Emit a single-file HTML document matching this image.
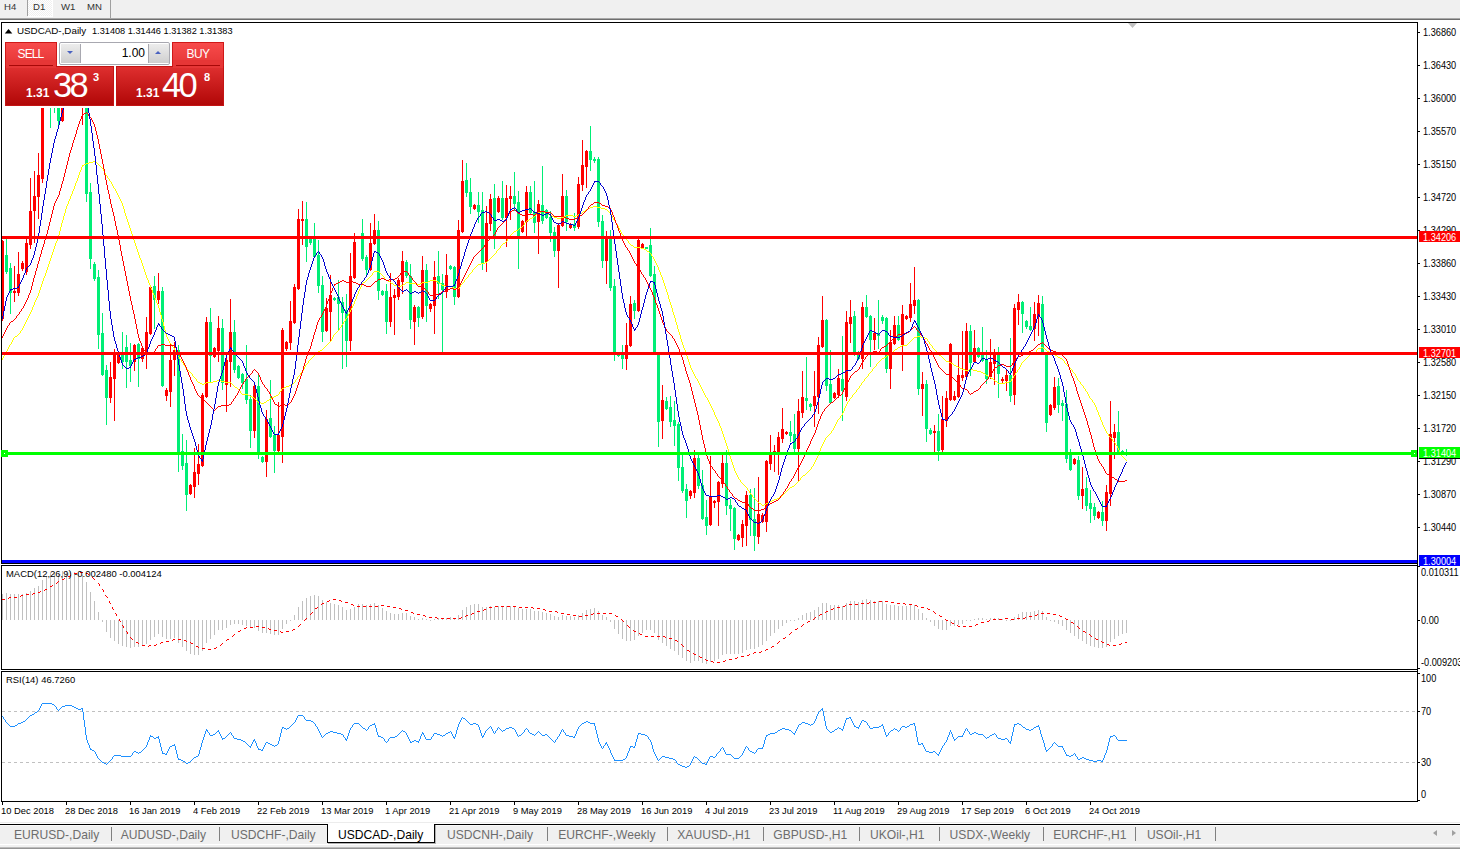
<!DOCTYPE html>
<html><head><meta charset="utf-8"><title>USDCAD-,Daily</title>
<style>
html,body{margin:0;padding:0;background:#fff;}
body{width:1460px;height:849px;position:relative;overflow:hidden;font-family:"Liberation Sans",sans-serif;color:#000;}
div{position:absolute;white-space:nowrap;}
.tbar{left:0;top:0;width:1460px;height:18px;background:#f0f0f0;}
.tb{top:1px;font-size:9.6px;line-height:12px;color:#333;}
.ax{left:1423px;font-size:10.5px;line-height:12px;height:12px;transform:scaleX(.875);transform-origin:0 50%;}
.pl{left:1419px;width:41px;height:11px;color:#fff;overflow:hidden;}
.pl span{position:absolute;left:4px;top:0;font-size:10.5px;line-height:12px;transform:scaleX(.875);transform-origin:0 50%;}
.dt{top:805px;font-size:9.7px;line-height:12px;transform:scaleX(.965);transform-origin:0 50%;}
.tab{top:827px;font-size:12.1px;line-height:16px;color:#6d6d6d;}
.sep{top:827px;width:1px;height:14px;background:#808080;}
.ttl{font-size:9.5px;line-height:12px;}
</style></head><body>
<div class="tbar"></div>
<div style="left:0;top:18px;width:1460px;height:1px;background:#a8a8a8"></div>
<div style="left:0;top:19px;width:1460px;height:1px;background:#6e6e6e"></div>
<div style="left:28px;top:0;width:25px;height:17px;background:#fff"></div><div style="left:28px;top:0;width:24px;height:16px;background:conic-gradient(#fff 25%,#f0f0f0 0 50%,#fff 0 75%,#f0f0f0 0) 0 0/2px 2px"></div>
<div style="left:27px;top:0;width:1px;height:16px;background:#a0a0a0"></div>
<div style="left:110px;top:0;width:1px;height:18px;background:#a0a0a0"></div>
<div class="tb" style="left:4px">H4</div><div class="tb" style="left:33px">D1</div><div class="tb" style="left:61px">W1</div><div class="tb" style="left:87px">MN</div>
<svg width="1460" height="849" viewBox="0 0 1460 849" shape-rendering="crispEdges" style="position:absolute;left:0;top:0">
<defs><clipPath id="cm"><rect x="2" y="23" width="1416" height="540"/></clipPath><clipPath id="c2"><rect x="2" y="566" width="1415" height="103"/></clipPath><clipPath id="c3"><rect x="2" y="672" width="1415" height="129"/></clipPath></defs>
<g clip-path="url(#cm)">
<g fill="#ff0000"><rect x="2" y="240" width="1" height="81"/><rect x="1" y="241" width="3" height="78"/><rect x="14" y="266" width="1" height="36"/><rect x="13" y="291" width="3" height="2"/><rect x="18" y="252" width="1" height="44"/><rect x="17" y="274" width="3" height="19"/><rect x="22" y="261" width="1" height="10"/><rect x="21" y="263" width="3" height="6"/><rect x="26" y="238" width="1" height="37"/><rect x="25" y="243" width="3" height="29"/><rect x="30" y="178" width="1" height="71"/><rect x="29" y="211" width="3" height="34"/><rect x="34" y="171" width="1" height="72"/><rect x="33" y="196" width="3" height="15"/><rect x="38" y="153" width="1" height="66"/><rect x="37" y="175" width="3" height="22"/><rect x="42" y="96" width="1" height="87"/><rect x="41" y="100" width="3" height="79"/><rect x="62" y="80" width="1" height="42"/><rect x="61" y="84" width="3" height="37"/><rect x="66" y="66" width="1" height="23"/><rect x="65" y="76" width="3" height="9"/><rect x="82" y="50" width="1" height="75"/><rect x="81" y="81" width="3" height="8"/><rect x="110" y="362" width="1" height="41"/><rect x="109" y="377" width="3" height="21"/><rect x="114" y="349" width="1" height="72"/><rect x="113" y="353" width="3" height="26"/><rect x="118" y="352" width="1" height="12"/><rect x="117" y="353" width="3" height="10"/><rect x="134" y="344" width="1" height="27"/><rect x="133" y="345" width="3" height="17"/><rect x="142" y="347" width="1" height="15"/><rect x="141" y="348" width="3" height="11"/><rect x="146" y="317" width="1" height="52"/><rect x="145" y="332" width="3" height="21"/><rect x="150" y="286" width="1" height="49"/><rect x="149" y="287" width="3" height="47"/><rect x="158" y="273" width="1" height="31"/><rect x="157" y="291" width="3" height="9"/><rect x="166" y="388" width="1" height="13"/><rect x="165" y="390" width="3" height="6"/><rect x="170" y="344" width="1" height="63"/><rect x="169" y="360" width="3" height="32"/><rect x="174" y="342" width="1" height="34"/><rect x="173" y="350" width="3" height="10"/><rect x="190" y="484" width="1" height="11"/><rect x="189" y="485" width="3" height="9"/><rect x="194" y="448" width="1" height="50"/><rect x="193" y="472" width="3" height="15"/><rect x="198" y="444" width="1" height="41"/><rect x="197" y="464" width="3" height="10"/><rect x="202" y="393" width="1" height="74"/><rect x="201" y="395" width="3" height="71"/><rect x="206" y="317" width="1" height="81"/><rect x="205" y="322" width="3" height="75"/><rect x="214" y="347" width="1" height="11"/><rect x="213" y="348" width="3" height="9"/><rect x="218" y="316" width="1" height="46"/><rect x="217" y="328" width="3" height="23"/><rect x="226" y="355" width="1" height="57"/><rect x="225" y="360" width="3" height="25"/><rect x="230" y="299" width="1" height="88"/><rect x="229" y="332" width="3" height="30"/><rect x="254" y="384" width="1" height="54"/><rect x="253" y="386" width="3" height="45"/><rect x="266" y="410" width="1" height="67"/><rect x="265" y="419" width="3" height="43"/><rect x="278" y="402" width="1" height="50"/><rect x="277" y="435" width="3" height="16"/><rect x="282" y="328" width="1" height="135"/><rect x="281" y="330" width="3" height="107"/><rect x="286" y="341" width="1" height="10"/><rect x="285" y="342" width="3" height="7"/><rect x="290" y="301" width="1" height="49"/><rect x="289" y="321" width="3" height="22"/><rect x="294" y="284" width="1" height="40"/><rect x="293" y="287" width="3" height="36"/><rect x="298" y="209" width="1" height="81"/><rect x="297" y="219" width="3" height="70"/><rect x="302" y="201" width="1" height="44"/><rect x="301" y="219" width="3" height="2"/><rect x="326" y="298" width="1" height="34"/><rect x="325" y="308" width="3" height="23"/><rect x="330" y="275" width="1" height="67"/><rect x="329" y="295" width="3" height="17"/><rect x="350" y="253" width="1" height="98"/><rect x="349" y="276" width="3" height="65"/><rect x="354" y="233" width="1" height="46"/><rect x="353" y="242" width="3" height="36"/><rect x="358" y="236" width="1" height="3"/><rect x="357" y="236" width="3" height="2"/><rect x="370" y="223" width="1" height="48"/><rect x="369" y="243" width="3" height="27"/><rect x="374" y="214" width="1" height="31"/><rect x="373" y="230" width="3" height="14"/><rect x="390" y="273" width="1" height="54"/><rect x="389" y="297" width="3" height="25"/><rect x="394" y="289" width="1" height="46"/><rect x="393" y="295" width="3" height="3"/><rect x="398" y="278" width="1" height="22"/><rect x="397" y="280" width="3" height="17"/><rect x="402" y="251" width="1" height="43"/><rect x="401" y="261" width="3" height="21"/><rect x="414" y="305" width="1" height="40"/><rect x="413" y="307" width="3" height="15"/><rect x="422" y="256" width="1" height="63"/><rect x="421" y="270" width="3" height="47"/><rect x="430" y="303" width="1" height="9"/><rect x="429" y="304" width="3" height="5"/><rect x="434" y="261" width="1" height="73"/><rect x="433" y="277" width="3" height="29"/><rect x="446" y="254" width="1" height="44"/><rect x="445" y="275" width="3" height="17"/><rect x="458" y="220" width="1" height="78"/><rect x="457" y="230" width="3" height="67"/><rect x="462" y="160" width="1" height="73"/><rect x="461" y="181" width="3" height="51"/><rect x="474" y="204" width="1" height="6"/><rect x="473" y="205" width="3" height="4"/><rect x="486" y="206" width="1" height="66"/><rect x="485" y="223" width="3" height="39"/><rect x="490" y="194" width="1" height="37"/><rect x="489" y="199" width="3" height="25"/><rect x="498" y="196" width="1" height="17"/><rect x="497" y="198" width="3" height="14"/><rect x="506" y="185" width="1" height="62"/><rect x="505" y="198" width="3" height="20"/><rect x="510" y="186" width="1" height="34"/><rect x="509" y="196" width="3" height="3"/><rect x="522" y="220" width="1" height="13"/><rect x="521" y="221" width="3" height="11"/><rect x="526" y="186" width="1" height="51"/><rect x="525" y="192" width="3" height="30"/><rect x="538" y="200" width="1" height="54"/><rect x="537" y="204" width="3" height="18"/><rect x="558" y="223" width="1" height="65"/><rect x="557" y="225" width="3" height="26"/><rect x="562" y="174" width="1" height="53"/><rect x="561" y="196" width="3" height="30"/><rect x="570" y="223" width="1" height="6"/><rect x="569" y="224" width="3" height="4"/><rect x="578" y="177" width="1" height="52"/><rect x="577" y="184" width="3" height="43"/><rect x="582" y="140" width="1" height="51"/><rect x="581" y="165" width="3" height="20"/><rect x="586" y="150" width="1" height="38"/><rect x="585" y="151" width="3" height="16"/><rect x="606" y="231" width="1" height="53"/><rect x="605" y="238" width="3" height="23"/><rect x="626" y="323" width="1" height="47"/><rect x="625" y="345" width="3" height="14"/><rect x="630" y="296" width="1" height="51"/><rect x="629" y="304" width="3" height="42"/><rect x="638" y="238" width="1" height="74"/><rect x="637" y="240" width="3" height="71"/><rect x="642" y="243" width="1" height="6"/><rect x="641" y="244" width="3" height="4"/><rect x="662" y="385" width="1" height="54"/><rect x="661" y="400" width="3" height="21"/><rect x="690" y="490" width="1" height="9"/><rect x="689" y="491" width="3" height="5"/><rect x="694" y="450" width="1" height="48"/><rect x="693" y="458" width="3" height="35"/><rect x="710" y="456" width="1" height="70"/><rect x="709" y="496" width="3" height="29"/><rect x="714" y="500" width="1" height="8"/><rect x="713" y="501" width="3" height="2"/><rect x="718" y="481" width="1" height="45"/><rect x="717" y="482" width="3" height="20"/><rect x="722" y="454" width="1" height="34"/><rect x="721" y="463" width="3" height="21"/><rect x="738" y="534" width="1" height="7"/><rect x="737" y="535" width="3" height="5"/><rect x="742" y="520" width="1" height="27"/><rect x="741" y="524" width="3" height="14"/><rect x="746" y="491" width="1" height="55"/><rect x="745" y="495" width="3" height="31"/><rect x="758" y="477" width="1" height="67"/><rect x="757" y="514" width="3" height="23"/><rect x="762" y="513" width="1" height="10"/><rect x="761" y="515" width="3" height="7"/><rect x="766" y="460" width="1" height="72"/><rect x="765" y="461" width="3" height="61"/><rect x="770" y="435" width="1" height="35"/><rect x="769" y="454" width="3" height="10"/><rect x="774" y="445" width="1" height="27"/><rect x="773" y="451" width="3" height="4"/><rect x="778" y="432" width="1" height="43"/><rect x="777" y="437" width="3" height="16"/><rect x="782" y="408" width="1" height="35"/><rect x="781" y="429" width="3" height="10"/><rect x="786" y="431" width="1" height="4"/><rect x="785" y="432" width="3" height="2"/><rect x="798" y="399" width="1" height="82"/><rect x="797" y="411" width="3" height="38"/><rect x="802" y="371" width="1" height="47"/><rect x="801" y="397" width="3" height="16"/><rect x="814" y="371" width="1" height="56"/><rect x="813" y="396" width="3" height="10"/><rect x="818" y="337" width="1" height="77"/><rect x="817" y="345" width="3" height="52"/><rect x="822" y="296" width="1" height="52"/><rect x="821" y="320" width="3" height="27"/><rect x="834" y="392" width="1" height="7"/><rect x="833" y="393" width="3" height="5"/><rect x="838" y="369" width="1" height="29"/><rect x="837" y="378" width="3" height="17"/><rect x="846" y="311" width="1" height="90"/><rect x="845" y="322" width="3" height="75"/><rect x="850" y="300" width="1" height="43"/><rect x="849" y="317" width="3" height="7"/><rect x="862" y="302" width="1" height="67"/><rect x="861" y="307" width="3" height="52"/><rect x="874" y="318" width="1" height="32"/><rect x="873" y="333" width="3" height="7"/><rect x="890" y="330" width="1" height="59"/><rect x="889" y="342" width="3" height="27"/><rect x="894" y="316" width="1" height="29"/><rect x="893" y="325" width="3" height="19"/><rect x="902" y="305" width="1" height="66"/><rect x="901" y="314" width="3" height="31"/><rect x="906" y="315" width="1" height="5"/><rect x="905" y="316" width="3" height="3"/><rect x="910" y="283" width="1" height="39"/><rect x="909" y="304" width="3" height="14"/><rect x="914" y="267" width="1" height="47"/><rect x="913" y="300" width="3" height="6"/><rect x="922" y="372" width="1" height="44"/><rect x="921" y="384" width="3" height="5"/><rect x="934" y="425" width="1" height="28"/><rect x="933" y="431" width="3" height="2"/><rect x="942" y="396" width="1" height="57"/><rect x="941" y="419" width="3" height="31"/><rect x="946" y="391" width="1" height="36"/><rect x="945" y="398" width="3" height="23"/><rect x="950" y="343" width="1" height="58"/><rect x="949" y="344" width="3" height="56"/><rect x="954" y="391" width="1" height="10"/><rect x="953" y="396" width="3" height="4"/><rect x="958" y="354" width="1" height="44"/><rect x="957" y="375" width="3" height="22"/><rect x="962" y="331" width="1" height="50"/><rect x="961" y="375" width="3" height="3"/><rect x="966" y="323" width="1" height="55"/><rect x="965" y="331" width="3" height="46"/><rect x="974" y="330" width="1" height="33"/><rect x="973" y="348" width="3" height="14"/><rect x="990" y="339" width="1" height="40"/><rect x="989" y="362" width="3" height="15"/><rect x="994" y="349" width="1" height="36"/><rect x="993" y="354" width="3" height="10"/><rect x="1002" y="377" width="1" height="6"/><rect x="1001" y="379" width="3" height="2"/><rect x="1006" y="370" width="1" height="21"/><rect x="1005" y="375" width="3" height="6"/><rect x="1014" y="304" width="1" height="101"/><rect x="1013" y="308" width="3" height="87"/><rect x="1018" y="294" width="1" height="31"/><rect x="1017" y="302" width="3" height="8"/><rect x="1034" y="302" width="1" height="39"/><rect x="1033" y="314" width="3" height="15"/><rect x="1038" y="295" width="1" height="41"/><rect x="1037" y="303" width="3" height="13"/><rect x="1050" y="404" width="1" height="12"/><rect x="1049" y="405" width="3" height="10"/><rect x="1054" y="377" width="1" height="33"/><rect x="1053" y="387" width="3" height="21"/><rect x="1074" y="458" width="1" height="7"/><rect x="1073" y="459" width="3" height="5"/><rect x="1082" y="467" width="1" height="42"/><rect x="1081" y="489" width="3" height="7"/><rect x="1098" y="511" width="1" height="8"/><rect x="1097" y="512" width="3" height="6"/><rect x="1106" y="485" width="1" height="46"/><rect x="1105" y="492" width="3" height="29"/><rect x="1110" y="401" width="1" height="105"/><rect x="1109" y="434" width="3" height="60"/><rect x="1114" y="424" width="1" height="35"/><rect x="1113" y="432" width="3" height="6"/></g>
<g fill="#00ee76"><rect x="6" y="236" width="1" height="38"/><rect x="5" y="255" width="3" height="17"/><rect x="10" y="263" width="1" height="51"/><rect x="9" y="268" width="3" height="25"/><rect x="46" y="95" width="1" height="4"/><rect x="45" y="96" width="3" height="2"/><rect x="50" y="88" width="1" height="40"/><rect x="49" y="97" width="3" height="3"/><rect x="54" y="96" width="1" height="17"/><rect x="53" y="99" width="3" height="7"/><rect x="58" y="98" width="1" height="29"/><rect x="57" y="106" width="3" height="15"/><rect x="70" y="76" width="1" height="3"/><rect x="69" y="76" width="3" height="2"/><rect x="74" y="62" width="1" height="30"/><rect x="73" y="77" width="3" height="6"/><rect x="78" y="76" width="1" height="19"/><rect x="77" y="82" width="3" height="7"/><rect x="86" y="78" width="1" height="124"/><rect x="85" y="81" width="3" height="113"/><rect x="90" y="183" width="1" height="86"/><rect x="89" y="192" width="3" height="67"/><rect x="94" y="262" width="1" height="19"/><rect x="93" y="264" width="3" height="15"/><rect x="98" y="270" width="1" height="79"/><rect x="97" y="277" width="3" height="58"/><rect x="102" y="313" width="1" height="63"/><rect x="101" y="333" width="3" height="42"/><rect x="106" y="365" width="1" height="60"/><rect x="105" y="370" width="3" height="28"/><rect x="122" y="332" width="1" height="37"/><rect x="121" y="354" width="3" height="8"/><rect x="126" y="335" width="1" height="53"/><rect x="125" y="347" width="3" height="15"/><rect x="130" y="343" width="1" height="39"/><rect x="129" y="360" width="3" height="6"/><rect x="138" y="343" width="1" height="44"/><rect x="137" y="344" width="3" height="15"/><rect x="154" y="276" width="1" height="53"/><rect x="153" y="286" width="3" height="14"/><rect x="162" y="287" width="1" height="100"/><rect x="161" y="291" width="3" height="95"/><rect x="178" y="345" width="1" height="127"/><rect x="177" y="350" width="3" height="105"/><rect x="182" y="434" width="1" height="36"/><rect x="181" y="451" width="3" height="15"/><rect x="186" y="440" width="1" height="71"/><rect x="185" y="463" width="3" height="32"/><rect x="210" y="308" width="1" height="75"/><rect x="209" y="322" width="3" height="34"/><rect x="222" y="319" width="1" height="71"/><rect x="221" y="328" width="3" height="55"/><rect x="234" y="320" width="1" height="53"/><rect x="233" y="332" width="3" height="38"/><rect x="238" y="365" width="1" height="14"/><rect x="237" y="366" width="3" height="12"/><rect x="242" y="373" width="1" height="16"/><rect x="241" y="374" width="3" height="9"/><rect x="246" y="345" width="1" height="59"/><rect x="245" y="379" width="3" height="21"/><rect x="250" y="395" width="1" height="53"/><rect x="249" y="399" width="3" height="32"/><rect x="258" y="374" width="1" height="85"/><rect x="257" y="386" width="3" height="68"/><rect x="262" y="456" width="1" height="7"/><rect x="261" y="457" width="3" height="5"/><rect x="270" y="380" width="1" height="58"/><rect x="269" y="418" width="3" height="19"/><rect x="274" y="426" width="1" height="47"/><rect x="273" y="435" width="3" height="16"/><rect x="306" y="202" width="1" height="60"/><rect x="305" y="219" width="3" height="28"/><rect x="310" y="236" width="1" height="9"/><rect x="309" y="238" width="3" height="5"/><rect x="314" y="223" width="1" height="35"/><rect x="313" y="238" width="3" height="19"/><rect x="318" y="240" width="1" height="53"/><rect x="317" y="255" width="3" height="31"/><rect x="322" y="276" width="1" height="66"/><rect x="321" y="285" width="3" height="47"/><rect x="334" y="297" width="1" height="4"/><rect x="333" y="298" width="3" height="2"/><rect x="338" y="280" width="1" height="51"/><rect x="337" y="297" width="3" height="7"/><rect x="342" y="297" width="1" height="72"/><rect x="341" y="302" width="3" height="11"/><rect x="346" y="294" width="1" height="73"/><rect x="345" y="310" width="3" height="31"/><rect x="362" y="219" width="1" height="42"/><rect x="361" y="233" width="3" height="26"/><rect x="366" y="255" width="1" height="20"/><rect x="365" y="257" width="3" height="13"/><rect x="378" y="221" width="1" height="79"/><rect x="377" y="230" width="3" height="61"/><rect x="382" y="290" width="1" height="6"/><rect x="381" y="291" width="3" height="4"/><rect x="386" y="284" width="1" height="50"/><rect x="385" y="291" width="3" height="31"/><rect x="406" y="260" width="1" height="18"/><rect x="405" y="262" width="3" height="14"/><rect x="410" y="264" width="1" height="65"/><rect x="409" y="276" width="3" height="44"/><rect x="418" y="306" width="1" height="21"/><rect x="417" y="307" width="3" height="11"/><rect x="426" y="264" width="1" height="58"/><rect x="425" y="270" width="3" height="36"/><rect x="438" y="251" width="1" height="48"/><rect x="437" y="276" width="3" height="8"/><rect x="442" y="274" width="1" height="78"/><rect x="441" y="283" width="3" height="7"/><rect x="450" y="265" width="1" height="5"/><rect x="449" y="266" width="3" height="3"/><rect x="454" y="266" width="1" height="39"/><rect x="453" y="267" width="3" height="30"/><rect x="466" y="163" width="1" height="34"/><rect x="465" y="180" width="3" height="13"/><rect x="470" y="178" width="1" height="36"/><rect x="469" y="192" width="3" height="15"/><rect x="478" y="192" width="1" height="31"/><rect x="477" y="205" width="3" height="7"/><rect x="482" y="192" width="1" height="78"/><rect x="481" y="210" width="3" height="53"/><rect x="494" y="184" width="1" height="65"/><rect x="493" y="198" width="3" height="38"/><rect x="502" y="181" width="1" height="39"/><rect x="501" y="198" width="3" height="20"/><rect x="514" y="172" width="1" height="39"/><rect x="513" y="196" width="3" height="8"/><rect x="518" y="191" width="1" height="78"/><rect x="517" y="202" width="3" height="34"/><rect x="530" y="186" width="1" height="29"/><rect x="529" y="192" width="3" height="21"/><rect x="534" y="181" width="1" height="52"/><rect x="533" y="212" width="3" height="11"/><rect x="542" y="166" width="1" height="58"/><rect x="541" y="205" width="3" height="16"/><rect x="546" y="209" width="1" height="10"/><rect x="545" y="210" width="3" height="8"/><rect x="550" y="211" width="1" height="31"/><rect x="549" y="217" width="3" height="16"/><rect x="554" y="227" width="1" height="30"/><rect x="553" y="232" width="3" height="19"/><rect x="566" y="190" width="1" height="41"/><rect x="565" y="196" width="3" height="26"/><rect x="574" y="213" width="1" height="18"/><rect x="573" y="224" width="3" height="4"/><rect x="590" y="126" width="1" height="45"/><rect x="589" y="151" width="3" height="9"/><rect x="594" y="157" width="1" height="6"/><rect x="593" y="159" width="3" height="2"/><rect x="598" y="157" width="1" height="70"/><rect x="597" y="159" width="3" height="63"/><rect x="602" y="215" width="1" height="53"/><rect x="601" y="221" width="3" height="40"/><rect x="610" y="230" width="1" height="61"/><rect x="609" y="239" width="3" height="49"/><rect x="614" y="279" width="1" height="82"/><rect x="613" y="286" width="3" height="69"/><rect x="618" y="353" width="1" height="4"/><rect x="617" y="354" width="3" height="2"/><rect x="622" y="345" width="1" height="24"/><rect x="621" y="354" width="3" height="5"/><rect x="634" y="300" width="1" height="19"/><rect x="633" y="303" width="3" height="8"/><rect x="646" y="247" width="1" height="2"/><rect x="645" y="247" width="3" height="2"/><rect x="650" y="228" width="1" height="49"/><rect x="649" y="245" width="3" height="31"/><rect x="654" y="266" width="1" height="89"/><rect x="653" y="274" width="3" height="80"/><rect x="658" y="352" width="1" height="95"/><rect x="657" y="353" width="3" height="69"/><rect x="666" y="397" width="1" height="13"/><rect x="665" y="401" width="3" height="8"/><rect x="670" y="396" width="1" height="31"/><rect x="669" y="407" width="3" height="15"/><rect x="674" y="401" width="1" height="45"/><rect x="673" y="420" width="3" height="6"/><rect x="678" y="422" width="1" height="59"/><rect x="677" y="424" width="3" height="44"/><rect x="682" y="454" width="1" height="39"/><rect x="681" y="467" width="3" height="24"/><rect x="686" y="484" width="1" height="34"/><rect x="685" y="489" width="3" height="12"/><rect x="698" y="455" width="1" height="34"/><rect x="697" y="458" width="3" height="28"/><rect x="702" y="470" width="1" height="50"/><rect x="701" y="485" width="3" height="34"/><rect x="706" y="500" width="1" height="35"/><rect x="705" y="517" width="3" height="9"/><rect x="726" y="450" width="1" height="65"/><rect x="725" y="463" width="3" height="43"/><rect x="730" y="499" width="1" height="32"/><rect x="729" y="505" width="3" height="4"/><rect x="734" y="507" width="1" height="43"/><rect x="733" y="508" width="3" height="31"/><rect x="750" y="489" width="1" height="47"/><rect x="749" y="495" width="3" height="25"/><rect x="754" y="488" width="1" height="63"/><rect x="753" y="519" width="3" height="17"/><rect x="790" y="421" width="1" height="21"/><rect x="789" y="432" width="3" height="4"/><rect x="794" y="414" width="1" height="39"/><rect x="793" y="434" width="3" height="15"/><rect x="806" y="357" width="1" height="53"/><rect x="805" y="398" width="3" height="3"/><rect x="810" y="403" width="1" height="8"/><rect x="809" y="404" width="3" height="3"/><rect x="826" y="319" width="1" height="72"/><rect x="825" y="320" width="3" height="66"/><rect x="830" y="350" width="1" height="54"/><rect x="829" y="384" width="3" height="19"/><rect x="842" y="336" width="1" height="85"/><rect x="841" y="379" width="3" height="12"/><rect x="854" y="311" width="1" height="45"/><rect x="853" y="316" width="3" height="36"/><rect x="858" y="351" width="1" height="9"/><rect x="857" y="352" width="3" height="7"/><rect x="866" y="295" width="1" height="23"/><rect x="865" y="307" width="3" height="10"/><rect x="870" y="315" width="1" height="52"/><rect x="869" y="316" width="3" height="24"/><rect x="878" y="300" width="1" height="49"/><rect x="877" y="333" width="3" height="3"/><rect x="882" y="315" width="1" height="9"/><rect x="881" y="317" width="3" height="4"/><rect x="886" y="317" width="1" height="56"/><rect x="885" y="318" width="3" height="51"/><rect x="898" y="316" width="1" height="25"/><rect x="897" y="325" width="3" height="15"/><rect x="918" y="299" width="1" height="96"/><rect x="917" y="300" width="3" height="89"/><rect x="926" y="380" width="1" height="62"/><rect x="925" y="384" width="3" height="45"/><rect x="930" y="428" width="1" height="7"/><rect x="929" y="430" width="3" height="4"/><rect x="938" y="414" width="1" height="47"/><rect x="937" y="431" width="3" height="20"/><rect x="970" y="325" width="1" height="51"/><rect x="969" y="331" width="3" height="32"/><rect x="978" y="347" width="1" height="11"/><rect x="977" y="348" width="3" height="9"/><rect x="982" y="327" width="1" height="35"/><rect x="981" y="354" width="3" height="7"/><rect x="986" y="350" width="1" height="34"/><rect x="985" y="359" width="3" height="20"/><rect x="998" y="347" width="1" height="51"/><rect x="997" y="354" width="3" height="20"/><rect x="1010" y="338" width="1" height="64"/><rect x="1009" y="375" width="3" height="21"/><rect x="1022" y="301" width="1" height="32"/><rect x="1021" y="302" width="3" height="12"/><rect x="1026" y="320" width="1" height="9"/><rect x="1025" y="321" width="3" height="6"/><rect x="1030" y="307" width="1" height="24"/><rect x="1029" y="326" width="3" height="4"/><rect x="1042" y="296" width="1" height="59"/><rect x="1041" y="304" width="3" height="50"/><rect x="1046" y="352" width="1" height="80"/><rect x="1045" y="353" width="3" height="70"/><rect x="1058" y="378" width="1" height="35"/><rect x="1057" y="386" width="3" height="19"/><rect x="1062" y="400" width="1" height="21"/><rect x="1061" y="403" width="3" height="3"/><rect x="1066" y="390" width="1" height="73"/><rect x="1065" y="404" width="3" height="55"/><rect x="1070" y="449" width="1" height="22"/><rect x="1069" y="455" width="3" height="15"/><rect x="1078" y="456" width="1" height="44"/><rect x="1077" y="460" width="3" height="36"/><rect x="1086" y="477" width="1" height="34"/><rect x="1085" y="488" width="3" height="18"/><rect x="1090" y="490" width="1" height="33"/><rect x="1089" y="503" width="3" height="6"/><rect x="1094" y="503" width="1" height="17"/><rect x="1093" y="507" width="3" height="9"/><rect x="1102" y="501" width="1" height="25"/><rect x="1101" y="512" width="3" height="9"/><rect x="1118" y="411" width="1" height="42"/><rect x="1117" y="432" width="3" height="20"/><rect x="1122" y="450" width="1" height="4"/><rect x="1121" y="451" width="3" height="2"/><rect x="1126" y="449" width="1" height="7"/><rect x="1125" y="452" width="3" height="3"/></g>
<path d="M2 358h1v2h-1zM3 356h1v2h-1zM4 354h1v2h-1zM5 352h1v2h-1zM6 351h1v1h-1zM7 349h1v2h-1zM8 347h1v2h-1zM9 345h1v2h-1zM10 344h1v1h-1zM11 342h1v2h-1zM12 340h1v2h-1zM13 338h1v2h-1zM14 337h1v1h-1zM15 336h1v1h-1zM16 336h1v1h-1zM17 335h1v1h-1zM18 334h1v1h-1zM19 333h1v1h-1zM20 331h1v2h-1zM21 330h1v1h-1zM22 328h1v2h-1zM23 326h1v2h-1zM24 324h1v2h-1zM25 322h1v2h-1zM26 320h1v2h-1zM27 318h1v2h-1zM28 316h1v2h-1zM29 314h1v2h-1zM30 312h1v2h-1zM31 310h1v2h-1zM32 307h1v3h-1zM33 305h1v2h-1zM34 302h1v3h-1zM35 300h1v2h-1zM36 298h1v2h-1zM37 296h1v2h-1zM38 293h1v3h-1zM39 290h1v3h-1zM40 287h1v3h-1zM41 284h1v3h-1zM42 281h1v3h-1zM43 278h1v3h-1zM44 276h1v2h-1zM45 273h1v3h-1zM46 270h1v3h-1zM47 267h1v3h-1zM48 264h1v3h-1zM49 261h1v3h-1zM50 258h1v3h-1zM51 255h1v3h-1zM52 252h1v3h-1zM53 249h1v3h-1zM54 246h1v3h-1zM55 243h1v3h-1zM56 241h1v2h-1zM57 238h1v3h-1zM58 235h1v3h-1zM59 231h1v4h-1zM60 227h1v4h-1zM61 223h1v4h-1zM62 220h1v3h-1zM63 216h1v4h-1zM64 213h1v3h-1zM65 209h1v4h-1zM66 206h1v3h-1zM67 204h1v2h-1zM68 201h1v3h-1zM69 199h1v2h-1zM70 196h1v3h-1zM71 194h1v2h-1zM72 191h1v3h-1zM73 189h1v2h-1zM74 186h1v3h-1zM75 183h1v3h-1zM76 181h1v2h-1zM77 178h1v3h-1zM78 175h1v3h-1zM79 172h1v3h-1zM80 170h1v2h-1zM81 167h1v3h-1zM82 165h1v2h-1zM83 165h1v1h-1zM84 164h1v1h-1zM85 164h1v1h-1zM86 163h1v1h-1zM87 163h1v1h-1zM88 163h1v1h-1zM89 162h1v1h-1zM90 162h1v1h-1zM91 162h1v1h-1zM92 162h1v1h-1zM93 161h1v1h-1zM94 161h1v1h-1zM95 162h1v1h-1zM96 162h1v1h-1zM97 163h1v1h-1zM98 164h1v1h-1zM99 165h1v1h-1zM100 166h1v1h-1zM101 167h1v1h-1zM102 168h1v1h-1zM103 169h1v2h-1zM104 171h1v2h-1zM105 173h1v2h-1zM106 175h1v1h-1zM107 176h1v2h-1zM108 178h1v1h-1zM109 179h1v2h-1zM110 181h1v1h-1zM111 182h1v2h-1zM112 184h1v2h-1zM113 186h1v2h-1zM114 188h1v1h-1zM115 189h1v2h-1zM116 191h1v2h-1zM117 193h1v2h-1zM118 195h1v2h-1zM119 197h1v2h-1zM120 199h1v2h-1zM121 201h1v2h-1zM122 203h1v3h-1zM123 206h1v3h-1zM124 209h1v4h-1zM125 213h1v3h-1zM126 216h1v3h-1zM127 219h1v3h-1zM128 222h1v3h-1zM129 225h1v3h-1zM130 228h1v3h-1zM131 231h1v3h-1zM132 234h1v3h-1zM133 237h1v3h-1zM134 240h1v3h-1zM135 243h1v3h-1zM136 246h1v3h-1zM137 249h1v3h-1zM138 252h1v3h-1zM139 255h1v3h-1zM140 258h1v2h-1zM141 260h1v3h-1zM142 263h1v3h-1zM143 266h1v3h-1zM144 269h1v3h-1zM145 272h1v3h-1zM146 275h1v3h-1zM147 278h1v2h-1zM148 280h1v3h-1zM149 283h1v2h-1zM150 285h1v3h-1zM151 288h1v2h-1zM152 290h1v3h-1zM153 293h1v2h-1zM154 295h1v3h-1zM155 298h1v2h-1zM156 300h1v3h-1zM157 303h1v2h-1zM158 305h1v3h-1zM159 308h1v4h-1zM160 312h1v3h-1zM161 315h1v4h-1zM162 319h1v3h-1zM163 322h1v4h-1zM164 326h1v4h-1zM165 330h1v4h-1zM166 334h1v3h-1zM167 337h1v2h-1zM168 339h1v2h-1zM169 341h1v2h-1zM170 343h1v1h-1zM171 344h1v1h-1zM172 345h1v2h-1zM173 347h1v1h-1zM174 348h1v2h-1zM175 350h1v2h-1zM176 352h1v2h-1zM177 354h1v2h-1zM178 356h1v1h-1zM179 357h1v2h-1zM180 359h1v1h-1zM181 360h1v2h-1zM182 362h1v1h-1zM183 363h1v2h-1zM184 365h1v1h-1zM185 366h1v2h-1zM186 368h1v1h-1zM187 369h1v1h-1zM188 370h1v1h-1zM189 371h1v1h-1zM190 372h1v1h-1zM191 373h1v1h-1zM192 374h1v2h-1zM193 376h1v1h-1zM194 377h1v1h-1zM195 378h1v1h-1zM196 379h1v2h-1zM197 381h1v1h-1zM198 382h1v1h-1zM199 382h1v1h-1zM200 383h1v1h-1zM201 383h1v1h-1zM202 384h1v1h-1zM203 384h1v1h-1zM204 383h1v1h-1zM205 383h1v1h-1zM206 382h1v1h-1zM207 382h1v1h-1zM208 382h1v1h-1zM209 382h1v1h-1zM210 382h1v1h-1zM211 382h1v1h-1zM212 382h1v1h-1zM213 381h1v1h-1zM214 381h1v1h-1zM215 381h1v1h-1zM216 381h1v1h-1zM217 380h1v1h-1zM218 380h1v1h-1zM219 380h1v1h-1zM220 380h1v1h-1zM221 381h1v1h-1zM222 381h1v1h-1zM223 381h1v1h-1zM224 381h1v1h-1zM225 382h1v1h-1zM226 382h1v1h-1zM227 382h1v1h-1zM228 382h1v1h-1zM229 382h1v1h-1zM230 382h1v1h-1zM231 383h1v1h-1zM232 384h1v1h-1zM233 385h1v1h-1zM234 386h1v1h-1zM235 387h1v1h-1zM236 387h1v1h-1zM237 388h1v1h-1zM238 389h1v1h-1zM239 390h1v1h-1zM240 391h1v2h-1zM241 393h1v1h-1zM242 394h1v1h-1zM243 394h1v1h-1zM244 394h1v1h-1zM245 394h1v1h-1zM246 394h1v1h-1zM247 394h1v1h-1zM248 395h1v1h-1zM249 395h1v1h-1zM250 396h1v1h-1zM251 396h1v1h-1zM252 397h1v1h-1zM253 397h1v1h-1zM254 398h1v1h-1zM255 399h1v1h-1zM256 400h1v1h-1zM257 401h1v1h-1zM258 402h1v1h-1zM259 402h1v1h-1zM260 402h1v1h-1zM261 403h1v1h-1zM262 403h1v1h-1zM263 403h1v1h-1zM264 402h1v1h-1zM265 402h1v1h-1zM266 401h1v1h-1zM267 400h1v1h-1zM268 400h1v1h-1zM269 399h1v1h-1zM270 398h1v1h-1zM271 398h1v1h-1zM272 397h1v1h-1zM273 397h1v1h-1zM274 396h1v1h-1zM275 396h1v1h-1zM276 395h1v1h-1zM277 395h1v1h-1zM278 394h1v1h-1zM279 392h1v2h-1zM280 391h1v1h-1zM281 389h1v2h-1zM282 388h1v1h-1zM283 388h1v1h-1zM284 387h1v1h-1zM285 387h1v1h-1zM286 386h1v1h-1zM287 386h1v1h-1zM288 386h1v1h-1zM289 385h1v1h-1zM290 385h1v1h-1zM291 384h1v1h-1zM292 384h1v1h-1zM293 383h1v1h-1zM294 382h1v1h-1zM295 380h1v2h-1zM296 379h1v1h-1zM297 377h1v2h-1zM298 376h1v1h-1zM299 375h1v1h-1zM300 373h1v2h-1zM301 372h1v1h-1zM302 371h1v1h-1zM303 369h1v2h-1zM304 367h1v2h-1zM305 365h1v2h-1zM306 364h1v1h-1zM307 363h1v1h-1zM308 361h1v2h-1zM309 360h1v1h-1zM310 359h1v1h-1zM311 358h1v1h-1zM312 357h1v1h-1zM313 356h1v1h-1zM314 355h1v1h-1zM315 354h1v1h-1zM316 353h1v1h-1zM317 352h1v1h-1zM318 351h1v1h-1zM319 351h1v1h-1zM320 350h1v1h-1zM321 350h1v1h-1zM322 349h1v1h-1zM323 348h1v1h-1zM324 347h1v1h-1zM325 346h1v1h-1zM326 345h1v1h-1zM327 344h1v1h-1zM328 343h1v1h-1zM329 342h1v1h-1zM330 341h1v1h-1zM331 339h1v2h-1zM332 337h1v2h-1zM333 335h1v2h-1zM334 334h1v1h-1zM335 333h1v1h-1zM336 332h1v1h-1zM337 331h1v1h-1zM338 330h1v1h-1zM339 328h1v2h-1zM340 327h1v1h-1zM341 325h1v2h-1zM342 324h1v1h-1zM343 322h1v2h-1zM344 321h1v1h-1zM345 319h1v2h-1zM346 318h1v1h-1zM347 316h1v2h-1zM348 314h1v2h-1zM349 312h1v2h-1zM350 310h1v2h-1zM351 308h1v2h-1zM352 306h1v2h-1zM353 304h1v2h-1zM354 301h1v3h-1zM355 299h1v2h-1zM356 296h1v3h-1zM357 294h1v2h-1zM358 291h1v3h-1zM359 289h1v2h-1zM360 287h1v2h-1zM361 285h1v2h-1zM362 283h1v2h-1zM363 282h1v1h-1zM364 282h1v1h-1zM365 281h1v1h-1zM366 280h1v1h-1zM367 279h1v1h-1zM368 278h1v1h-1zM369 277h1v1h-1zM370 276h1v1h-1zM371 275h1v1h-1zM372 273h1v2h-1zM373 272h1v1h-1zM374 271h1v1h-1zM375 271h1v1h-1zM376 271h1v1h-1zM377 271h1v1h-1zM378 271h1v1h-1zM379 272h1v1h-1zM380 273h1v1h-1zM381 274h1v1h-1zM382 275h1v1h-1zM383 276h1v1h-1zM384 277h1v2h-1zM385 279h1v1h-1zM386 280h1v1h-1zM387 280h1v1h-1zM388 281h1v1h-1zM389 281h1v1h-1zM390 282h1v1h-1zM391 283h1v1h-1zM392 283h1v1h-1zM393 284h1v1h-1zM394 285h1v1h-1zM395 285h1v1h-1zM396 285h1v1h-1zM397 286h1v1h-1zM398 286h1v1h-1zM399 286h1v1h-1zM400 286h1v1h-1zM401 285h1v1h-1zM402 285h1v1h-1zM403 284h1v1h-1zM404 284h1v1h-1zM405 283h1v1h-1zM406 282h1v1h-1zM407 282h1v1h-1zM408 282h1v1h-1zM409 283h1v1h-1zM410 283h1v1h-1zM411 283h1v1h-1zM412 283h1v1h-1zM413 283h1v1h-1zM414 283h1v1h-1zM415 283h1v1h-1zM416 283h1v1h-1zM417 284h1v1h-1zM418 284h1v1h-1zM419 284h1v1h-1zM420 283h1v1h-1zM421 283h1v1h-1zM422 282h1v1h-1zM423 282h1v1h-1zM424 282h1v1h-1zM425 282h1v1h-1zM426 282h1v1h-1zM427 282h1v1h-1zM428 281h1v1h-1zM429 281h1v1h-1zM430 280h1v1h-1zM431 280h1v1h-1zM432 280h1v1h-1zM433 280h1v1h-1zM434 280h1v1h-1zM435 280h1v1h-1zM436 281h1v1h-1zM437 281h1v1h-1zM438 282h1v1h-1zM439 283h1v1h-1zM440 283h1v1h-1zM441 284h1v1h-1zM442 285h1v1h-1zM443 285h1v1h-1zM444 285h1v1h-1zM445 286h1v1h-1zM446 286h1v1h-1zM447 286h1v1h-1zM448 286h1v1h-1zM449 286h1v1h-1zM450 286h1v1h-1zM451 286h1v1h-1zM452 287h1v1h-1zM453 287h1v1h-1zM454 288h1v1h-1zM455 288h1v1h-1zM456 288h1v1h-1zM457 288h1v1h-1zM458 288h1v1h-1zM459 287h1v1h-1zM460 285h1v2h-1zM461 284h1v1h-1zM462 283h1v1h-1zM463 282h1v1h-1zM464 280h1v2h-1zM465 279h1v1h-1zM466 278h1v1h-1zM467 277h1v1h-1zM468 275h1v2h-1zM469 274h1v1h-1zM470 273h1v1h-1zM471 272h1v1h-1zM472 270h1v2h-1zM473 269h1v1h-1zM474 268h1v1h-1zM475 267h1v1h-1zM476 266h1v1h-1zM477 265h1v1h-1zM478 264h1v1h-1zM479 264h1v1h-1zM480 264h1v1h-1zM481 263h1v1h-1zM482 263h1v1h-1zM483 263h1v1h-1zM484 263h1v1h-1zM485 262h1v1h-1zM486 262h1v1h-1zM487 261h1v1h-1zM488 260h1v1h-1zM489 259h1v1h-1zM490 258h1v1h-1zM491 257h1v1h-1zM492 256h1v1h-1zM493 255h1v1h-1zM494 254h1v1h-1zM495 253h1v1h-1zM496 251h1v2h-1zM497 250h1v1h-1zM498 249h1v1h-1zM499 248h1v1h-1zM500 246h1v2h-1zM501 245h1v1h-1zM502 244h1v1h-1zM503 243h1v1h-1zM504 243h1v1h-1zM505 242h1v1h-1zM506 241h1v1h-1zM507 239h1v2h-1zM508 238h1v1h-1zM509 236h1v2h-1zM510 235h1v1h-1zM511 234h1v1h-1zM512 233h1v1h-1zM513 232h1v1h-1zM514 231h1v1h-1zM515 231h1v1h-1zM516 230h1v1h-1zM517 230h1v1h-1zM518 229h1v1h-1zM519 228h1v1h-1zM520 228h1v1h-1zM521 227h1v1h-1zM522 226h1v1h-1zM523 225h1v1h-1zM524 223h1v2h-1zM525 222h1v1h-1zM526 221h1v1h-1zM527 220h1v1h-1zM528 220h1v1h-1zM529 219h1v1h-1zM530 218h1v1h-1zM531 218h1v1h-1zM532 217h1v1h-1zM533 217h1v1h-1zM534 216h1v1h-1zM535 215h1v1h-1zM536 214h1v1h-1zM537 213h1v1h-1zM538 212h1v1h-1zM539 212h1v1h-1zM540 212h1v1h-1zM541 211h1v1h-1zM542 211h1v1h-1zM543 211h1v1h-1zM544 212h1v1h-1zM545 212h1v1h-1zM546 213h1v1h-1zM547 213h1v1h-1zM548 214h1v1h-1zM549 214h1v1h-1zM550 215h1v1h-1zM551 215h1v1h-1zM552 216h1v1h-1zM553 216h1v1h-1zM554 217h1v1h-1zM555 217h1v1h-1zM556 217h1v1h-1zM557 218h1v1h-1zM558 218h1v1h-1zM559 218h1v1h-1zM560 218h1v1h-1zM561 217h1v1h-1zM562 217h1v1h-1zM563 217h1v1h-1zM564 216h1v1h-1zM565 216h1v1h-1zM566 215h1v1h-1zM567 215h1v1h-1zM568 215h1v1h-1zM569 215h1v1h-1zM570 215h1v1h-1zM571 215h1v1h-1zM572 215h1v1h-1zM573 216h1v1h-1zM574 216h1v1h-1zM575 216h1v1h-1zM576 215h1v1h-1zM577 215h1v1h-1zM578 214h1v1h-1zM579 214h1v1h-1zM580 213h1v1h-1zM581 213h1v1h-1zM582 212h1v1h-1zM583 211h1v1h-1zM584 211h1v1h-1zM585 210h1v1h-1zM586 209h1v1h-1zM587 209h1v1h-1zM588 208h1v1h-1zM589 208h1v1h-1zM590 207h1v1h-1zM591 207h1v1h-1zM592 207h1v1h-1zM593 206h1v1h-1zM594 206h1v1h-1zM595 206h1v1h-1zM596 206h1v1h-1zM597 207h1v1h-1zM598 207h1v1h-1zM599 207h1v1h-1zM600 207h1v1h-1zM601 208h1v1h-1zM602 208h1v1h-1zM603 208h1v1h-1zM604 208h1v1h-1zM605 209h1v1h-1zM606 209h1v1h-1zM607 210h1v1h-1zM608 211h1v1h-1zM609 212h1v1h-1zM610 213h1v1h-1zM611 214h1v2h-1zM612 216h1v2h-1zM613 218h1v2h-1zM614 220h1v1h-1zM615 221h1v2h-1zM616 223h1v1h-1zM617 224h1v2h-1zM618 226h1v2h-1zM619 228h1v2h-1zM620 230h1v2h-1zM621 232h1v2h-1zM622 234h1v1h-1zM623 235h1v1h-1zM624 236h1v2h-1zM625 238h1v1h-1zM626 239h1v1h-1zM627 240h1v1h-1zM628 241h1v2h-1zM629 243h1v1h-1zM630 244h1v1h-1zM631 245h1v1h-1zM632 245h1v1h-1zM633 246h1v1h-1zM634 247h1v1h-1zM635 247h1v1h-1zM636 247h1v1h-1zM637 247h1v1h-1zM638 247h1v1h-1zM639 247h1v1h-1zM640 247h1v1h-1zM641 248h1v1h-1zM642 248h1v1h-1zM643 248h1v1h-1zM644 249h1v1h-1zM645 249h1v1h-1zM646 250h1v1h-1zM647 251h1v1h-1zM648 251h1v1h-1zM649 252h1v1h-1zM650 253h1v1h-1zM651 254h1v2h-1zM652 256h1v1h-1zM653 257h1v2h-1zM654 259h1v2h-1zM655 261h1v2h-1zM656 263h1v2h-1zM657 265h1v2h-1zM658 267h1v3h-1zM659 270h1v2h-1zM660 272h1v3h-1zM661 275h1v2h-1zM662 277h1v3h-1zM663 280h1v3h-1zM664 283h1v3h-1zM665 286h1v3h-1zM666 289h1v3h-1zM667 292h1v3h-1zM668 295h1v4h-1zM669 299h1v3h-1zM670 302h1v3h-1zM671 305h1v3h-1zM672 308h1v4h-1zM673 312h1v3h-1zM674 315h1v3h-1zM675 318h1v4h-1zM676 322h1v3h-1zM677 325h1v4h-1zM678 329h1v3h-1zM679 332h1v3h-1zM680 335h1v4h-1zM681 339h1v3h-1zM682 342h1v3h-1zM683 345h1v3h-1zM684 348h1v2h-1zM685 350h1v3h-1zM686 353h1v3h-1zM687 356h1v3h-1zM688 359h1v3h-1zM689 362h1v3h-1zM690 365h1v3h-1zM691 368h1v2h-1zM692 370h1v2h-1zM693 372h1v2h-1zM694 374h1v2h-1zM695 376h1v2h-1zM696 378h1v1h-1zM697 379h1v2h-1zM698 381h1v2h-1zM699 383h1v2h-1zM700 385h1v2h-1zM701 387h1v2h-1zM702 389h1v2h-1zM703 391h1v2h-1zM704 393h1v2h-1zM705 395h1v2h-1zM706 397h1v1h-1zM707 398h1v2h-1zM708 400h1v2h-1zM709 402h1v2h-1zM710 404h1v2h-1zM711 406h1v2h-1zM712 408h1v2h-1zM713 410h1v2h-1zM714 412h1v3h-1zM715 415h1v2h-1zM716 417h1v2h-1zM717 419h1v2h-1zM718 421h1v2h-1zM719 423h1v3h-1zM720 426h1v2h-1zM721 428h1v3h-1zM722 431h1v3h-1zM723 434h1v3h-1zM724 437h1v3h-1zM725 440h1v3h-1zM726 443h1v3h-1zM727 446h1v3h-1zM728 449h1v4h-1zM729 453h1v3h-1zM730 456h1v3h-1zM731 459h1v3h-1zM732 462h1v3h-1zM733 465h1v3h-1zM734 468h1v3h-1zM735 471h1v2h-1zM736 473h1v2h-1zM737 475h1v2h-1zM738 477h1v2h-1zM739 479h1v1h-1zM740 480h1v2h-1zM741 482h1v1h-1zM742 483h1v1h-1zM743 484h1v1h-1zM744 485h1v1h-1zM745 486h1v1h-1zM746 487h1v1h-1zM747 488h1v2h-1zM748 490h1v1h-1zM749 491h1v2h-1zM750 493h1v1h-1zM751 494h1v1h-1zM752 495h1v2h-1zM753 497h1v1h-1zM754 498h1v1h-1zM755 499h1v1h-1zM756 500h1v1h-1zM757 501h1v1h-1zM758 502h1v1h-1zM759 503h1v1h-1zM760 503h1v1h-1zM761 504h1v1h-1zM762 505h1v1h-1zM763 505h1v1h-1zM764 504h1v1h-1zM765 504h1v1h-1zM766 503h1v1h-1zM767 503h1v1h-1zM768 502h1v1h-1zM769 502h1v1h-1zM770 501h1v1h-1zM771 501h1v1h-1zM772 500h1v1h-1zM773 500h1v1h-1zM774 499h1v1h-1zM775 499h1v1h-1zM776 499h1v1h-1zM777 498h1v1h-1zM778 498h1v1h-1zM779 497h1v1h-1zM780 497h1v1h-1zM781 496h1v1h-1zM782 495h1v1h-1zM783 494h1v1h-1zM784 493h1v1h-1zM785 492h1v1h-1zM786 491h1v1h-1zM787 490h1v1h-1zM788 489h1v1h-1zM789 488h1v1h-1zM790 487h1v1h-1zM791 487h1v1h-1zM792 486h1v1h-1zM793 486h1v1h-1zM794 485h1v1h-1zM795 484h1v1h-1zM796 483h1v1h-1zM797 482h1v1h-1zM798 481h1v1h-1zM799 480h1v1h-1zM800 478h1v2h-1zM801 477h1v1h-1zM802 476h1v1h-1zM803 475h1v1h-1zM804 475h1v1h-1zM805 474h1v1h-1zM806 473h1v1h-1zM807 472h1v1h-1zM808 471h1v1h-1zM809 470h1v1h-1zM810 469h1v1h-1zM811 467h1v2h-1zM812 466h1v1h-1zM813 464h1v2h-1zM814 462h1v2h-1zM815 460h1v2h-1zM816 458h1v2h-1zM817 456h1v2h-1zM818 453h1v3h-1zM819 451h1v2h-1zM820 448h1v3h-1zM821 446h1v2h-1zM822 444h1v2h-1zM823 442h1v2h-1zM824 440h1v2h-1zM825 438h1v2h-1zM826 437h1v1h-1zM827 436h1v1h-1zM828 435h1v1h-1zM829 434h1v1h-1zM830 433h1v1h-1zM831 431h1v2h-1zM832 430h1v1h-1zM833 428h1v2h-1zM834 426h1v2h-1zM835 424h1v2h-1zM836 422h1v2h-1zM837 420h1v2h-1zM838 419h1v1h-1zM839 418h1v1h-1zM840 416h1v2h-1zM841 415h1v1h-1zM842 413h1v2h-1zM843 411h1v2h-1zM844 408h1v3h-1zM845 406h1v2h-1zM846 404h1v2h-1zM847 402h1v2h-1zM848 401h1v1h-1zM849 399h1v2h-1zM850 398h1v1h-1zM851 397h1v1h-1zM852 395h1v2h-1zM853 394h1v1h-1zM854 393h1v1h-1zM855 392h1v1h-1zM856 390h1v2h-1zM857 389h1v1h-1zM858 388h1v1h-1zM859 386h1v2h-1zM860 385h1v1h-1zM861 383h1v2h-1zM862 382h1v1h-1zM863 381h1v1h-1zM864 379h1v2h-1zM865 378h1v1h-1zM866 377h1v1h-1zM867 376h1v1h-1zM868 374h1v2h-1zM869 373h1v1h-1zM870 372h1v1h-1zM871 371h1v1h-1zM872 369h1v2h-1zM873 368h1v1h-1zM874 367h1v1h-1zM875 366h1v1h-1zM876 364h1v2h-1zM877 363h1v1h-1zM878 362h1v1h-1zM879 361h1v1h-1zM880 360h1v1h-1zM881 359h1v1h-1zM882 358h1v1h-1zM883 358h1v1h-1zM884 357h1v1h-1zM885 357h1v1h-1zM886 356h1v1h-1zM887 355h1v1h-1zM888 355h1v1h-1zM889 354h1v1h-1zM890 353h1v1h-1zM891 352h1v1h-1zM892 352h1v1h-1zM893 351h1v1h-1zM894 350h1v1h-1zM895 349h1v1h-1zM896 349h1v1h-1zM897 348h1v1h-1zM898 347h1v1h-1zM899 347h1v1h-1zM900 346h1v1h-1zM901 346h1v1h-1zM902 345h1v1h-1zM903 345h1v1h-1zM904 345h1v1h-1zM905 345h1v1h-1zM906 345h1v1h-1zM907 344h1v1h-1zM908 343h1v1h-1zM909 342h1v1h-1zM910 341h1v1h-1zM911 340h1v1h-1zM912 339h1v1h-1zM913 338h1v1h-1zM914 337h1v1h-1zM915 337h1v1h-1zM916 337h1v1h-1zM917 336h1v1h-1zM918 336h1v1h-1zM919 336h1v1h-1zM920 336h1v1h-1zM921 337h1v1h-1zM922 337h1v1h-1zM923 337h1v1h-1zM924 337h1v1h-1zM925 338h1v1h-1zM926 338h1v1h-1zM927 339h1v2h-1zM928 341h1v1h-1zM929 342h1v2h-1zM930 344h1v1h-1zM931 345h1v1h-1zM932 346h1v2h-1zM933 348h1v1h-1zM934 349h1v1h-1zM935 350h1v1h-1zM936 351h1v2h-1zM937 353h1v1h-1zM938 354h1v1h-1zM939 355h1v1h-1zM940 355h1v1h-1zM941 356h1v1h-1zM942 357h1v1h-1zM943 358h1v1h-1zM944 359h1v1h-1zM945 360h1v1h-1zM946 361h1v1h-1zM947 361h1v1h-1zM948 361h1v1h-1zM949 362h1v1h-1zM950 362h1v1h-1zM951 363h1v1h-1zM952 363h1v1h-1zM953 364h1v1h-1zM954 365h1v1h-1zM955 365h1v1h-1zM956 366h1v1h-1zM957 366h1v1h-1zM958 367h1v1h-1zM959 367h1v1h-1zM960 368h1v1h-1zM961 368h1v1h-1zM962 369h1v1h-1zM963 369h1v1h-1zM964 369h1v1h-1zM965 370h1v1h-1zM966 370h1v1h-1zM967 370h1v1h-1zM968 370h1v1h-1zM969 369h1v1h-1zM970 369h1v1h-1zM971 369h1v1h-1zM972 369h1v1h-1zM973 370h1v1h-1zM974 370h1v1h-1zM975 370h1v1h-1zM976 370h1v1h-1zM977 371h1v1h-1zM978 371h1v1h-1zM979 371h1v1h-1zM980 371h1v1h-1zM981 372h1v1h-1zM982 372h1v1h-1zM983 373h1v1h-1zM984 373h1v1h-1zM985 374h1v1h-1zM986 375h1v1h-1zM987 375h1v1h-1zM988 376h1v1h-1zM989 376h1v1h-1zM990 377h1v1h-1zM991 378h1v1h-1zM992 378h1v1h-1zM993 379h1v1h-1zM994 380h1v1h-1zM995 381h1v1h-1zM996 381h1v1h-1zM997 382h1v1h-1zM998 383h1v1h-1zM999 383h1v1h-1zM1000 383h1v1h-1zM1001 383h1v1h-1zM1002 383h1v1h-1zM1003 383h1v1h-1zM1004 383h1v1h-1zM1005 382h1v1h-1zM1006 382h1v1h-1zM1007 382h1v1h-1zM1008 382h1v1h-1zM1009 381h1v1h-1zM1010 381h1v1h-1zM1011 379h1v2h-1zM1012 378h1v1h-1zM1013 376h1v2h-1zM1014 375h1v1h-1zM1015 373h1v2h-1zM1016 372h1v1h-1zM1017 370h1v2h-1zM1018 369h1v1h-1zM1019 367h1v2h-1zM1020 365h1v2h-1zM1021 363h1v2h-1zM1022 362h1v1h-1zM1023 361h1v1h-1zM1024 360h1v1h-1zM1025 359h1v1h-1zM1026 358h1v1h-1zM1027 357h1v1h-1zM1028 356h1v1h-1zM1029 355h1v1h-1zM1030 354h1v1h-1zM1031 354h1v1h-1zM1032 354h1v1h-1zM1033 353h1v1h-1zM1034 353h1v1h-1zM1035 352h1v1h-1zM1036 350h1v2h-1zM1037 349h1v1h-1zM1038 348h1v1h-1zM1039 348h1v1h-1zM1040 348h1v1h-1zM1041 347h1v1h-1zM1042 347h1v1h-1zM1043 348h1v1h-1zM1044 348h1v1h-1zM1045 349h1v1h-1zM1046 350h1v1h-1zM1047 351h1v1h-1zM1048 351h1v1h-1zM1049 352h1v1h-1zM1050 353h1v1h-1zM1051 353h1v1h-1zM1052 353h1v1h-1zM1053 354h1v1h-1zM1054 354h1v1h-1zM1055 355h1v1h-1zM1056 355h1v1h-1zM1057 356h1v1h-1zM1058 357h1v1h-1zM1059 357h1v1h-1zM1060 358h1v1h-1zM1061 358h1v1h-1zM1062 359h1v1h-1zM1063 360h1v1h-1zM1064 361h1v2h-1zM1065 363h1v1h-1zM1066 364h1v1h-1zM1067 365h1v1h-1zM1068 366h1v1h-1zM1069 367h1v1h-1zM1070 368h1v1h-1zM1071 369h1v1h-1zM1072 370h1v2h-1zM1073 372h1v1h-1zM1074 373h1v1h-1zM1075 374h1v2h-1zM1076 376h1v2h-1zM1077 378h1v2h-1zM1078 380h1v1h-1zM1079 381h1v1h-1zM1080 382h1v2h-1zM1081 384h1v1h-1zM1082 385h1v1h-1zM1083 386h1v2h-1zM1084 388h1v1h-1zM1085 389h1v2h-1zM1086 391h1v1h-1zM1087 392h1v2h-1zM1088 394h1v2h-1zM1089 396h1v2h-1zM1090 398h1v1h-1zM1091 399h1v1h-1zM1092 400h1v2h-1zM1093 402h1v1h-1zM1094 403h1v2h-1zM1095 405h1v2h-1zM1096 407h1v3h-1zM1097 410h1v2h-1zM1098 412h1v3h-1zM1099 415h1v2h-1zM1100 417h1v3h-1zM1101 420h1v2h-1zM1102 422h1v3h-1zM1103 425h1v2h-1zM1104 427h1v2h-1zM1105 429h1v2h-1zM1106 431h1v2h-1zM1107 433h1v1h-1zM1108 434h1v2h-1zM1109 436h1v1h-1zM1110 437h1v1h-1zM1111 438h1v1h-1zM1112 439h1v2h-1zM1113 441h1v1h-1zM1114 442h1v1h-1zM1115 443h1v2h-1zM1116 445h1v1h-1zM1117 446h1v2h-1zM1118 448h1v2h-1zM1119 450h1v2h-1zM1120 452h1v2h-1zM1121 454h1v2h-1zM1122 456h1v1h-1zM1123 457h1v1h-1zM1124 458h1v1h-1zM1125 459h1v1h-1zM1126 460h1v1h-1z" fill="#ffff00"/>
<path d="M2 336h1v2h-1zM3 334h1v2h-1zM4 332h1v2h-1zM5 330h1v2h-1zM6 328h1v2h-1zM7 326h1v2h-1zM8 325h1v1h-1zM9 323h1v2h-1zM10 322h1v1h-1zM11 321h1v1h-1zM12 321h1v1h-1zM13 320h1v1h-1zM14 319h1v1h-1zM15 318h1v1h-1zM16 316h1v2h-1zM17 315h1v1h-1zM18 314h1v1h-1zM19 312h1v2h-1zM20 311h1v1h-1zM21 309h1v2h-1zM22 308h1v1h-1zM23 306h1v2h-1zM24 304h1v2h-1zM25 302h1v2h-1zM26 300h1v2h-1zM27 298h1v2h-1zM28 295h1v3h-1zM29 293h1v2h-1zM30 290h1v3h-1zM31 286h1v4h-1zM32 282h1v4h-1zM33 278h1v4h-1zM34 275h1v3h-1zM35 271h1v4h-1zM36 268h1v3h-1zM37 264h1v4h-1zM38 261h1v3h-1zM39 257h1v4h-1zM40 254h1v3h-1zM41 250h1v4h-1zM42 247h1v3h-1zM43 244h1v3h-1zM44 240h1v4h-1zM45 237h1v3h-1zM46 234h1v3h-1zM47 230h1v4h-1zM48 226h1v4h-1zM49 222h1v4h-1zM50 218h1v4h-1zM51 214h1v4h-1zM52 210h1v4h-1zM53 206h1v4h-1zM54 203h1v3h-1zM55 201h1v2h-1zM56 199h1v2h-1zM57 197h1v2h-1zM58 195h1v2h-1zM59 191h1v4h-1zM60 188h1v3h-1zM61 184h1v4h-1zM62 181h1v3h-1zM63 177h1v4h-1zM64 173h1v4h-1zM65 169h1v4h-1zM66 165h1v4h-1zM67 161h1v4h-1zM68 157h1v4h-1zM69 153h1v4h-1zM70 150h1v3h-1zM71 147h1v3h-1zM72 143h1v4h-1zM73 140h1v3h-1zM74 137h1v3h-1zM75 134h1v3h-1zM76 130h1v4h-1zM77 127h1v3h-1zM78 124h1v3h-1zM79 121h1v3h-1zM80 119h1v2h-1zM81 116h1v3h-1zM82 114h1v2h-1zM83 114h1v1h-1zM84 113h1v1h-1zM85 113h1v1h-1zM86 112h1v1h-1zM87 113h1v1h-1zM88 114h1v2h-1zM89 116h1v1h-1zM90 117h1v1h-1zM91 118h1v2h-1zM92 120h1v2h-1zM93 122h1v2h-1zM94 124h1v3h-1zM95 127h1v4h-1zM96 131h1v4h-1zM97 135h1v4h-1zM98 139h1v5h-1zM99 144h1v5h-1zM100 149h1v5h-1zM101 154h1v5h-1zM102 159h1v5h-1zM103 164h1v5h-1zM104 169h1v6h-1zM105 175h1v5h-1zM106 180h1v5h-1zM107 185h1v5h-1zM108 190h1v4h-1zM109 194h1v5h-1zM110 199h1v5h-1zM111 204h1v4h-1zM112 208h1v4h-1zM113 212h1v4h-1zM114 216h1v5h-1zM115 221h1v5h-1zM116 226h1v4h-1zM117 230h1v5h-1zM118 235h1v5h-1zM119 240h1v5h-1zM120 245h1v6h-1zM121 251h1v5h-1zM122 256h1v5h-1zM123 261h1v5h-1zM124 266h1v5h-1zM125 271h1v5h-1zM126 276h1v5h-1zM127 281h1v5h-1zM128 286h1v5h-1zM129 291h1v5h-1zM130 296h1v5h-1zM131 301h1v4h-1zM132 305h1v5h-1zM133 310h1v4h-1zM134 314h1v5h-1zM135 319h1v5h-1zM136 324h1v5h-1zM137 329h1v5h-1zM138 334h1v4h-1zM139 338h1v3h-1zM140 341h1v2h-1zM141 343h1v3h-1zM142 346h1v2h-1zM143 348h1v2h-1zM144 350h1v1h-1zM145 351h1v2h-1zM146 353h1v1h-1zM147 353h1v1h-1zM148 353h1v1h-1zM149 353h1v1h-1zM150 353h1v1h-1zM151 353h1v1h-1zM152 352h1v1h-1zM153 352h1v1h-1zM154 351h1v1h-1zM155 349h1v2h-1zM156 348h1v1h-1zM157 346h1v2h-1zM158 345h1v1h-1zM159 345h1v1h-1zM160 345h1v1h-1zM161 344h1v1h-1zM162 344h1v1h-1zM163 344h1v1h-1zM164 344h1v1h-1zM165 345h1v1h-1zM166 345h1v1h-1zM167 345h1v1h-1zM168 345h1v1h-1zM169 345h1v1h-1zM170 345h1v1h-1zM171 345h1v1h-1zM172 345h1v1h-1zM173 345h1v1h-1zM174 345h1v1h-1zM175 346h1v2h-1zM176 348h1v2h-1zM177 350h1v2h-1zM178 352h1v1h-1zM179 353h1v2h-1zM180 355h1v2h-1zM181 357h1v2h-1zM182 359h1v2h-1zM183 361h1v2h-1zM184 363h1v2h-1zM185 365h1v2h-1zM186 367h1v3h-1zM187 370h1v2h-1zM188 372h1v3h-1zM189 375h1v2h-1zM190 377h1v3h-1zM191 380h1v2h-1zM192 382h1v2h-1zM193 384h1v2h-1zM194 386h1v3h-1zM195 389h1v2h-1zM196 391h1v2h-1zM197 393h1v2h-1zM198 395h1v1h-1zM199 396h1v1h-1zM200 397h1v1h-1zM201 398h1v1h-1zM202 399h1v1h-1zM203 400h1v1h-1zM204 400h1v1h-1zM205 401h1v1h-1zM206 402h1v1h-1zM207 403h1v1h-1zM208 404h1v1h-1zM209 405h1v1h-1zM210 406h1v1h-1zM211 407h1v1h-1zM212 408h1v1h-1zM213 409h1v1h-1zM214 410h1v1h-1zM215 409h1v1h-1zM216 408h1v1h-1zM217 407h1v1h-1zM218 406h1v1h-1zM219 406h1v1h-1zM220 406h1v1h-1zM221 405h1v1h-1zM222 405h1v1h-1zM223 405h1v1h-1zM224 405h1v1h-1zM225 405h1v1h-1zM226 405h1v1h-1zM227 405h1v1h-1zM228 405h1v1h-1zM229 404h1v1h-1zM230 404h1v1h-1zM231 402h1v2h-1zM232 401h1v1h-1zM233 399h1v2h-1zM234 398h1v1h-1zM235 396h1v2h-1zM236 395h1v1h-1zM237 393h1v2h-1zM238 391h1v2h-1zM239 389h1v2h-1zM240 387h1v2h-1zM241 385h1v2h-1zM242 384h1v1h-1zM243 382h1v2h-1zM244 381h1v1h-1zM245 379h1v2h-1zM246 378h1v1h-1zM247 377h1v1h-1zM248 376h1v1h-1zM249 375h1v1h-1zM250 374h1v1h-1zM251 373h1v1h-1zM252 371h1v2h-1zM253 370h1v1h-1zM254 369h1v1h-1zM255 370h1v1h-1zM256 371h1v1h-1zM257 372h1v1h-1zM258 373h1v2h-1zM259 375h1v2h-1zM260 377h1v3h-1zM261 380h1v2h-1zM262 382h1v2h-1zM263 384h1v1h-1zM264 385h1v2h-1zM265 387h1v1h-1zM266 388h1v1h-1zM267 389h1v2h-1zM268 391h1v1h-1zM269 392h1v2h-1zM270 394h1v2h-1zM271 396h1v2h-1zM272 398h1v2h-1zM273 400h1v2h-1zM274 402h1v2h-1zM275 404h1v1h-1zM276 404h1v1h-1zM277 405h1v1h-1zM278 406h1v1h-1zM279 406h1v1h-1zM280 405h1v1h-1zM281 405h1v1h-1zM282 404h1v1h-1zM283 404h1v1h-1zM284 404h1v1h-1zM285 405h1v1h-1zM286 405h1v1h-1zM287 404h1v1h-1zM288 404h1v1h-1zM289 403h1v1h-1zM290 402h1v1h-1zM291 400h1v2h-1zM292 398h1v2h-1zM293 396h1v2h-1zM294 394h1v2h-1zM295 391h1v3h-1zM296 388h1v3h-1zM297 385h1v3h-1zM298 382h1v3h-1zM299 379h1v3h-1zM300 376h1v3h-1zM301 373h1v3h-1zM302 370h1v3h-1zM303 366h1v4h-1zM304 363h1v3h-1zM305 359h1v4h-1zM306 356h1v3h-1zM307 354h1v2h-1zM308 351h1v3h-1zM309 349h1v2h-1zM310 346h1v3h-1zM311 342h1v4h-1zM312 339h1v3h-1zM313 335h1v4h-1zM314 332h1v3h-1zM315 329h1v3h-1zM316 325h1v4h-1zM317 322h1v3h-1zM318 320h1v2h-1zM319 318h1v2h-1zM320 317h1v1h-1zM321 315h1v2h-1zM322 313h1v2h-1zM323 311h1v2h-1zM324 309h1v2h-1zM325 307h1v2h-1zM326 304h1v3h-1zM327 301h1v3h-1zM328 299h1v2h-1zM329 296h1v3h-1zM330 293h1v3h-1zM331 291h1v2h-1zM332 288h1v3h-1zM333 286h1v2h-1zM334 284h1v2h-1zM335 284h1v1h-1zM336 283h1v1h-1zM337 283h1v1h-1zM338 282h1v1h-1zM339 282h1v1h-1zM340 281h1v1h-1zM341 281h1v1h-1zM342 280h1v1h-1zM343 280h1v1h-1zM344 281h1v1h-1zM345 281h1v1h-1zM346 282h1v1h-1zM347 282h1v1h-1zM348 282h1v1h-1zM349 281h1v1h-1zM350 281h1v1h-1zM351 281h1v1h-1zM352 281h1v1h-1zM353 282h1v1h-1zM354 282h1v1h-1zM355 282h1v1h-1zM356 283h1v1h-1zM357 283h1v1h-1zM358 284h1v1h-1zM359 284h1v1h-1zM360 284h1v1h-1zM361 284h1v1h-1zM362 284h1v1h-1zM363 284h1v1h-1zM364 285h1v1h-1zM365 285h1v1h-1zM366 286h1v1h-1zM367 286h1v1h-1zM368 286h1v1h-1zM369 286h1v1h-1zM370 286h1v1h-1zM371 285h1v1h-1zM372 284h1v1h-1zM373 283h1v1h-1zM374 282h1v1h-1zM375 281h1v1h-1zM376 281h1v1h-1zM377 280h1v1h-1zM378 279h1v1h-1zM379 279h1v1h-1zM380 279h1v1h-1zM381 278h1v1h-1zM382 278h1v1h-1zM383 278h1v1h-1zM384 279h1v1h-1zM385 279h1v1h-1zM386 280h1v1h-1zM387 280h1v1h-1zM388 280h1v1h-1zM389 279h1v1h-1zM390 279h1v1h-1zM391 279h1v1h-1zM392 279h1v1h-1zM393 279h1v1h-1zM394 279h1v1h-1zM395 278h1v1h-1zM396 278h1v1h-1zM397 277h1v1h-1zM398 276h1v1h-1zM399 275h1v1h-1zM400 273h1v2h-1zM401 272h1v1h-1zM402 271h1v1h-1zM403 271h1v1h-1zM404 271h1v1h-1zM405 271h1v1h-1zM406 271h1v1h-1zM407 272h1v1h-1zM408 273h1v2h-1zM409 275h1v1h-1zM410 276h1v1h-1zM411 277h1v1h-1zM412 278h1v2h-1zM413 280h1v1h-1zM414 281h1v1h-1zM415 282h1v1h-1zM416 283h1v2h-1zM417 285h1v1h-1zM418 286h1v1h-1zM419 286h1v1h-1zM420 286h1v1h-1zM421 286h1v1h-1zM422 286h1v1h-1zM423 287h1v1h-1zM424 288h1v1h-1zM425 289h1v1h-1zM426 290h1v1h-1zM427 291h1v1h-1zM428 292h1v2h-1zM429 294h1v1h-1zM430 295h1v1h-1zM431 295h1v1h-1zM432 295h1v1h-1zM433 294h1v1h-1zM434 294h1v1h-1zM435 294h1v1h-1zM436 294h1v1h-1zM437 294h1v1h-1zM438 294h1v1h-1zM439 293h1v1h-1zM440 293h1v1h-1zM441 292h1v1h-1zM442 291h1v1h-1zM443 291h1v1h-1zM444 291h1v1h-1zM445 290h1v1h-1zM446 290h1v1h-1zM447 290h1v1h-1zM448 289h1v1h-1zM449 289h1v1h-1zM450 288h1v1h-1zM451 288h1v1h-1zM452 288h1v1h-1zM453 289h1v1h-1zM454 289h1v1h-1zM455 289h1v1h-1zM456 288h1v1h-1zM457 288h1v1h-1zM458 287h1v1h-1zM459 285h1v2h-1zM460 283h1v2h-1zM461 281h1v2h-1zM462 279h1v2h-1zM463 277h1v2h-1zM464 275h1v2h-1zM465 273h1v2h-1zM466 271h1v2h-1zM467 269h1v2h-1zM468 267h1v2h-1zM469 265h1v2h-1zM470 263h1v2h-1zM471 261h1v2h-1zM472 259h1v2h-1zM473 257h1v2h-1zM474 256h1v1h-1zM475 255h1v1h-1zM476 254h1v1h-1zM477 253h1v1h-1zM478 252h1v1h-1zM479 251h1v1h-1zM480 250h1v1h-1zM481 249h1v1h-1zM482 248h1v1h-1zM483 247h1v1h-1zM484 245h1v2h-1zM485 244h1v1h-1zM486 243h1v1h-1zM487 241h1v2h-1zM488 240h1v1h-1zM489 238h1v2h-1zM490 237h1v1h-1zM491 236h1v1h-1zM492 236h1v1h-1zM493 235h1v1h-1zM494 234h1v1h-1zM495 232h1v2h-1zM496 230h1v2h-1zM497 228h1v2h-1zM498 227h1v1h-1zM499 226h1v1h-1zM500 225h1v1h-1zM501 224h1v1h-1zM502 223h1v1h-1zM503 222h1v1h-1zM504 220h1v2h-1zM505 219h1v1h-1zM506 218h1v1h-1zM507 216h1v2h-1zM508 214h1v2h-1zM509 212h1v2h-1zM510 211h1v1h-1zM511 211h1v1h-1zM512 210h1v1h-1zM513 210h1v1h-1zM514 209h1v1h-1zM515 210h1v1h-1zM516 211h1v1h-1zM517 212h1v1h-1zM518 213h1v1h-1zM519 213h1v1h-1zM520 214h1v1h-1zM521 214h1v1h-1zM522 215h1v1h-1zM523 215h1v1h-1zM524 215h1v1h-1zM525 214h1v1h-1zM526 214h1v1h-1zM527 214h1v1h-1zM528 214h1v1h-1zM529 214h1v1h-1zM530 214h1v1h-1zM531 214h1v1h-1zM532 214h1v1h-1zM533 215h1v1h-1zM534 215h1v1h-1zM535 214h1v1h-1zM536 213h1v1h-1zM537 212h1v1h-1zM538 211h1v1h-1zM539 211h1v1h-1zM540 211h1v1h-1zM541 211h1v1h-1zM542 211h1v1h-1zM543 211h1v1h-1zM544 211h1v1h-1zM545 212h1v1h-1zM546 212h1v1h-1zM547 212h1v1h-1zM548 212h1v1h-1zM549 212h1v1h-1zM550 212h1v1h-1zM551 213h1v1h-1zM552 214h1v1h-1zM553 215h1v1h-1zM554 216h1v1h-1zM555 216h1v1h-1zM556 216h1v1h-1zM557 216h1v1h-1zM558 216h1v1h-1zM559 216h1v1h-1zM560 216h1v1h-1zM561 216h1v1h-1zM562 216h1v1h-1zM563 216h1v1h-1zM564 217h1v1h-1zM565 217h1v1h-1zM566 218h1v1h-1zM567 218h1v1h-1zM568 218h1v1h-1zM569 219h1v1h-1zM570 219h1v1h-1zM571 219h1v1h-1zM572 219h1v1h-1zM573 219h1v1h-1zM574 219h1v1h-1zM575 218h1v1h-1zM576 218h1v1h-1zM577 217h1v1h-1zM578 216h1v1h-1zM579 216h1v1h-1zM580 215h1v1h-1zM581 215h1v1h-1zM582 214h1v1h-1zM583 213h1v1h-1zM584 212h1v1h-1zM585 211h1v1h-1zM586 210h1v1h-1zM587 209h1v1h-1zM588 207h1v2h-1zM589 206h1v1h-1zM590 205h1v1h-1zM591 204h1v1h-1zM592 204h1v1h-1zM593 203h1v1h-1zM594 202h1v1h-1zM595 202h1v1h-1zM596 202h1v1h-1zM597 202h1v1h-1zM598 202h1v1h-1zM599 203h1v1h-1zM600 203h1v1h-1zM601 204h1v1h-1zM602 205h1v1h-1zM603 205h1v1h-1zM604 205h1v1h-1zM605 206h1v1h-1zM606 206h1v1h-1zM607 206h1v1h-1zM608 207h1v1h-1zM609 207h1v1h-1zM610 208h1v2h-1zM611 210h1v2h-1zM612 212h1v3h-1zM613 215h1v2h-1zM614 217h1v3h-1zM615 220h1v3h-1zM616 223h1v2h-1zM617 225h1v3h-1zM618 228h1v3h-1zM619 231h1v2h-1zM620 233h1v3h-1zM621 236h1v2h-1zM622 238h1v3h-1zM623 241h1v2h-1zM624 243h1v2h-1zM625 245h1v2h-1zM626 247h1v1h-1zM627 248h1v2h-1zM628 250h1v1h-1zM629 251h1v2h-1zM630 253h1v2h-1zM631 255h1v2h-1zM632 257h1v2h-1zM633 259h1v2h-1zM634 261h1v2h-1zM635 263h1v1h-1zM636 264h1v2h-1zM637 266h1v1h-1zM638 267h1v1h-1zM639 268h1v2h-1zM640 270h1v2h-1zM641 272h1v2h-1zM642 274h1v1h-1zM643 275h1v2h-1zM644 277h1v1h-1zM645 278h1v2h-1zM646 280h1v2h-1zM647 282h1v2h-1zM648 284h1v2h-1zM649 286h1v2h-1zM650 288h1v2h-1zM651 290h1v2h-1zM652 292h1v3h-1zM653 295h1v2h-1zM654 297h1v3h-1zM655 300h1v3h-1zM656 303h1v2h-1zM657 305h1v3h-1zM658 308h1v3h-1zM659 311h1v3h-1zM660 314h1v3h-1zM661 317h1v3h-1zM662 320h1v3h-1zM663 323h1v2h-1zM664 325h1v2h-1zM665 327h1v2h-1zM666 329h1v2h-1zM667 331h1v1h-1zM668 332h1v1h-1zM669 333h1v1h-1zM670 334h1v1h-1zM671 335h1v1h-1zM672 336h1v2h-1zM673 338h1v1h-1zM674 339h1v2h-1zM675 341h1v2h-1zM676 343h1v2h-1zM677 345h1v2h-1zM678 347h1v2h-1zM679 349h1v3h-1zM680 352h1v2h-1zM681 354h1v3h-1zM682 357h1v3h-1zM683 360h1v4h-1zM684 364h1v3h-1zM685 367h1v4h-1zM686 371h1v3h-1zM687 374h1v3h-1zM688 377h1v3h-1zM689 380h1v3h-1zM690 383h1v4h-1zM691 387h1v4h-1zM692 391h1v4h-1zM693 395h1v4h-1zM694 399h1v4h-1zM695 403h1v4h-1zM696 407h1v4h-1zM697 411h1v4h-1zM698 415h1v5h-1zM699 420h1v5h-1zM700 425h1v5h-1zM701 430h1v5h-1zM702 435h1v5h-1zM703 440h1v4h-1zM704 444h1v4h-1zM705 448h1v4h-1zM706 452h1v4h-1zM707 456h1v3h-1zM708 459h1v2h-1zM709 461h1v3h-1zM710 464h1v2h-1zM711 466h1v1h-1zM712 467h1v2h-1zM713 469h1v1h-1zM714 470h1v1h-1zM715 471h1v2h-1zM716 473h1v1h-1zM717 474h1v2h-1zM718 476h1v1h-1zM719 477h1v1h-1zM720 478h1v1h-1zM721 479h1v1h-1zM722 480h1v1h-1zM723 481h1v2h-1zM724 483h1v1h-1zM725 484h1v2h-1zM726 486h1v1h-1zM727 487h1v2h-1zM728 489h1v1h-1zM729 490h1v2h-1zM730 492h1v1h-1zM731 493h1v1h-1zM732 494h1v2h-1zM733 496h1v1h-1zM734 497h1v1h-1zM735 498h1v1h-1zM736 498h1v1h-1zM737 499h1v1h-1zM738 500h1v1h-1zM739 500h1v1h-1zM740 501h1v1h-1zM741 501h1v1h-1zM742 502h1v1h-1zM743 502h1v1h-1zM744 502h1v1h-1zM745 502h1v1h-1zM746 502h1v1h-1zM747 503h1v1h-1zM748 504h1v2h-1zM749 506h1v1h-1zM750 507h1v1h-1zM751 508h1v1h-1zM752 508h1v1h-1zM753 509h1v1h-1zM754 510h1v1h-1zM755 510h1v1h-1zM756 510h1v1h-1zM757 510h1v1h-1zM758 510h1v1h-1zM759 510h1v1h-1zM760 510h1v1h-1zM761 509h1v1h-1zM762 509h1v1h-1zM763 509h1v1h-1zM764 508h1v1h-1zM765 508h1v1h-1zM766 507h1v1h-1zM767 506h1v1h-1zM768 505h1v1h-1zM769 504h1v1h-1zM770 503h1v1h-1zM771 503h1v1h-1zM772 502h1v1h-1zM773 502h1v1h-1zM774 501h1v1h-1zM775 501h1v1h-1zM776 500h1v1h-1zM777 500h1v1h-1zM778 499h1v1h-1zM779 498h1v1h-1zM780 496h1v2h-1zM781 495h1v1h-1zM782 494h1v1h-1zM783 492h1v2h-1zM784 491h1v1h-1zM785 489h1v2h-1zM786 488h1v1h-1zM787 486h1v2h-1zM788 484h1v2h-1zM789 482h1v2h-1zM790 481h1v1h-1zM791 479h1v2h-1zM792 478h1v1h-1zM793 476h1v2h-1zM794 474h1v2h-1zM795 472h1v2h-1zM796 470h1v2h-1zM797 468h1v2h-1zM798 467h1v1h-1zM799 465h1v2h-1zM800 463h1v2h-1zM801 461h1v2h-1zM802 459h1v2h-1zM803 457h1v2h-1zM804 455h1v2h-1zM805 453h1v2h-1zM806 450h1v3h-1zM807 448h1v2h-1zM808 446h1v2h-1zM809 444h1v2h-1zM810 441h1v3h-1zM811 439h1v2h-1zM812 437h1v2h-1zM813 435h1v2h-1zM814 433h1v2h-1zM815 430h1v3h-1zM816 427h1v3h-1zM817 424h1v3h-1zM818 421h1v3h-1zM819 419h1v2h-1zM820 416h1v3h-1zM821 414h1v2h-1zM822 412h1v2h-1zM823 411h1v1h-1zM824 409h1v2h-1zM825 408h1v1h-1zM826 407h1v1h-1zM827 406h1v1h-1zM828 405h1v1h-1zM829 404h1v1h-1zM830 403h1v1h-1zM831 402h1v1h-1zM832 402h1v1h-1zM833 401h1v1h-1zM834 400h1v1h-1zM835 399h1v1h-1zM836 398h1v1h-1zM837 397h1v1h-1zM838 396h1v1h-1zM839 395h1v1h-1zM840 395h1v1h-1zM841 394h1v1h-1zM842 392h1v2h-1zM843 390h1v2h-1zM844 388h1v2h-1zM845 386h1v2h-1zM846 384h1v2h-1zM847 382h1v2h-1zM848 380h1v2h-1zM849 378h1v2h-1zM850 376h1v2h-1zM851 375h1v1h-1zM852 374h1v1h-1zM853 373h1v1h-1zM854 372h1v1h-1zM855 371h1v1h-1zM856 371h1v1h-1zM857 370h1v1h-1zM858 369h1v1h-1zM859 367h1v2h-1zM860 365h1v2h-1zM861 363h1v2h-1zM862 362h1v1h-1zM863 360h1v2h-1zM864 359h1v1h-1zM865 357h1v2h-1zM866 356h1v1h-1zM867 355h1v1h-1zM868 354h1v1h-1zM869 353h1v1h-1zM870 352h1v1h-1zM871 352h1v1h-1zM872 352h1v1h-1zM873 351h1v1h-1zM874 351h1v1h-1zM875 351h1v1h-1zM876 351h1v1h-1zM877 352h1v1h-1zM878 352h1v1h-1zM879 351h1v1h-1zM880 349h1v2h-1zM881 348h1v1h-1zM882 347h1v1h-1zM883 347h1v1h-1zM884 346h1v1h-1zM885 346h1v1h-1zM886 345h1v1h-1zM887 344h1v1h-1zM888 343h1v1h-1zM889 342h1v1h-1zM890 341h1v1h-1zM891 340h1v1h-1zM892 339h1v1h-1zM893 338h1v1h-1zM894 337h1v1h-1zM895 336h1v1h-1zM896 336h1v1h-1zM897 335h1v1h-1zM898 334h1v1h-1zM899 334h1v1h-1zM900 334h1v1h-1zM901 333h1v1h-1zM902 333h1v1h-1zM903 333h1v1h-1zM904 333h1v1h-1zM905 333h1v1h-1zM906 333h1v1h-1zM907 332h1v1h-1zM908 332h1v1h-1zM909 331h1v1h-1zM910 330h1v1h-1zM911 329h1v1h-1zM912 328h1v1h-1zM913 327h1v1h-1zM914 326h1v1h-1zM915 327h1v1h-1zM916 328h1v2h-1zM917 330h1v1h-1zM918 331h1v1h-1zM919 332h1v1h-1zM920 333h1v2h-1zM921 335h1v1h-1zM922 336h1v1h-1zM923 337h1v2h-1zM924 339h1v2h-1zM925 341h1v2h-1zM926 343h1v1h-1zM927 344h1v2h-1zM928 346h1v2h-1zM929 348h1v2h-1zM930 350h1v1h-1zM931 351h1v2h-1zM932 353h1v2h-1zM933 355h1v2h-1zM934 357h1v2h-1zM935 359h1v2h-1zM936 361h1v2h-1zM937 363h1v2h-1zM938 365h1v2h-1zM939 367h1v1h-1zM940 368h1v1h-1zM941 369h1v1h-1zM942 370h1v1h-1zM943 371h1v1h-1zM944 372h1v1h-1zM945 373h1v1h-1zM946 374h1v1h-1zM947 374h1v1h-1zM948 374h1v1h-1zM949 375h1v1h-1zM950 375h1v1h-1zM951 376h1v1h-1zM952 377h1v1h-1zM953 378h1v1h-1zM954 379h1v1h-1zM955 380h1v1h-1zM956 381h1v1h-1zM957 382h1v1h-1zM958 383h1v1h-1zM959 384h1v1h-1zM960 385h1v2h-1zM961 387h1v1h-1zM962 388h1v1h-1zM963 388h1v1h-1zM964 388h1v1h-1zM965 389h1v1h-1zM966 389h1v1h-1zM967 390h1v1h-1zM968 391h1v2h-1zM969 393h1v1h-1zM970 394h1v1h-1zM971 393h1v1h-1zM972 393h1v1h-1zM973 392h1v1h-1zM974 391h1v1h-1zM975 391h1v1h-1zM976 390h1v1h-1zM977 390h1v1h-1zM978 389h1v1h-1zM979 388h1v1h-1zM980 386h1v2h-1zM981 385h1v1h-1zM982 384h1v1h-1zM983 383h1v1h-1zM984 382h1v1h-1zM985 381h1v1h-1zM986 380h1v1h-1zM987 379h1v1h-1zM988 377h1v2h-1zM989 376h1v1h-1zM990 375h1v1h-1zM991 373h1v2h-1zM992 371h1v2h-1zM993 369h1v2h-1zM994 368h1v1h-1zM995 367h1v1h-1zM996 367h1v1h-1zM997 366h1v1h-1zM998 365h1v1h-1zM999 365h1v1h-1zM1000 365h1v1h-1zM1001 364h1v1h-1zM1002 364h1v1h-1zM1003 364h1v1h-1zM1004 365h1v1h-1zM1005 365h1v1h-1zM1006 366h1v1h-1zM1007 366h1v1h-1zM1008 366h1v1h-1zM1009 366h1v1h-1zM1010 366h1v1h-1zM1011 365h1v1h-1zM1012 363h1v2h-1zM1013 362h1v1h-1zM1014 361h1v1h-1zM1015 360h1v1h-1zM1016 358h1v2h-1zM1017 357h1v1h-1zM1018 356h1v1h-1zM1019 356h1v1h-1zM1020 356h1v1h-1zM1021 355h1v1h-1zM1022 355h1v1h-1zM1023 354h1v1h-1zM1024 354h1v1h-1zM1025 353h1v1h-1zM1026 352h1v1h-1zM1027 352h1v1h-1zM1028 352h1v1h-1zM1029 351h1v1h-1zM1030 351h1v1h-1zM1031 350h1v1h-1zM1032 350h1v1h-1zM1033 349h1v1h-1zM1034 348h1v1h-1zM1035 347h1v1h-1zM1036 346h1v1h-1zM1037 345h1v1h-1zM1038 344h1v1h-1zM1039 344h1v1h-1zM1040 343h1v1h-1zM1041 343h1v1h-1zM1042 342h1v1h-1zM1043 343h1v1h-1zM1044 344h1v1h-1zM1045 345h1v1h-1zM1046 346h1v1h-1zM1047 347h1v1h-1zM1048 348h1v1h-1zM1049 349h1v1h-1zM1050 350h1v1h-1zM1051 350h1v1h-1zM1052 350h1v1h-1zM1053 351h1v1h-1zM1054 351h1v1h-1zM1055 351h1v1h-1zM1056 352h1v1h-1zM1057 352h1v1h-1zM1058 353h1v1h-1zM1059 353h1v1h-1zM1060 354h1v1h-1zM1061 354h1v1h-1zM1062 355h1v1h-1zM1063 356h1v1h-1zM1064 357h1v1h-1zM1065 358h1v1h-1zM1066 359h1v2h-1zM1067 361h1v3h-1zM1068 364h1v3h-1zM1069 367h1v3h-1zM1070 370h1v3h-1zM1071 373h1v3h-1zM1072 376h1v2h-1zM1073 378h1v3h-1zM1074 381h1v3h-1zM1075 384h1v3h-1zM1076 387h1v4h-1zM1077 391h1v3h-1zM1078 394h1v3h-1zM1079 397h1v3h-1zM1080 400h1v3h-1zM1081 403h1v3h-1zM1082 406h1v3h-1zM1083 409h1v3h-1zM1084 412h1v3h-1zM1085 415h1v3h-1zM1086 418h1v3h-1zM1087 421h1v4h-1zM1088 425h1v3h-1zM1089 428h1v4h-1zM1090 432h1v3h-1zM1091 435h1v4h-1zM1092 439h1v4h-1zM1093 443h1v4h-1zM1094 447h1v3h-1zM1095 450h1v3h-1zM1096 453h1v3h-1zM1097 456h1v3h-1zM1098 459h1v2h-1zM1099 461h1v2h-1zM1100 463h1v1h-1zM1101 464h1v2h-1zM1102 466h1v1h-1zM1103 467h1v2h-1zM1104 469h1v2h-1zM1105 471h1v2h-1zM1106 473h1v1h-1zM1107 474h1v1h-1zM1108 474h1v1h-1zM1109 475h1v1h-1zM1110 476h1v1h-1zM1111 476h1v1h-1zM1112 477h1v1h-1zM1113 477h1v1h-1zM1114 478h1v1h-1zM1115 479h1v1h-1zM1116 479h1v1h-1zM1117 480h1v1h-1zM1118 481h1v1h-1zM1119 481h1v1h-1zM1120 481h1v1h-1zM1121 481h1v1h-1zM1122 481h1v1h-1zM1123 481h1v1h-1zM1124 481h1v1h-1zM1125 480h1v1h-1zM1126 480h1v1h-1z" fill="#ff0000"/>
<path d="M2 316h1v3h-1zM3 311h1v5h-1zM4 306h1v5h-1zM5 301h1v5h-1zM6 297h1v4h-1zM7 295h1v2h-1zM8 293h1v2h-1zM9 291h1v2h-1zM10 289h1v2h-1zM11 289h1v1h-1zM12 289h1v1h-1zM13 288h1v1h-1zM14 288h1v1h-1zM15 288h1v1h-1zM16 288h1v1h-1zM17 287h1v1h-1zM18 286h1v2h-1zM19 284h1v2h-1zM20 282h1v2h-1zM21 280h1v2h-1zM22 278h1v2h-1zM23 275h1v3h-1zM24 273h1v2h-1zM25 270h1v3h-1zM26 268h1v2h-1zM27 267h1v1h-1zM28 266h1v1h-1zM29 265h1v1h-1zM30 263h1v2h-1zM31 260h1v3h-1zM32 258h1v2h-1zM33 255h1v3h-1zM34 251h1v4h-1zM35 247h1v4h-1zM36 243h1v4h-1zM37 239h1v4h-1zM38 233h1v6h-1zM39 226h1v7h-1zM40 220h1v6h-1zM41 213h1v7h-1zM42 206h1v7h-1zM43 200h1v6h-1zM44 194h1v6h-1zM45 188h1v6h-1zM46 181h1v7h-1zM47 175h1v6h-1zM48 169h1v6h-1zM49 163h1v6h-1zM50 158h1v5h-1zM51 153h1v5h-1zM52 148h1v5h-1zM53 143h1v5h-1zM54 139h1v4h-1zM55 136h1v3h-1zM56 132h1v4h-1zM57 129h1v3h-1zM58 125h1v4h-1zM59 121h1v4h-1zM60 117h1v4h-1zM61 113h1v4h-1zM62 110h1v3h-1zM63 106h1v4h-1zM64 103h1v3h-1zM65 99h1v4h-1zM66 97h1v2h-1zM67 96h1v1h-1zM68 96h1v1h-1zM69 95h1v1h-1zM70 94h1v1h-1zM71 94h1v1h-1zM72 93h1v1h-1zM73 93h1v1h-1zM74 92h1v1h-1zM75 92h1v1h-1zM76 91h1v1h-1zM77 91h1v1h-1zM78 90h1v1h-1zM79 89h1v1h-1zM80 89h1v1h-1zM81 88h1v1h-1zM82 87h1v2h-1zM83 89h1v2h-1zM84 91h1v3h-1zM85 94h1v2h-1zM86 96h1v5h-1zM87 101h1v6h-1zM88 107h1v6h-1zM89 113h1v6h-1zM90 119h1v7h-1zM91 126h1v7h-1zM92 133h1v8h-1zM93 141h1v7h-1zM94 148h1v8h-1zM95 156h1v9h-1zM96 165h1v10h-1zM97 175h1v9h-1zM98 184h1v10h-1zM99 194h1v10h-1zM100 204h1v10h-1zM101 214h1v10h-1zM102 224h1v11h-1zM103 235h1v11h-1zM104 246h1v12h-1zM105 258h1v11h-1zM106 269h1v11h-1zM107 280h1v10h-1zM108 290h1v11h-1zM109 301h1v10h-1zM110 311h1v8h-1zM111 319h1v6h-1zM112 325h1v6h-1zM113 331h1v6h-1zM114 337h1v4h-1zM115 341h1v3h-1zM116 344h1v4h-1zM117 348h1v3h-1zM118 351h1v3h-1zM119 354h1v3h-1zM120 357h1v3h-1zM121 360h1v3h-1zM122 363h1v2h-1zM123 365h1v1h-1zM124 366h1v1h-1zM125 367h1v1h-1zM126 368h1v1h-1zM127 368h1v1h-1zM128 368h1v1h-1zM129 367h1v1h-1zM130 366h1v2h-1zM131 364h1v2h-1zM132 362h1v2h-1zM133 360h1v2h-1zM134 359h1v1h-1zM135 359h1v1h-1zM136 358h1v1h-1zM137 358h1v1h-1zM138 357h1v1h-1zM139 357h1v1h-1zM140 357h1v1h-1zM141 356h1v1h-1zM142 356h1v1h-1zM143 355h1v1h-1zM144 355h1v1h-1zM145 354h1v1h-1zM146 352h1v2h-1zM147 349h1v3h-1zM148 347h1v2h-1zM149 344h1v3h-1zM150 341h1v3h-1zM151 339h1v2h-1zM152 337h1v2h-1zM153 335h1v2h-1zM154 332h1v3h-1zM155 330h1v2h-1zM156 327h1v3h-1zM157 325h1v2h-1zM158 323h1v2h-1zM159 324h1v2h-1zM160 326h1v1h-1zM161 327h1v2h-1zM162 329h1v1h-1zM163 330h1v1h-1zM164 331h1v1h-1zM165 332h1v1h-1zM166 333h1v1h-1zM167 333h1v1h-1zM168 334h1v1h-1zM169 334h1v1h-1zM170 335h1v1h-1zM171 335h1v1h-1zM172 336h1v1h-1zM173 336h1v1h-1zM174 337h1v4h-1zM175 341h1v6h-1zM176 347h1v6h-1zM177 353h1v6h-1zM178 359h1v6h-1zM179 365h1v6h-1zM180 371h1v6h-1zM181 377h1v6h-1zM182 383h1v6h-1zM183 389h1v7h-1zM184 396h1v8h-1zM185 404h1v7h-1zM186 411h1v5h-1zM187 416h1v4h-1zM188 420h1v3h-1zM189 423h1v4h-1zM190 427h1v3h-1zM191 430h1v3h-1zM192 433h1v3h-1zM193 436h1v3h-1zM194 439h1v3h-1zM195 442h1v4h-1zM196 446h1v4h-1zM197 450h1v4h-1zM198 454h1v2h-1zM199 456h1v2h-1zM200 458h1v1h-1zM201 459h1v2h-1zM202 459h1v3h-1zM203 454h1v5h-1zM204 450h1v4h-1zM205 445h1v5h-1zM206 441h1v4h-1zM207 437h1v4h-1zM208 433h1v4h-1zM209 429h1v4h-1zM210 425h1v4h-1zM211 420h1v5h-1zM212 414h1v6h-1zM213 409h1v5h-1zM214 404h1v5h-1zM215 398h1v6h-1zM216 392h1v6h-1zM217 386h1v6h-1zM218 382h1v4h-1zM219 379h1v3h-1zM220 376h1v3h-1zM221 373h1v3h-1zM222 370h1v3h-1zM223 366h1v4h-1zM224 362h1v4h-1zM225 358h1v4h-1zM226 355h1v3h-1zM227 353h1v2h-1zM228 351h1v2h-1zM229 349h1v2h-1zM230 347h1v2h-1zM231 348h1v2h-1zM232 350h1v1h-1zM233 351h1v2h-1zM234 353h1v1h-1zM235 354h1v1h-1zM236 355h1v1h-1zM237 356h1v1h-1zM238 357h1v1h-1zM239 358h1v1h-1zM240 359h1v1h-1zM241 360h1v1h-1zM242 361h1v2h-1zM243 363h1v3h-1zM244 366h1v2h-1zM245 368h1v3h-1zM246 371h1v2h-1zM247 373h1v2h-1zM248 375h1v1h-1zM249 376h1v2h-1zM250 378h1v1h-1zM251 379h1v1h-1zM252 380h1v1h-1zM253 381h1v1h-1zM254 382h1v3h-1zM255 385h1v4h-1zM256 389h1v4h-1zM257 393h1v4h-1zM258 397h1v4h-1zM259 401h1v4h-1zM260 405h1v3h-1zM261 408h1v4h-1zM262 412h1v2h-1zM263 414h1v2h-1zM264 416h1v1h-1zM265 417h1v2h-1zM266 419h1v1h-1zM267 420h1v2h-1zM268 422h1v2h-1zM269 424h1v2h-1zM270 426h1v2h-1zM271 428h1v2h-1zM272 430h1v2h-1zM273 432h1v2h-1zM274 434h1v1h-1zM275 434h1v1h-1zM276 434h1v1h-1zM277 434h1v1h-1zM278 433h1v2h-1zM279 431h1v2h-1zM280 429h1v2h-1zM281 427h1v2h-1zM282 424h1v3h-1zM283 420h1v4h-1zM284 416h1v4h-1zM285 412h1v4h-1zM286 408h1v4h-1zM287 403h1v5h-1zM288 398h1v5h-1zM289 393h1v5h-1zM290 388h1v5h-1zM291 384h1v4h-1zM292 379h1v5h-1zM293 375h1v4h-1zM294 369h1v6h-1zM295 361h1v8h-1zM296 353h1v8h-1zM297 345h1v8h-1zM298 337h1v8h-1zM299 329h1v8h-1zM300 321h1v8h-1zM301 313h1v8h-1zM302 305h1v8h-1zM303 298h1v7h-1zM304 292h1v6h-1zM305 285h1v7h-1zM306 280h1v5h-1zM307 277h1v3h-1zM308 273h1v4h-1zM309 270h1v3h-1zM310 267h1v3h-1zM311 264h1v3h-1zM312 261h1v3h-1zM313 258h1v3h-1zM314 256h1v2h-1zM315 255h1v1h-1zM316 253h1v2h-1zM317 252h1v1h-1zM318 251h1v1h-1zM319 252h1v2h-1zM320 254h1v1h-1zM321 255h1v2h-1zM322 257h1v2h-1zM323 259h1v3h-1zM324 262h1v4h-1zM325 266h1v3h-1zM326 269h1v3h-1zM327 272h1v2h-1zM328 274h1v3h-1zM329 277h1v2h-1zM330 279h1v3h-1zM331 282h1v2h-1zM332 284h1v2h-1zM333 286h1v2h-1zM334 288h1v2h-1zM335 290h1v2h-1zM336 292h1v2h-1zM337 294h1v2h-1zM338 296h1v3h-1zM339 299h1v2h-1zM340 301h1v2h-1zM341 303h1v2h-1zM342 305h1v2h-1zM343 307h1v2h-1zM344 309h1v2h-1zM345 311h1v2h-1zM346 312h1v2h-1zM347 310h1v2h-1zM348 308h1v2h-1zM349 306h1v2h-1zM350 304h1v2h-1zM351 302h1v2h-1zM352 299h1v3h-1zM353 297h1v2h-1zM354 294h1v3h-1zM355 292h1v2h-1zM356 290h1v2h-1zM357 288h1v2h-1zM358 287h1v1h-1zM359 285h1v2h-1zM360 284h1v1h-1zM361 282h1v2h-1zM362 281h1v1h-1zM363 280h1v1h-1zM364 278h1v2h-1zM365 277h1v1h-1zM366 275h1v2h-1zM367 273h1v2h-1zM368 270h1v3h-1zM369 268h1v2h-1zM370 265h1v3h-1zM371 261h1v4h-1zM372 257h1v4h-1zM373 253h1v4h-1zM374 251h1v2h-1zM375 251h1v1h-1zM376 252h1v1h-1zM377 252h1v1h-1zM378 253h1v1h-1zM379 254h1v2h-1zM380 256h1v2h-1zM381 258h1v2h-1zM382 260h1v2h-1zM383 262h1v3h-1zM384 265h1v3h-1zM385 268h1v3h-1zM386 271h1v2h-1zM387 273h1v2h-1zM388 275h1v1h-1zM389 276h1v2h-1zM390 278h1v1h-1zM391 279h1v1h-1zM392 279h1v1h-1zM393 280h1v1h-1zM394 281h1v1h-1zM395 282h1v2h-1zM396 284h1v1h-1zM397 285h1v2h-1zM398 287h1v1h-1zM399 288h1v1h-1zM400 289h1v1h-1zM401 290h1v1h-1zM402 291h1v1h-1zM403 291h1v1h-1zM404 290h1v1h-1zM405 290h1v1h-1zM406 289h1v1h-1zM407 290h1v1h-1zM408 291h1v1h-1zM409 292h1v1h-1zM410 293h1v1h-1zM411 293h1v1h-1zM412 292h1v1h-1zM413 292h1v1h-1zM414 291h1v1h-1zM415 291h1v1h-1zM416 292h1v1h-1zM417 292h1v1h-1zM418 293h1v1h-1zM419 292h1v1h-1zM420 292h1v1h-1zM421 291h1v1h-1zM422 290h1v1h-1zM423 291h1v1h-1zM424 291h1v1h-1zM425 292h1v1h-1zM426 293h1v1h-1zM427 294h1v2h-1zM428 296h1v2h-1zM429 298h1v2h-1zM430 300h1v1h-1zM431 300h1v1h-1zM432 300h1v1h-1zM433 300h1v1h-1zM434 300h1v1h-1zM435 299h1v1h-1zM436 297h1v2h-1zM437 296h1v1h-1zM438 295h1v1h-1zM439 294h1v1h-1zM440 294h1v1h-1zM441 293h1v1h-1zM442 292h1v1h-1zM443 290h1v2h-1zM444 289h1v1h-1zM445 287h1v2h-1zM446 286h1v1h-1zM447 286h1v1h-1zM448 286h1v1h-1zM449 286h1v1h-1zM450 286h1v1h-1zM451 286h1v1h-1zM452 286h1v1h-1zM453 285h1v1h-1zM454 284h1v2h-1zM455 281h1v3h-1zM456 279h1v2h-1zM457 276h1v3h-1zM458 273h1v3h-1zM459 269h1v4h-1zM460 266h1v3h-1zM461 262h1v4h-1zM462 259h1v3h-1zM463 256h1v3h-1zM464 252h1v4h-1zM465 249h1v3h-1zM466 246h1v3h-1zM467 243h1v3h-1zM468 240h1v3h-1zM469 237h1v3h-1zM470 234h1v3h-1zM471 232h1v2h-1zM472 229h1v3h-1zM473 227h1v2h-1zM474 224h1v3h-1zM475 222h1v2h-1zM476 220h1v2h-1zM477 218h1v2h-1zM478 217h1v1h-1zM479 216h1v1h-1zM480 214h1v2h-1zM481 213h1v1h-1zM482 212h1v1h-1zM483 212h1v1h-1zM484 212h1v1h-1zM485 211h1v1h-1zM486 211h1v1h-1zM487 212h1v1h-1zM488 212h1v1h-1zM489 213h1v1h-1zM490 214h1v1h-1zM491 215h1v2h-1zM492 217h1v1h-1zM493 218h1v2h-1zM494 220h1v1h-1zM495 220h1v1h-1zM496 220h1v1h-1zM497 219h1v1h-1zM498 219h1v1h-1zM499 219h1v1h-1zM500 220h1v1h-1zM501 220h1v1h-1zM502 221h1v1h-1zM503 221h1v1h-1zM504 220h1v1h-1zM505 220h1v1h-1zM506 218h1v2h-1zM507 216h1v2h-1zM508 213h1v3h-1zM509 211h1v2h-1zM510 209h1v2h-1zM511 209h1v1h-1zM512 208h1v1h-1zM513 208h1v1h-1zM514 207h1v1h-1zM515 208h1v1h-1zM516 209h1v2h-1zM517 211h1v1h-1zM518 212h1v1h-1zM519 212h1v1h-1zM520 211h1v1h-1zM521 211h1v1h-1zM522 210h1v1h-1zM523 210h1v1h-1zM524 210h1v1h-1zM525 209h1v1h-1zM526 209h1v1h-1zM527 209h1v1h-1zM528 209h1v1h-1zM529 208h1v1h-1zM530 208h1v1h-1zM531 209h1v1h-1zM532 210h1v1h-1zM533 211h1v1h-1zM534 212h1v1h-1zM535 212h1v1h-1zM536 212h1v1h-1zM537 213h1v1h-1zM538 213h1v1h-1zM539 213h1v1h-1zM540 214h1v1h-1zM541 214h1v1h-1zM542 215h1v1h-1zM543 215h1v1h-1zM544 214h1v1h-1zM545 214h1v1h-1zM546 213h1v1h-1zM547 213h1v1h-1zM548 213h1v1h-1zM549 214h1v1h-1zM550 214h1v2h-1zM551 216h1v2h-1zM552 218h1v2h-1zM553 220h1v2h-1zM554 222h1v1h-1zM555 222h1v1h-1zM556 223h1v1h-1zM557 223h1v1h-1zM558 224h1v1h-1zM559 223h1v1h-1zM560 223h1v1h-1zM561 222h1v1h-1zM562 221h1v1h-1zM563 221h1v1h-1zM564 222h1v1h-1zM565 222h1v1h-1zM566 223h1v1h-1zM567 223h1v1h-1zM568 223h1v1h-1zM569 224h1v1h-1zM570 224h1v1h-1zM571 224h1v1h-1zM572 224h1v1h-1zM573 225h1v1h-1zM574 225h1v1h-1zM575 223h1v2h-1zM576 221h1v2h-1zM577 219h1v2h-1zM578 217h1v2h-1zM579 214h1v3h-1zM580 211h1v3h-1zM581 208h1v3h-1zM582 205h1v3h-1zM583 202h1v3h-1zM584 200h1v2h-1zM585 197h1v3h-1zM586 195h1v2h-1zM587 194h1v1h-1zM588 192h1v2h-1zM589 191h1v1h-1zM590 189h1v2h-1zM591 187h1v2h-1zM592 185h1v2h-1zM593 183h1v2h-1zM594 181h1v2h-1zM595 181h1v1h-1zM596 181h1v1h-1zM597 181h1v1h-1zM598 181h1v1h-1zM599 182h1v1h-1zM600 183h1v2h-1zM601 185h1v1h-1zM602 186h1v1h-1zM603 187h1v2h-1zM604 189h1v2h-1zM605 191h1v2h-1zM606 193h1v3h-1zM607 196h1v4h-1zM608 200h1v5h-1zM609 205h1v4h-1zM610 209h1v6h-1zM611 215h1v7h-1zM612 222h1v8h-1zM613 230h1v7h-1zM614 237h1v7h-1zM615 244h1v7h-1zM616 251h1v7h-1zM617 258h1v7h-1zM618 265h1v7h-1zM619 272h1v7h-1zM620 279h1v7h-1zM621 286h1v7h-1zM622 293h1v6h-1zM623 299h1v4h-1zM624 303h1v5h-1zM625 308h1v4h-1zM626 312h1v3h-1zM627 315h1v2h-1zM628 317h1v1h-1zM629 318h1v2h-1zM630 320h1v2h-1zM631 322h1v2h-1zM632 324h1v3h-1zM633 327h1v2h-1zM634 329h1v2h-1zM635 328h1v2h-1zM636 327h1v1h-1zM637 325h1v2h-1zM638 322h1v3h-1zM639 318h1v4h-1zM640 314h1v4h-1zM641 310h1v4h-1zM642 307h1v3h-1zM643 303h1v4h-1zM644 299h1v4h-1zM645 295h1v4h-1zM646 292h1v3h-1zM647 289h1v3h-1zM648 286h1v3h-1zM649 283h1v3h-1zM650 281h1v2h-1zM651 281h1v1h-1zM652 281h1v1h-1zM653 282h1v1h-1zM654 282h1v3h-1zM655 285h1v4h-1zM656 289h1v4h-1zM657 293h1v4h-1zM658 297h1v4h-1zM659 301h1v3h-1zM660 304h1v4h-1zM661 308h1v3h-1zM662 311h1v5h-1zM663 316h1v6h-1zM664 322h1v6h-1zM665 328h1v6h-1zM666 334h1v6h-1zM667 340h1v6h-1zM668 346h1v6h-1zM669 352h1v6h-1zM670 358h1v7h-1zM671 365h1v6h-1zM672 371h1v6h-1zM673 377h1v6h-1zM674 383h1v7h-1zM675 390h1v7h-1zM676 397h1v7h-1zM677 404h1v7h-1zM678 411h1v6h-1zM679 417h1v5h-1zM680 422h1v4h-1zM681 426h1v5h-1zM682 431h1v4h-1zM683 435h1v3h-1zM684 438h1v2h-1zM685 440h1v3h-1zM686 443h1v3h-1zM687 446h1v3h-1zM688 449h1v4h-1zM689 453h1v3h-1zM690 456h1v3h-1zM691 459h1v2h-1zM692 461h1v2h-1zM693 463h1v2h-1zM694 465h1v2h-1zM695 467h1v2h-1zM696 469h1v2h-1zM697 471h1v2h-1zM698 473h1v3h-1zM699 476h1v3h-1zM700 479h1v4h-1zM701 483h1v3h-1zM702 486h1v3h-1zM703 489h1v2h-1zM704 491h1v2h-1zM705 493h1v2h-1zM706 495h1v1h-1zM707 495h1v1h-1zM708 495h1v1h-1zM709 496h1v1h-1zM710 496h1v1h-1zM711 496h1v1h-1zM712 496h1v1h-1zM713 496h1v1h-1zM714 496h1v1h-1zM715 496h1v1h-1zM716 496h1v1h-1zM717 495h1v1h-1zM718 495h1v1h-1zM719 495h1v1h-1zM720 495h1v1h-1zM721 496h1v1h-1zM722 496h1v1h-1zM723 497h1v1h-1zM724 497h1v1h-1zM725 498h1v1h-1zM726 499h1v1h-1zM727 499h1v1h-1zM728 498h1v1h-1zM729 498h1v1h-1zM730 497h1v1h-1zM731 497h1v1h-1zM732 498h1v1h-1zM733 498h1v1h-1zM734 499h1v1h-1zM735 500h1v2h-1zM736 502h1v1h-1zM737 503h1v2h-1zM738 505h1v1h-1zM739 506h1v1h-1zM740 506h1v1h-1zM741 507h1v1h-1zM742 508h1v1h-1zM743 508h1v1h-1zM744 509h1v1h-1zM745 509h1v1h-1zM746 510h1v2h-1zM747 512h1v2h-1zM748 514h1v2h-1zM749 516h1v2h-1zM750 518h1v1h-1zM751 519h1v1h-1zM752 520h1v1h-1zM753 521h1v1h-1zM754 522h1v1h-1zM755 522h1v1h-1zM756 522h1v1h-1zM757 523h1v1h-1zM758 523h1v1h-1zM759 522h1v1h-1zM760 522h1v1h-1zM761 521h1v1h-1zM762 519h1v2h-1zM763 516h1v3h-1zM764 514h1v2h-1zM765 511h1v3h-1zM766 508h1v3h-1zM767 506h1v2h-1zM768 503h1v3h-1zM769 501h1v2h-1zM770 499h1v2h-1zM771 497h1v2h-1zM772 496h1v1h-1zM773 494h1v2h-1zM774 492h1v2h-1zM775 489h1v3h-1zM776 486h1v3h-1zM777 483h1v3h-1zM778 480h1v3h-1zM779 476h1v4h-1zM780 472h1v4h-1zM781 468h1v4h-1zM782 465h1v3h-1zM783 462h1v3h-1zM784 459h1v3h-1zM785 456h1v3h-1zM786 453h1v3h-1zM787 450h1v3h-1zM788 448h1v2h-1zM789 445h1v3h-1zM790 443h1v2h-1zM791 443h1v1h-1zM792 442h1v1h-1zM793 442h1v1h-1zM794 441h1v1h-1zM795 439h1v2h-1zM796 438h1v1h-1zM797 436h1v2h-1zM798 434h1v2h-1zM799 432h1v2h-1zM800 430h1v2h-1zM801 428h1v2h-1zM802 427h1v1h-1zM803 426h1v1h-1zM804 424h1v2h-1zM805 423h1v1h-1zM806 422h1v1h-1zM807 421h1v1h-1zM808 420h1v1h-1zM809 419h1v1h-1zM810 418h1v1h-1zM811 417h1v1h-1zM812 415h1v2h-1zM813 414h1v1h-1zM814 412h1v2h-1zM815 409h1v3h-1zM816 405h1v4h-1zM817 402h1v3h-1zM818 398h1v4h-1zM819 394h1v4h-1zM820 389h1v5h-1zM821 385h1v4h-1zM822 382h1v3h-1zM823 381h1v1h-1zM824 380h1v1h-1zM825 379h1v1h-1zM826 378h1v1h-1zM827 378h1v1h-1zM828 378h1v1h-1zM829 379h1v1h-1zM830 379h1v1h-1zM831 379h1v1h-1zM832 379h1v1h-1zM833 378h1v1h-1zM834 378h1v1h-1zM835 377h1v1h-1zM836 376h1v1h-1zM837 375h1v1h-1zM838 374h1v1h-1zM839 374h1v1h-1zM840 374h1v1h-1zM841 373h1v1h-1zM842 373h1v1h-1zM843 372h1v1h-1zM844 372h1v1h-1zM845 371h1v1h-1zM846 370h1v1h-1zM847 370h1v1h-1zM848 370h1v1h-1zM849 370h1v1h-1zM850 370h1v1h-1zM851 369h1v1h-1zM852 367h1v2h-1zM853 366h1v1h-1zM854 365h1v1h-1zM855 363h1v2h-1zM856 361h1v2h-1zM857 359h1v2h-1zM858 357h1v2h-1zM859 354h1v3h-1zM860 351h1v3h-1zM861 348h1v3h-1zM862 345h1v3h-1zM863 343h1v2h-1zM864 341h1v2h-1zM865 339h1v2h-1zM866 337h1v2h-1zM867 335h1v2h-1zM868 333h1v2h-1zM869 331h1v2h-1zM870 330h1v1h-1zM871 330h1v1h-1zM872 331h1v1h-1zM873 331h1v1h-1zM874 332h1v1h-1zM875 332h1v1h-1zM876 333h1v1h-1zM877 333h1v1h-1zM878 334h1v1h-1zM879 333h1v1h-1zM880 332h1v1h-1zM881 331h1v1h-1zM882 330h1v1h-1zM883 330h1v1h-1zM884 330h1v1h-1zM885 331h1v1h-1zM886 331h1v1h-1zM887 332h1v1h-1zM888 333h1v2h-1zM889 335h1v1h-1zM890 336h1v1h-1zM891 336h1v1h-1zM892 336h1v1h-1zM893 337h1v1h-1zM894 337h1v1h-1zM895 337h1v1h-1zM896 337h1v1h-1zM897 337h1v1h-1zM898 337h1v1h-1zM899 337h1v1h-1zM900 336h1v1h-1zM901 336h1v1h-1zM902 335h1v1h-1zM903 334h1v1h-1zM904 334h1v1h-1zM905 333h1v1h-1zM906 332h1v1h-1zM907 332h1v1h-1zM908 331h1v1h-1zM909 331h1v1h-1zM910 329h1v2h-1zM911 327h1v2h-1zM912 324h1v3h-1zM913 322h1v2h-1zM914 320h1v2h-1zM915 321h1v2h-1zM916 323h1v2h-1zM917 325h1v2h-1zM918 327h1v2h-1zM919 329h1v2h-1zM920 331h1v2h-1zM921 333h1v2h-1zM922 335h1v2h-1zM923 337h1v3h-1zM924 340h1v4h-1zM925 344h1v3h-1zM926 347h1v4h-1zM927 351h1v4h-1zM928 355h1v4h-1zM929 359h1v4h-1zM930 363h1v5h-1zM931 368h1v4h-1zM932 372h1v4h-1zM933 376h1v4h-1zM934 380h1v4h-1zM935 384h1v5h-1zM936 389h1v6h-1zM937 395h1v5h-1zM938 400h1v5h-1zM939 405h1v4h-1zM940 409h1v4h-1zM941 413h1v4h-1zM942 417h1v3h-1zM943 419h1v1h-1zM944 419h1v1h-1zM945 420h1v1h-1zM946 420h1v1h-1zM947 419h1v1h-1zM948 417h1v2h-1zM949 416h1v1h-1zM950 415h1v1h-1zM951 414h1v1h-1zM952 412h1v2h-1zM953 411h1v1h-1zM954 409h1v2h-1zM955 407h1v2h-1zM956 405h1v2h-1zM957 403h1v2h-1zM958 401h1v2h-1zM959 399h1v2h-1zM960 397h1v2h-1zM961 395h1v2h-1zM962 392h1v3h-1zM963 388h1v4h-1zM964 384h1v4h-1zM965 380h1v4h-1zM966 376h1v4h-1zM967 374h1v2h-1zM968 372h1v2h-1zM969 370h1v2h-1zM970 369h1v1h-1zM971 367h1v2h-1zM972 365h1v2h-1zM973 363h1v2h-1zM974 362h1v1h-1zM975 362h1v1h-1zM976 362h1v1h-1zM977 363h1v1h-1zM978 363h1v1h-1zM979 362h1v1h-1zM980 360h1v2h-1zM981 359h1v1h-1zM982 358h1v1h-1zM983 358h1v1h-1zM984 358h1v1h-1zM985 359h1v1h-1zM986 359h1v1h-1zM987 359h1v1h-1zM988 358h1v1h-1zM989 358h1v1h-1zM990 357h1v1h-1zM991 358h1v1h-1zM992 358h1v1h-1zM993 359h1v1h-1zM994 360h1v1h-1zM995 360h1v1h-1zM996 361h1v1h-1zM997 361h1v1h-1zM998 362h1v1h-1zM999 363h1v1h-1zM1000 364h1v1h-1zM1001 365h1v1h-1zM1002 366h1v1h-1zM1003 367h1v1h-1zM1004 367h1v1h-1zM1005 368h1v1h-1zM1006 369h1v1h-1zM1007 370h1v1h-1zM1008 371h1v2h-1zM1009 373h1v1h-1zM1010 373h1v2h-1zM1011 371h1v2h-1zM1012 368h1v3h-1zM1013 366h1v2h-1zM1014 363h1v3h-1zM1015 361h1v2h-1zM1016 359h1v2h-1zM1017 357h1v2h-1zM1018 355h1v2h-1zM1019 353h1v2h-1zM1020 352h1v1h-1zM1021 350h1v2h-1zM1022 349h1v1h-1zM1023 347h1v2h-1zM1024 346h1v1h-1zM1025 344h1v2h-1zM1026 342h1v2h-1zM1027 340h1v2h-1zM1028 338h1v2h-1zM1029 336h1v2h-1zM1030 334h1v2h-1zM1031 332h1v2h-1zM1032 330h1v2h-1zM1033 328h1v2h-1zM1034 326h1v2h-1zM1035 323h1v3h-1zM1036 319h1v4h-1zM1037 316h1v3h-1zM1038 314h1v2h-1zM1039 315h1v2h-1zM1040 317h1v1h-1zM1041 318h1v2h-1zM1042 320h1v3h-1zM1043 323h1v4h-1zM1044 327h1v4h-1zM1045 331h1v4h-1zM1046 335h1v4h-1zM1047 339h1v3h-1zM1048 342h1v4h-1zM1049 346h1v3h-1zM1050 349h1v3h-1zM1051 352h1v2h-1zM1052 354h1v2h-1zM1053 356h1v2h-1zM1054 358h1v3h-1zM1055 361h1v3h-1zM1056 364h1v2h-1zM1057 366h1v3h-1zM1058 369h1v3h-1zM1059 372h1v3h-1zM1060 375h1v4h-1zM1061 379h1v3h-1zM1062 382h1v4h-1zM1063 386h1v6h-1zM1064 392h1v5h-1zM1065 397h1v6h-1zM1066 403h1v5h-1zM1067 408h1v4h-1zM1068 412h1v4h-1zM1069 416h1v4h-1zM1070 420h1v2h-1zM1071 422h1v2h-1zM1072 424h1v1h-1zM1073 425h1v2h-1zM1074 427h1v2h-1zM1075 429h1v3h-1zM1076 432h1v4h-1zM1077 436h1v3h-1zM1078 439h1v3h-1zM1079 442h1v4h-1zM1080 446h1v3h-1zM1081 449h1v4h-1zM1082 453h1v3h-1zM1083 456h1v4h-1zM1084 460h1v4h-1zM1085 464h1v4h-1zM1086 468h1v3h-1zM1087 471h1v4h-1zM1088 475h1v3h-1zM1089 478h1v4h-1zM1090 482h1v3h-1zM1091 485h1v2h-1zM1092 487h1v2h-1zM1093 489h1v2h-1zM1094 491h1v1h-1zM1095 492h1v2h-1zM1096 494h1v2h-1zM1097 496h1v2h-1zM1098 498h1v2h-1zM1099 500h1v2h-1zM1100 502h1v2h-1zM1101 504h1v2h-1zM1102 506h1v1h-1zM1103 506h1v1h-1zM1104 506h1v1h-1zM1105 506h1v1h-1zM1106 505h1v2h-1zM1107 503h1v2h-1zM1108 501h1v2h-1zM1109 499h1v2h-1zM1110 497h1v2h-1zM1111 495h1v2h-1zM1112 492h1v3h-1zM1113 490h1v2h-1zM1114 487h1v3h-1zM1115 485h1v2h-1zM1116 483h1v2h-1zM1117 481h1v2h-1zM1118 478h1v3h-1zM1119 476h1v2h-1zM1120 474h1v2h-1zM1121 472h1v2h-1zM1122 469h1v3h-1zM1123 467h1v2h-1zM1124 465h1v2h-1zM1125 463h1v2h-1zM1126 462h1v1h-1z" fill="#0000d0"/>
<rect x="2" y="236" width="1415" height="3" fill="#ff0000"/>
<rect x="2" y="352" width="1415" height="3" fill="#ff0000"/>
<rect x="2" y="452" width="1415" height="3" fill="#00ff00"/>
<rect x="2" y="560" width="1415" height="3" fill="#0000ff"/>
<rect x="1411" y="450" width="7" height="7" fill="#00ff00"/><rect x="1414" y="453" width="1" height="1" fill="#fff"/>
</g>
<g clip-path="url(#c2)">
<g fill="#c0c0c0"><rect x="2" y="594" width="1" height="26"/><rect x="6" y="593" width="1" height="27"/><rect x="10" y="594" width="1" height="26"/><rect x="14" y="594" width="1" height="26"/><rect x="18" y="594" width="1" height="26"/><rect x="22" y="594" width="1" height="26"/><rect x="26" y="593" width="1" height="27"/><rect x="30" y="591" width="1" height="29"/><rect x="34" y="588" width="1" height="32"/><rect x="38" y="586" width="1" height="34"/><rect x="42" y="580" width="1" height="40"/><rect x="46" y="576" width="1" height="44"/><rect x="50" y="573" width="1" height="47"/><rect x="54" y="572" width="1" height="48"/><rect x="58" y="573" width="1" height="47"/><rect x="62" y="571" width="1" height="49"/><rect x="66" y="571" width="1" height="49"/><rect x="70" y="571" width="1" height="49"/><rect x="74" y="572" width="1" height="48"/><rect x="78" y="573" width="1" height="47"/><rect x="82" y="575" width="1" height="45"/><rect x="86" y="582" width="1" height="38"/><rect x="90" y="592" width="1" height="28"/><rect x="94" y="601" width="1" height="19"/><rect x="98" y="612" width="1" height="8"/><rect x="102" y="620" width="1" height="2"/><rect x="106" y="620" width="1" height="12"/><rect x="110" y="620" width="1" height="18"/><rect x="114" y="620" width="1" height="21"/><rect x="118" y="620" width="1" height="24"/><rect x="122" y="620" width="1" height="26"/><rect x="126" y="620" width="1" height="27"/><rect x="130" y="620" width="1" height="28"/><rect x="134" y="620" width="1" height="27"/><rect x="138" y="620" width="1" height="27"/><rect x="142" y="620" width="1" height="26"/><rect x="146" y="620" width="1" height="24"/><rect x="150" y="620" width="1" height="20"/><rect x="154" y="620" width="1" height="17"/><rect x="158" y="620" width="1" height="14"/><rect x="162" y="620" width="1" height="17"/><rect x="166" y="620" width="1" height="19"/><rect x="170" y="620" width="1" height="19"/><rect x="174" y="620" width="1" height="18"/><rect x="178" y="620" width="1" height="23"/><rect x="182" y="620" width="1" height="27"/><rect x="186" y="620" width="1" height="31"/><rect x="190" y="620" width="1" height="34"/><rect x="194" y="620" width="1" height="35"/><rect x="198" y="620" width="1" height="35"/><rect x="202" y="620" width="1" height="31"/><rect x="206" y="620" width="1" height="23"/><rect x="210" y="620" width="1" height="19"/><rect x="214" y="620" width="1" height="15"/><rect x="218" y="620" width="1" height="10"/><rect x="222" y="620" width="1" height="10"/><rect x="226" y="620" width="1" height="8"/><rect x="230" y="620" width="1" height="5"/><rect x="234" y="620" width="1" height="4"/><rect x="238" y="620" width="1" height="4"/><rect x="242" y="620" width="1" height="5"/><rect x="246" y="620" width="1" height="6"/><rect x="250" y="620" width="1" height="8"/><rect x="254" y="620" width="1" height="8"/><rect x="258" y="620" width="1" height="11"/><rect x="262" y="620" width="1" height="13"/><rect x="266" y="620" width="1" height="13"/><rect x="270" y="620" width="1" height="14"/><rect x="274" y="620" width="1" height="15"/><rect x="278" y="620" width="1" height="15"/><rect x="282" y="620" width="1" height="9"/><rect x="286" y="620" width="1" height="4"/><rect x="290" y="620" width="1" height="1"/><rect x="294" y="615" width="1" height="5"/><rect x="298" y="607" width="1" height="13"/><rect x="302" y="601" width="1" height="19"/><rect x="306" y="598" width="1" height="22"/><rect x="310" y="596" width="1" height="24"/><rect x="314" y="595" width="1" height="25"/><rect x="318" y="596" width="1" height="24"/><rect x="322" y="600" width="1" height="20"/><rect x="326" y="602" width="1" height="18"/><rect x="330" y="603" width="1" height="17"/><rect x="334" y="604" width="1" height="16"/><rect x="338" y="605" width="1" height="15"/><rect x="342" y="607" width="1" height="13"/><rect x="346" y="610" width="1" height="10"/><rect x="350" y="609" width="1" height="11"/><rect x="354" y="607" width="1" height="13"/><rect x="358" y="604" width="1" height="16"/><rect x="362" y="604" width="1" height="16"/><rect x="366" y="605" width="1" height="15"/><rect x="370" y="604" width="1" height="16"/><rect x="374" y="603" width="1" height="17"/><rect x="378" y="605" width="1" height="15"/><rect x="382" y="608" width="1" height="12"/><rect x="386" y="611" width="1" height="9"/><rect x="390" y="613" width="1" height="7"/><rect x="394" y="614" width="1" height="6"/><rect x="398" y="614" width="1" height="6"/><rect x="402" y="613" width="1" height="7"/><rect x="406" y="613" width="1" height="7"/><rect x="410" y="616" width="1" height="4"/><rect x="414" y="617" width="1" height="3"/><rect x="418" y="619" width="1" height="1"/><rect x="422" y="618" width="1" height="2"/><rect x="426" y="619" width="1" height="1"/><rect x="430" y="620" width="1" height="1"/><rect x="434" y="619" width="1" height="1"/><rect x="438" y="618" width="1" height="2"/><rect x="442" y="618" width="1" height="2"/><rect x="446" y="618" width="1" height="2"/><rect x="450" y="617" width="1" height="3"/><rect x="454" y="618" width="1" height="2"/><rect x="458" y="615" width="1" height="5"/><rect x="462" y="610" width="1" height="10"/><rect x="466" y="607" width="1" height="13"/><rect x="470" y="605" width="1" height="15"/><rect x="474" y="604" width="1" height="16"/><rect x="478" y="604" width="1" height="16"/><rect x="482" y="607" width="1" height="13"/><rect x="486" y="607" width="1" height="13"/><rect x="490" y="606" width="1" height="14"/><rect x="494" y="607" width="1" height="13"/><rect x="498" y="606" width="1" height="14"/><rect x="502" y="607" width="1" height="13"/><rect x="506" y="606" width="1" height="14"/><rect x="510" y="606" width="1" height="14"/><rect x="514" y="606" width="1" height="14"/><rect x="518" y="608" width="1" height="12"/><rect x="522" y="609" width="1" height="11"/><rect x="526" y="609" width="1" height="11"/><rect x="530" y="609" width="1" height="11"/><rect x="534" y="611" width="1" height="9"/><rect x="538" y="611" width="1" height="9"/><rect x="542" y="612" width="1" height="8"/><rect x="546" y="613" width="1" height="7"/><rect x="550" y="614" width="1" height="6"/><rect x="554" y="616" width="1" height="4"/><rect x="558" y="617" width="1" height="3"/><rect x="562" y="615" width="1" height="5"/><rect x="566" y="616" width="1" height="4"/><rect x="570" y="616" width="1" height="4"/><rect x="574" y="617" width="1" height="3"/><rect x="578" y="615" width="1" height="5"/><rect x="582" y="613" width="1" height="7"/><rect x="586" y="610" width="1" height="10"/><rect x="590" y="609" width="1" height="11"/><rect x="594" y="608" width="1" height="12"/><rect x="598" y="611" width="1" height="9"/><rect x="602" y="615" width="1" height="5"/><rect x="606" y="617" width="1" height="3"/><rect x="610" y="620" width="1" height="2"/><rect x="614" y="620" width="1" height="9"/><rect x="618" y="620" width="1" height="14"/><rect x="622" y="620" width="1" height="19"/><rect x="626" y="620" width="1" height="21"/><rect x="630" y="620" width="1" height="21"/><rect x="634" y="620" width="1" height="20"/><rect x="638" y="620" width="1" height="16"/><rect x="642" y="620" width="1" height="13"/><rect x="646" y="620" width="1" height="10"/><rect x="650" y="620" width="1" height="10"/><rect x="654" y="620" width="1" height="13"/><rect x="658" y="620" width="1" height="20"/><rect x="662" y="620" width="1" height="23"/><rect x="666" y="620" width="1" height="26"/><rect x="670" y="620" width="1" height="29"/><rect x="674" y="620" width="1" height="31"/><rect x="678" y="620" width="1" height="35"/><rect x="682" y="620" width="1" height="38"/><rect x="686" y="620" width="1" height="41"/><rect x="690" y="620" width="1" height="43"/><rect x="694" y="620" width="1" height="41"/><rect x="698" y="620" width="1" height="41"/><rect x="702" y="620" width="1" height="43"/><rect x="706" y="620" width="1" height="44"/><rect x="710" y="620" width="1" height="42"/><rect x="714" y="620" width="1" height="41"/><rect x="718" y="620" width="1" height="39"/><rect x="722" y="620" width="1" height="35"/><rect x="726" y="620" width="1" height="34"/><rect x="730" y="620" width="1" height="34"/><rect x="734" y="620" width="1" height="34"/><rect x="738" y="620" width="1" height="34"/><rect x="742" y="620" width="1" height="33"/><rect x="746" y="620" width="1" height="30"/><rect x="750" y="620" width="1" height="29"/><rect x="754" y="620" width="1" height="29"/><rect x="758" y="620" width="1" height="27"/><rect x="762" y="620" width="1" height="25"/><rect x="766" y="620" width="1" height="21"/><rect x="770" y="620" width="1" height="16"/><rect x="774" y="620" width="1" height="13"/><rect x="778" y="620" width="1" height="9"/><rect x="782" y="620" width="1" height="6"/><rect x="786" y="620" width="1" height="3"/><rect x="790" y="620" width="1" height="1"/><rect x="794" y="620" width="1" height="1"/><rect x="798" y="618" width="1" height="2"/><rect x="802" y="615" width="1" height="5"/><rect x="806" y="613" width="1" height="7"/><rect x="810" y="612" width="1" height="8"/><rect x="814" y="610" width="1" height="10"/><rect x="818" y="607" width="1" height="13"/><rect x="822" y="603" width="1" height="17"/><rect x="826" y="603" width="1" height="17"/><rect x="830" y="605" width="1" height="15"/><rect x="834" y="605" width="1" height="15"/><rect x="838" y="605" width="1" height="15"/><rect x="842" y="606" width="1" height="14"/><rect x="846" y="603" width="1" height="17"/><rect x="850" y="601" width="1" height="19"/><rect x="854" y="601" width="1" height="19"/><rect x="858" y="602" width="1" height="18"/><rect x="862" y="600" width="1" height="20"/><rect x="866" y="599" width="1" height="21"/><rect x="870" y="600" width="1" height="20"/><rect x="874" y="601" width="1" height="19"/><rect x="878" y="601" width="1" height="19"/><rect x="882" y="601" width="1" height="19"/><rect x="886" y="604" width="1" height="16"/><rect x="890" y="605" width="1" height="15"/><rect x="894" y="605" width="1" height="15"/><rect x="898" y="606" width="1" height="14"/><rect x="902" y="606" width="1" height="14"/><rect x="906" y="606" width="1" height="14"/><rect x="910" y="605" width="1" height="15"/><rect x="914" y="605" width="1" height="15"/><rect x="918" y="609" width="1" height="11"/><rect x="922" y="613" width="1" height="7"/><rect x="926" y="618" width="1" height="2"/><rect x="930" y="620" width="1" height="2"/><rect x="934" y="620" width="1" height="6"/><rect x="938" y="620" width="1" height="9"/><rect x="942" y="620" width="1" height="10"/><rect x="946" y="620" width="1" height="10"/><rect x="950" y="620" width="1" height="6"/><rect x="954" y="620" width="1" height="6"/><rect x="958" y="620" width="1" height="5"/><rect x="962" y="620" width="1" height="4"/><rect x="966" y="620" width="1" height="1"/><rect x="970" y="620" width="1" height="1"/><rect x="974" y="619" width="1" height="1"/><rect x="978" y="618" width="1" height="2"/><rect x="982" y="618" width="1" height="2"/><rect x="986" y="619" width="1" height="1"/><rect x="990" y="618" width="1" height="2"/><rect x="994" y="618" width="1" height="2"/><rect x="998" y="618" width="1" height="2"/><rect x="1002" y="619" width="1" height="1"/><rect x="1006" y="620" width="1" height="1"/><rect x="1010" y="620" width="1" height="1"/><rect x="1014" y="617" width="1" height="3"/><rect x="1018" y="614" width="1" height="6"/><rect x="1022" y="612" width="1" height="8"/><rect x="1026" y="612" width="1" height="8"/><rect x="1030" y="612" width="1" height="8"/><rect x="1034" y="611" width="1" height="9"/><rect x="1038" y="610" width="1" height="10"/><rect x="1042" y="611" width="1" height="9"/><rect x="1046" y="617" width="1" height="3"/><rect x="1050" y="620" width="1" height="1"/><rect x="1054" y="620" width="1" height="2"/><rect x="1058" y="620" width="1" height="4"/><rect x="1062" y="620" width="1" height="6"/><rect x="1066" y="620" width="1" height="10"/><rect x="1070" y="620" width="1" height="13"/><rect x="1074" y="620" width="1" height="16"/><rect x="1078" y="620" width="1" height="19"/><rect x="1082" y="620" width="1" height="21"/><rect x="1086" y="620" width="1" height="24"/><rect x="1090" y="620" width="1" height="26"/><rect x="1094" y="620" width="1" height="27"/><rect x="1098" y="620" width="1" height="28"/><rect x="1102" y="620" width="1" height="28"/><rect x="1106" y="620" width="1" height="27"/><rect x="1110" y="620" width="1" height="22"/><rect x="1114" y="620" width="1" height="19"/><rect x="1118" y="620" width="1" height="16"/><rect x="1122" y="620" width="1" height="14"/><rect x="1126" y="620" width="1" height="13"/></g>
<path d="M2 599h1v1h-1zM3 599h1v1h-1zM4 599h1v1h-1zM8 598h1v1h-1zM9 597h1v1h-1zM10 597h1v1h-1zM14 597h1v1h-1zM15 597h1v1h-1zM16 597h1v1h-1zM20 596h1v1h-1zM21 595h1v1h-1zM22 595h1v1h-1zM26 594h1v1h-1zM27 594h1v1h-1zM28 594h1v1h-1zM32 594h1v1h-1zM33 593h1v1h-1zM34 593h1v1h-1zM38 592h1v1h-1zM39 592h1v1h-1zM40 591h1v1h-1zM44 590h1v1h-1zM45 589h1v1h-1zM46 589h1v1h-1zM50 586h1v1h-1zM51 586h1v1h-1zM52 585h1v1h-1zM56 583h1v1h-1zM57 582h1v1h-1zM58 581h1v1h-1zM62 579h1v1h-1zM63 579h1v1h-1zM64 578h1v1h-1zM68 576h1v1h-1zM69 576h1v1h-1zM70 575h1v1h-1zM74 573h1v1h-1zM75 573h1v1h-1zM76 573h1v1h-1zM80 572h1v1h-1zM81 572h1v1h-1zM82 572h1v1h-1zM86 573h1v1h-1zM87 573h1v1h-1zM88 574h1v1h-1zM92 577h1v1h-1zM93 578h1v1h-1zM94 579h1v1h-1zM98 583h1v1h-1zM99 584h1v1h-1zM99 585h1v1h-1zM102 589h1v1h-1zM103 590h1v1h-1zM103 591h1v1h-1zM105 595h1v1h-1zM106 596h1v1h-1zM107 597h1v1h-1zM109 601h1v1h-1zM109 602h1v1h-1zM110 603h1v1h-1zM112 607h1v1h-1zM112 608h1v1h-1zM113 609h1v1h-1zM115 613h1v1h-1zM116 614h1v1h-1zM116 615h1v1h-1zM119 619h1v1h-1zM119 620h1v1h-1zM120 621h1v1h-1zM122 625h1v1h-1zM123 626h1v1h-1zM123 627h1v1h-1zM126 631h1v1h-1zM127 632h1v1h-1zM127 633h1v1h-1zM130 637h1v1h-1zM131 638h1v1h-1zM132 639h1v1h-1zM136 642h1v1h-1zM137 642h1v1h-1zM138 643h1v1h-1zM142 645h1v1h-1zM143 645h1v1h-1zM144 645h1v1h-1zM148 646h1v1h-1zM149 645h1v1h-1zM150 645h1v1h-1zM154 645h1v1h-1zM155 645h1v1h-1zM156 644h1v1h-1zM160 643h1v1h-1zM161 642h1v1h-1zM162 642h1v1h-1zM166 641h1v1h-1zM167 641h1v1h-1zM168 641h1v1h-1zM172 640h1v1h-1zM173 639h1v1h-1zM174 639h1v1h-1zM178 639h1v1h-1zM179 639h1v1h-1zM180 639h1v1h-1zM184 640h1v1h-1zM185 640h1v1h-1zM186 641h1v1h-1zM190 642h1v1h-1zM191 643h1v1h-1zM192 643h1v1h-1zM196 646h1v1h-1zM197 646h1v1h-1zM198 647h1v1h-1zM202 648h1v1h-1zM203 648h1v1h-1zM204 648h1v1h-1zM208 649h1v1h-1zM209 649h1v1h-1zM210 649h1v1h-1zM214 648h1v1h-1zM215 648h1v1h-1zM216 647h1v1h-1zM220 645h1v1h-1zM221 644h1v1h-1zM222 643h1v1h-1zM226 640h1v1h-1zM227 639h1v1h-1zM228 639h1v1h-1zM232 636h1v1h-1zM233 635h1v1h-1zM234 634h1v1h-1zM238 631h1v1h-1zM239 631h1v1h-1zM240 630h1v1h-1zM244 628h1v1h-1zM245 628h1v1h-1zM246 627h1v1h-1zM250 627h1v1h-1zM251 627h1v1h-1zM252 627h1v1h-1zM256 626h1v1h-1zM257 626h1v1h-1zM258 626h1v1h-1zM262 627h1v1h-1zM263 627h1v1h-1zM264 627h1v1h-1zM268 628h1v1h-1zM269 629h1v1h-1zM270 629h1v1h-1zM274 630h1v1h-1zM275 630h1v1h-1zM276 630h1v1h-1zM280 631h1v1h-1zM281 632h1v1h-1zM282 632h1v1h-1zM286 631h1v1h-1zM287 631h1v1h-1zM288 631h1v1h-1zM292 630h1v1h-1zM293 629h1v1h-1zM294 629h1v1h-1zM298 626h1v1h-1zM299 625h1v1h-1zM300 624h1v1h-1zM304 620h1v1h-1zM305 619h1v1h-1zM306 618h1v1h-1zM310 614h1v1h-1zM311 613h1v1h-1zM312 612h1v1h-1zM315 608h1v1h-1zM316 608h1v1h-1zM317 607h1v1h-1zM321 604h1v1h-1zM322 603h1v1h-1zM323 603h1v1h-1zM327 601h1v1h-1zM328 601h1v1h-1zM329 600h1v1h-1zM333 599h1v1h-1zM334 599h1v1h-1zM335 599h1v1h-1zM339 600h1v1h-1zM340 600h1v1h-1zM341 601h1v1h-1zM345 602h1v1h-1zM346 602h1v1h-1zM347 602h1v1h-1zM351 604h1v1h-1zM352 604h1v1h-1zM353 605h1v1h-1zM357 606h1v1h-1zM358 606h1v1h-1zM359 606h1v1h-1zM363 606h1v1h-1zM364 606h1v1h-1zM365 606h1v1h-1zM369 606h1v1h-1zM370 606h1v1h-1zM371 606h1v1h-1zM375 606h1v1h-1zM376 606h1v1h-1zM377 606h1v1h-1zM381 605h1v1h-1zM382 605h1v1h-1zM383 605h1v1h-1zM387 606h1v1h-1zM388 606h1v1h-1zM389 606h1v1h-1zM393 607h1v1h-1zM394 607h1v1h-1zM395 607h1v1h-1zM399 608h1v1h-1zM400 608h1v1h-1zM401 609h1v1h-1zM405 610h1v1h-1zM406 610h1v1h-1zM407 610h1v1h-1zM411 612h1v1h-1zM412 612h1v1h-1zM413 613h1v1h-1zM417 614h1v1h-1zM418 614h1v1h-1zM419 614h1v1h-1zM423 615h1v1h-1zM424 615h1v1h-1zM425 616h1v1h-1zM429 617h1v1h-1zM430 617h1v1h-1zM431 617h1v1h-1zM435 617h1v1h-1zM436 617h1v1h-1zM437 618h1v1h-1zM441 618h1v1h-1zM442 618h1v1h-1zM443 618h1v1h-1zM447 618h1v1h-1zM448 618h1v1h-1zM449 618h1v1h-1zM453 618h1v1h-1zM454 618h1v1h-1zM455 618h1v1h-1zM459 618h1v1h-1zM460 618h1v1h-1zM461 617h1v1h-1zM465 616h1v1h-1zM466 615h1v1h-1zM467 615h1v1h-1zM471 614h1v1h-1zM472 613h1v1h-1zM473 613h1v1h-1zM477 611h1v1h-1zM478 611h1v1h-1zM479 611h1v1h-1zM483 610h1v1h-1zM484 609h1v1h-1zM485 609h1v1h-1zM489 607h1v1h-1zM490 607h1v1h-1zM491 607h1v1h-1zM495 606h1v1h-1zM496 606h1v1h-1zM497 606h1v1h-1zM501 606h1v1h-1zM502 606h1v1h-1zM503 606h1v1h-1zM507 606h1v1h-1zM508 606h1v1h-1zM509 606h1v1h-1zM513 606h1v1h-1zM514 606h1v1h-1zM515 606h1v1h-1zM519 607h1v1h-1zM520 607h1v1h-1zM521 607h1v1h-1zM525 607h1v1h-1zM526 607h1v1h-1zM527 607h1v1h-1zM531 607h1v1h-1zM532 607h1v1h-1zM533 608h1v1h-1zM537 608h1v1h-1zM538 608h1v1h-1zM539 608h1v1h-1zM543 609h1v1h-1zM544 609h1v1h-1zM545 610h1v1h-1zM549 611h1v1h-1zM550 611h1v1h-1zM551 611h1v1h-1zM555 611h1v1h-1zM556 611h1v1h-1zM557 612h1v1h-1zM561 613h1v1h-1zM562 613h1v1h-1zM563 613h1v1h-1zM567 614h1v1h-1zM568 614h1v1h-1zM569 614h1v1h-1zM573 615h1v1h-1zM574 615h1v1h-1zM575 615h1v1h-1zM579 616h1v1h-1zM580 616h1v1h-1zM581 616h1v1h-1zM585 615h1v1h-1zM586 615h1v1h-1zM587 615h1v1h-1zM591 614h1v1h-1zM592 614h1v1h-1zM593 613h1v1h-1zM597 613h1v1h-1zM598 613h1v1h-1zM599 613h1v1h-1zM603 613h1v1h-1zM604 613h1v1h-1zM605 613h1v1h-1zM609 613h1v1h-1zM610 613h1v1h-1zM611 613h1v1h-1zM615 615h1v1h-1zM616 616h1v1h-1zM617 616h1v1h-1zM621 619h1v1h-1zM622 620h1v1h-1zM623 621h1v1h-1zM627 625h1v1h-1zM628 626h1v1h-1zM629 627h1v1h-1zM633 630h1v1h-1zM634 631h1v1h-1zM635 631h1v1h-1zM639 633h1v1h-1zM640 634h1v1h-1zM641 634h1v1h-1zM645 636h1v1h-1zM646 636h1v1h-1zM647 636h1v1h-1zM651 636h1v1h-1zM652 636h1v1h-1zM653 636h1v1h-1zM657 636h1v1h-1zM658 636h1v1h-1zM659 636h1v1h-1zM663 636h1v1h-1zM664 636h1v1h-1zM665 637h1v1h-1zM669 638h1v1h-1zM670 638h1v1h-1zM671 638h1v1h-1zM675 640h1v1h-1zM676 640h1v1h-1zM677 641h1v1h-1zM681 644h1v1h-1zM682 645h1v1h-1zM683 646h1v1h-1zM687 650h1v1h-1zM688 650h1v1h-1zM689 651h1v1h-1zM693 653h1v1h-1zM694 654h1v1h-1zM695 654h1v1h-1zM699 656h1v1h-1zM700 657h1v1h-1zM701 657h1v1h-1zM705 659h1v1h-1zM706 660h1v1h-1zM707 660h1v1h-1zM711 661h1v1h-1zM712 661h1v1h-1zM713 662h1v1h-1zM717 662h1v1h-1zM718 662h1v1h-1zM719 662h1v1h-1zM723 661h1v1h-1zM724 661h1v1h-1zM725 660h1v1h-1zM729 659h1v1h-1zM730 659h1v1h-1zM731 659h1v1h-1zM735 658h1v1h-1zM736 658h1v1h-1zM737 657h1v1h-1zM741 656h1v1h-1zM742 656h1v1h-1zM743 656h1v1h-1zM747 655h1v1h-1zM748 655h1v1h-1zM749 654h1v1h-1zM753 653h1v1h-1zM754 652h1v1h-1zM755 652h1v1h-1zM759 652h1v1h-1zM760 652h1v1h-1zM761 651h1v1h-1zM765 650h1v1h-1zM766 649h1v1h-1zM767 649h1v1h-1zM771 647h1v1h-1zM772 646h1v1h-1zM773 646h1v1h-1zM777 643h1v1h-1zM778 642h1v1h-1zM779 641h1v1h-1zM783 638h1v1h-1zM784 638h1v1h-1zM785 637h1v1h-1zM789 634h1v1h-1zM790 633h1v1h-1zM791 632h1v1h-1zM795 629h1v1h-1zM796 629h1v1h-1zM797 628h1v1h-1zM801 626h1v1h-1zM802 625h1v1h-1zM803 624h1v1h-1zM807 622h1v1h-1zM808 621h1v1h-1zM809 621h1v1h-1zM813 619h1v1h-1zM814 618h1v1h-1zM815 617h1v1h-1zM819 615h1v1h-1zM820 614h1v1h-1zM821 614h1v1h-1zM825 612h1v1h-1zM826 611h1v1h-1zM827 611h1v1h-1zM831 609h1v1h-1zM832 609h1v1h-1zM833 608h1v1h-1zM837 607h1v1h-1zM838 607h1v1h-1zM839 607h1v1h-1zM843 606h1v1h-1zM844 606h1v1h-1zM845 605h1v1h-1zM849 604h1v1h-1zM850 604h1v1h-1zM851 604h1v1h-1zM855 604h1v1h-1zM856 604h1v1h-1zM857 604h1v1h-1zM861 603h1v1h-1zM862 603h1v1h-1zM863 603h1v1h-1zM867 603h1v1h-1zM868 603h1v1h-1zM869 602h1v1h-1zM873 602h1v1h-1zM874 602h1v1h-1zM875 602h1v1h-1zM879 601h1v1h-1zM880 601h1v1h-1zM881 601h1v1h-1zM885 601h1v1h-1zM886 601h1v1h-1zM887 601h1v1h-1zM891 602h1v1h-1zM892 602h1v1h-1zM893 602h1v1h-1zM897 603h1v1h-1zM898 603h1v1h-1zM899 603h1v1h-1zM903 603h1v1h-1zM904 603h1v1h-1zM905 604h1v1h-1zM909 604h1v1h-1zM910 604h1v1h-1zM911 604h1v1h-1zM915 605h1v1h-1zM916 605h1v1h-1zM917 606h1v1h-1zM921 607h1v1h-1zM922 607h1v1h-1zM923 607h1v1h-1zM927 608h1v1h-1zM928 609h1v1h-1zM929 609h1v1h-1zM933 611h1v1h-1zM934 612h1v1h-1zM935 613h1v1h-1zM939 615h1v1h-1zM940 616h1v1h-1zM941 616h1v1h-1zM945 619h1v1h-1zM946 620h1v1h-1zM947 620h1v1h-1zM951 622h1v1h-1zM952 623h1v1h-1zM953 623h1v1h-1zM957 625h1v1h-1zM958 626h1v1h-1zM959 626h1v1h-1zM963 626h1v1h-1zM964 626h1v1h-1zM965 626h1v1h-1zM969 626h1v1h-1zM970 626h1v1h-1zM971 626h1v1h-1zM975 625h1v1h-1zM976 624h1v1h-1zM977 624h1v1h-1zM981 622h1v1h-1zM982 622h1v1h-1zM983 622h1v1h-1zM987 621h1v1h-1zM988 621h1v1h-1zM989 620h1v1h-1zM993 619h1v1h-1zM994 619h1v1h-1zM995 619h1v1h-1zM999 619h1v1h-1zM1000 619h1v1h-1zM1001 619h1v1h-1zM1005 618h1v1h-1zM1006 618h1v1h-1zM1007 618h1v1h-1zM1011 619h1v1h-1zM1012 619h1v1h-1zM1013 619h1v1h-1zM1017 618h1v1h-1zM1018 618h1v1h-1zM1019 618h1v1h-1zM1023 618h1v1h-1zM1024 618h1v1h-1zM1025 617h1v1h-1zM1029 616h1v1h-1zM1030 616h1v1h-1zM1031 616h1v1h-1zM1035 615h1v1h-1zM1036 615h1v1h-1zM1037 614h1v1h-1zM1041 613h1v1h-1zM1042 613h1v1h-1zM1043 613h1v1h-1zM1047 613h1v1h-1zM1048 613h1v1h-1zM1049 613h1v1h-1zM1053 614h1v1h-1zM1054 614h1v1h-1zM1055 614h1v1h-1zM1059 615h1v1h-1zM1060 616h1v1h-1zM1061 616h1v1h-1zM1065 618h1v1h-1zM1066 619h1v1h-1zM1067 619h1v1h-1zM1071 622h1v1h-1zM1072 622h1v1h-1zM1073 623h1v1h-1zM1077 626h1v1h-1zM1078 627h1v1h-1zM1079 628h1v1h-1zM1083 631h1v1h-1zM1084 631h1v1h-1zM1085 632h1v1h-1zM1089 634h1v1h-1zM1090 635h1v1h-1zM1091 636h1v1h-1zM1095 638h1v1h-1zM1096 639h1v1h-1zM1097 639h1v1h-1zM1101 641h1v1h-1zM1102 642h1v1h-1zM1103 642h1v1h-1zM1107 644h1v1h-1zM1108 644h1v1h-1zM1109 645h1v1h-1zM1113 645h1v1h-1zM1114 645h1v1h-1zM1115 645h1v1h-1zM1119 644h1v1h-1zM1120 644h1v1h-1zM1121 643h1v1h-1zM1125 642h1v1h-1zM1126 642h1v1h-1z" fill="#ff0000"/>
</g>
<g clip-path="url(#c3)">
<line x1="2" y1="711.5" x2="1417" y2="711.5" stroke="#c0c0c0" stroke-dasharray="3 3"/>
<line x1="2" y1="762.5" x2="1417" y2="762.5" stroke="#c0c0c0" stroke-dasharray="3 3"/>
<path d="M2 716h1v1h-1zM3 717h1v2h-1zM4 719h1v1h-1zM5 720h1v2h-1zM6 722h1v1h-1zM7 723h1v1h-1zM8 724h1v1h-1zM9 725h1v1h-1zM10 726h1v1h-1zM11 726h1v1h-1zM12 726h1v1h-1zM13 726h1v1h-1zM14 726h1v1h-1zM15 725h1v1h-1zM16 725h1v1h-1zM17 724h1v1h-1zM18 723h1v1h-1zM19 723h1v1h-1zM20 723h1v1h-1zM21 722h1v1h-1zM22 722h1v1h-1zM23 721h1v1h-1zM24 721h1v1h-1zM25 720h1v1h-1zM26 719h1v1h-1zM27 718h1v1h-1zM28 717h1v1h-1zM29 716h1v1h-1zM30 715h1v1h-1zM31 715h1v1h-1zM32 714h1v1h-1zM33 714h1v1h-1zM34 713h1v1h-1zM35 712h1v1h-1zM36 712h1v1h-1zM37 711h1v1h-1zM38 710h1v1h-1zM39 708h1v2h-1zM40 706h1v2h-1zM41 704h1v2h-1zM42 703h1v1h-1zM43 703h1v1h-1zM44 703h1v1h-1zM45 703h1v1h-1zM46 703h1v1h-1zM47 703h1v1h-1zM48 703h1v1h-1zM49 703h1v1h-1zM50 703h1v1h-1zM51 703h1v1h-1zM52 704h1v1h-1zM53 704h1v1h-1zM54 705h1v1h-1zM55 706h1v1h-1zM56 707h1v2h-1zM57 709h1v1h-1zM58 710h1v1h-1zM59 709h1v1h-1zM60 708h1v1h-1zM61 707h1v1h-1zM62 706h1v1h-1zM63 706h1v1h-1zM64 706h1v1h-1zM65 705h1v1h-1zM66 705h1v1h-1zM67 705h1v1h-1zM68 705h1v1h-1zM69 705h1v1h-1zM70 705h1v1h-1zM71 705h1v1h-1zM72 706h1v1h-1zM73 706h1v1h-1zM74 707h1v1h-1zM75 707h1v1h-1zM76 708h1v1h-1zM77 708h1v1h-1zM78 709h1v1h-1zM79 709h1v1h-1zM80 709h1v1h-1zM81 708h1v1h-1zM82 708h1v4h-1zM83 712h1v8h-1zM84 720h1v7h-1zM85 727h1v8h-1zM86 735h1v5h-1zM87 740h1v3h-1zM88 743h1v2h-1zM89 745h1v3h-1zM90 748h1v2h-1zM91 749h1v1h-1zM92 750h1v1h-1zM93 750h1v1h-1zM94 751h1v1h-1zM95 752h1v2h-1zM96 754h1v2h-1zM97 756h1v2h-1zM98 758h1v1h-1zM99 759h1v1h-1zM100 760h1v1h-1zM101 761h1v1h-1zM102 762h1v1h-1zM103 762h1v1h-1zM104 763h1v1h-1zM105 763h1v1h-1zM106 764h1v1h-1zM107 763h1v1h-1zM108 762h1v1h-1zM109 761h1v1h-1zM110 760h1v1h-1zM111 759h1v1h-1zM112 757h1v2h-1zM113 756h1v1h-1zM114 755h1v1h-1zM115 755h1v1h-1zM116 755h1v1h-1zM117 755h1v1h-1zM118 755h1v1h-1zM119 755h1v1h-1zM120 755h1v1h-1zM121 756h1v1h-1zM122 756h1v1h-1zM123 756h1v1h-1zM124 756h1v1h-1zM125 756h1v1h-1zM126 756h1v1h-1zM127 756h1v1h-1zM128 756h1v1h-1zM129 756h1v1h-1zM130 756h1v1h-1zM131 755h1v1h-1zM132 753h1v2h-1zM133 752h1v1h-1zM134 751h1v1h-1zM135 751h1v1h-1zM136 752h1v1h-1zM137 752h1v1h-1zM138 753h1v1h-1zM139 752h1v1h-1zM140 752h1v1h-1zM141 751h1v1h-1zM142 750h1v1h-1zM143 749h1v1h-1zM144 748h1v1h-1zM145 747h1v1h-1zM146 745h1v2h-1zM147 742h1v3h-1zM148 740h1v2h-1zM149 737h1v3h-1zM150 735h1v2h-1zM151 736h1v1h-1zM152 736h1v1h-1zM153 737h1v1h-1zM154 738h1v1h-1zM155 738h1v1h-1zM156 737h1v1h-1zM157 737h1v1h-1zM158 736h1v3h-1zM159 739h1v4h-1zM160 743h1v4h-1zM161 747h1v4h-1zM162 751h1v3h-1zM163 753h1v1h-1zM164 753h1v1h-1zM165 754h1v1h-1zM166 753h1v2h-1zM167 751h1v2h-1zM168 749h1v2h-1zM169 747h1v2h-1zM170 746h1v1h-1zM171 746h1v1h-1zM172 745h1v1h-1zM173 745h1v1h-1zM174 744h1v2h-1zM175 746h1v4h-1zM176 750h1v4h-1zM177 754h1v4h-1zM178 758h1v2h-1zM179 759h1v1h-1zM180 759h1v1h-1zM181 760h1v1h-1zM182 760h1v1h-1zM183 761h1v1h-1zM184 761h1v1h-1zM185 762h1v1h-1zM186 763h1v1h-1zM187 763h1v1h-1zM188 762h1v1h-1zM189 762h1v1h-1zM190 761h1v1h-1zM191 760h1v1h-1zM192 759h1v1h-1zM193 758h1v1h-1zM194 757h1v1h-1zM195 757h1v1h-1zM196 756h1v1h-1zM197 756h1v1h-1zM198 754h1v2h-1zM199 750h1v4h-1zM200 747h1v3h-1zM201 743h1v4h-1zM202 740h1v3h-1zM203 737h1v3h-1zM204 734h1v3h-1zM205 731h1v3h-1zM206 729h1v2h-1zM207 730h1v2h-1zM208 732h1v1h-1zM209 733h1v2h-1zM210 735h1v1h-1zM211 735h1v1h-1zM212 735h1v1h-1zM213 734h1v1h-1zM214 734h1v1h-1zM215 733h1v1h-1zM216 732h1v1h-1zM217 731h1v1h-1zM218 730h1v2h-1zM219 732h1v2h-1zM220 734h1v2h-1zM221 736h1v2h-1zM222 738h1v2h-1zM223 738h1v1h-1zM224 738h1v1h-1zM225 737h1v1h-1zM226 736h1v1h-1zM227 735h1v1h-1zM228 734h1v1h-1zM229 733h1v1h-1zM230 732h1v1h-1zM231 733h1v2h-1zM232 735h1v1h-1zM233 736h1v2h-1zM234 738h1v1h-1zM235 738h1v1h-1zM236 738h1v1h-1zM237 739h1v1h-1zM238 739h1v1h-1zM239 739h1v1h-1zM240 739h1v1h-1zM241 740h1v1h-1zM242 740h1v1h-1zM243 741h1v1h-1zM244 741h1v1h-1zM245 742h1v1h-1zM246 743h1v1h-1zM247 744h1v1h-1zM248 745h1v1h-1zM249 746h1v1h-1zM250 746h1v2h-1zM251 744h1v2h-1zM252 742h1v2h-1zM253 740h1v2h-1zM254 739h1v2h-1zM255 741h1v2h-1zM256 743h1v3h-1zM257 746h1v2h-1zM258 748h1v2h-1zM259 749h1v1h-1zM260 749h1v1h-1zM261 750h1v1h-1zM262 749h1v2h-1zM263 747h1v2h-1zM264 745h1v2h-1zM265 743h1v2h-1zM266 742h1v1h-1zM267 742h1v1h-1zM268 743h1v1h-1zM269 743h1v1h-1zM270 744h1v1h-1zM271 744h1v1h-1zM272 745h1v1h-1zM273 745h1v1h-1zM274 746h1v1h-1zM275 745h1v1h-1zM276 745h1v1h-1zM277 744h1v1h-1zM278 741h1v3h-1zM279 737h1v4h-1zM280 733h1v4h-1zM281 729h1v4h-1zM282 727h1v2h-1zM283 727h1v1h-1zM284 728h1v1h-1zM285 728h1v1h-1zM286 729h1v1h-1zM287 728h1v1h-1zM288 728h1v1h-1zM289 727h1v1h-1zM290 726h1v1h-1zM291 725h1v1h-1zM292 724h1v1h-1zM293 723h1v1h-1zM294 722h1v1h-1zM295 720h1v2h-1zM296 718h1v2h-1zM297 716h1v2h-1zM298 715h1v1h-1zM299 715h1v1h-1zM300 715h1v1h-1zM301 715h1v1h-1zM302 715h1v1h-1zM303 716h1v1h-1zM304 717h1v2h-1zM305 719h1v1h-1zM306 720h1v1h-1zM307 720h1v1h-1zM308 720h1v1h-1zM309 720h1v1h-1zM310 720h1v1h-1zM311 721h1v1h-1zM312 721h1v1h-1zM313 722h1v1h-1zM314 723h1v1h-1zM315 724h1v2h-1zM316 726h1v1h-1zM317 727h1v2h-1zM318 729h1v2h-1zM319 731h1v2h-1zM320 733h1v2h-1zM321 735h1v2h-1zM322 737h1v1h-1zM323 736h1v1h-1zM324 735h1v1h-1zM325 734h1v1h-1zM326 733h1v1h-1zM327 733h1v1h-1zM328 732h1v1h-1zM329 732h1v1h-1zM330 731h1v1h-1zM331 731h1v1h-1zM332 731h1v1h-1zM333 732h1v1h-1zM334 732h1v1h-1zM335 732h1v1h-1zM336 732h1v1h-1zM337 733h1v1h-1zM338 733h1v1h-1zM339 733h1v1h-1zM340 733h1v1h-1zM341 734h1v1h-1zM342 734h1v1h-1zM343 735h1v2h-1zM344 737h1v1h-1zM345 738h1v2h-1zM346 739h1v2h-1zM347 736h1v3h-1zM348 733h1v3h-1zM349 730h1v3h-1zM350 728h1v2h-1zM351 727h1v1h-1zM352 725h1v2h-1zM353 724h1v1h-1zM354 723h1v1h-1zM355 723h1v1h-1zM356 723h1v1h-1zM357 723h1v1h-1zM358 723h1v1h-1zM359 724h1v1h-1zM360 725h1v1h-1zM361 726h1v1h-1zM362 727h1v1h-1zM363 728h1v1h-1zM364 728h1v1h-1zM365 729h1v1h-1zM366 730h1v1h-1zM367 729h1v1h-1zM368 727h1v2h-1zM369 726h1v1h-1zM370 725h1v1h-1zM371 725h1v1h-1zM372 724h1v1h-1zM373 724h1v1h-1zM374 723h1v2h-1zM375 725h1v3h-1zM376 728h1v4h-1zM377 732h1v3h-1zM378 735h1v2h-1zM379 736h1v1h-1zM380 736h1v1h-1zM381 737h1v1h-1zM382 737h1v1h-1zM383 738h1v1h-1zM384 739h1v2h-1zM385 741h1v1h-1zM386 742h1v1h-1zM387 741h1v1h-1zM388 739h1v2h-1zM389 738h1v1h-1zM390 737h1v1h-1zM391 737h1v1h-1zM392 737h1v1h-1zM393 737h1v1h-1zM394 737h1v1h-1zM395 736h1v1h-1zM396 736h1v1h-1zM397 735h1v1h-1zM398 734h1v1h-1zM399 733h1v1h-1zM400 732h1v1h-1zM401 731h1v1h-1zM402 730h1v1h-1zM403 731h1v1h-1zM404 731h1v1h-1zM405 732h1v1h-1zM406 733h1v2h-1zM407 735h1v2h-1zM408 737h1v2h-1zM409 739h1v2h-1zM410 741h1v2h-1zM411 742h1v1h-1zM412 741h1v1h-1zM413 741h1v1h-1zM414 740h1v1h-1zM415 740h1v1h-1zM416 741h1v1h-1zM417 741h1v1h-1zM418 741h1v2h-1zM419 739h1v2h-1zM420 736h1v3h-1zM421 734h1v2h-1zM422 732h1v2h-1zM423 733h1v2h-1zM424 735h1v2h-1zM425 737h1v2h-1zM426 739h1v1h-1zM427 739h1v1h-1zM428 739h1v1h-1zM429 739h1v1h-1zM430 739h1v1h-1zM431 737h1v2h-1zM432 736h1v1h-1zM433 734h1v2h-1zM434 733h1v1h-1zM435 733h1v1h-1zM436 733h1v1h-1zM437 734h1v1h-1zM438 734h1v1h-1zM439 734h1v1h-1zM440 735h1v1h-1zM441 735h1v1h-1zM442 736h1v1h-1zM443 735h1v1h-1zM444 735h1v1h-1zM445 734h1v1h-1zM446 733h1v1h-1zM447 733h1v1h-1zM448 732h1v1h-1zM449 732h1v1h-1zM450 731h1v1h-1zM451 732h1v2h-1zM452 734h1v2h-1zM453 736h1v2h-1zM454 737h1v2h-1zM455 734h1v3h-1zM456 730h1v4h-1zM457 727h1v3h-1zM458 724h1v3h-1zM459 722h1v2h-1zM460 720h1v2h-1zM461 718h1v2h-1zM462 717h1v1h-1zM463 718h1v1h-1zM464 718h1v1h-1zM465 719h1v1h-1zM466 720h1v1h-1zM467 721h1v1h-1zM468 722h1v1h-1zM469 723h1v1h-1zM470 724h1v1h-1zM471 724h1v1h-1zM472 724h1v1h-1zM473 723h1v1h-1zM474 723h1v1h-1zM475 723h1v1h-1zM476 724h1v1h-1zM477 724h1v1h-1zM478 725h1v2h-1zM479 727h1v3h-1zM480 730h1v3h-1zM481 733h1v3h-1zM482 736h1v2h-1zM483 735h1v2h-1zM484 733h1v2h-1zM485 731h1v2h-1zM486 730h1v1h-1zM487 729h1v1h-1zM488 728h1v1h-1zM489 727h1v1h-1zM490 726h1v1h-1zM491 727h1v2h-1zM492 729h1v2h-1zM493 731h1v2h-1zM494 733h1v1h-1zM495 731h1v2h-1zM496 730h1v1h-1zM497 728h1v2h-1zM498 727h1v1h-1zM499 728h1v1h-1zM500 729h1v1h-1zM501 730h1v1h-1zM502 731h1v1h-1zM503 730h1v1h-1zM504 730h1v1h-1zM505 729h1v1h-1zM506 728h1v1h-1zM507 728h1v1h-1zM508 728h1v1h-1zM509 727h1v1h-1zM510 727h1v1h-1zM511 727h1v1h-1zM512 728h1v1h-1zM513 728h1v1h-1zM514 729h1v1h-1zM515 730h1v2h-1zM516 732h1v2h-1zM517 734h1v2h-1zM518 736h1v1h-1zM519 735h1v1h-1zM520 735h1v1h-1zM521 734h1v1h-1zM522 733h1v1h-1zM523 732h1v1h-1zM524 730h1v2h-1zM525 729h1v1h-1zM526 728h1v1h-1zM527 729h1v1h-1zM528 730h1v2h-1zM529 732h1v1h-1zM530 733h1v1h-1zM531 733h1v1h-1zM532 734h1v1h-1zM533 734h1v1h-1zM534 735h1v1h-1zM535 734h1v1h-1zM536 733h1v1h-1zM537 732h1v1h-1zM538 731h1v1h-1zM539 732h1v1h-1zM540 733h1v1h-1zM541 734h1v1h-1zM542 735h1v1h-1zM543 735h1v1h-1zM544 735h1v1h-1zM545 734h1v1h-1zM546 734h1v1h-1zM547 735h1v1h-1zM548 736h1v1h-1zM549 737h1v1h-1zM550 738h1v1h-1zM551 739h1v1h-1zM552 740h1v1h-1zM553 741h1v1h-1zM554 742h1v1h-1zM555 740h1v2h-1zM556 739h1v1h-1zM557 737h1v2h-1zM558 736h1v1h-1zM559 734h1v2h-1zM560 732h1v2h-1zM561 730h1v2h-1zM562 729h1v1h-1zM563 730h1v2h-1zM564 732h1v1h-1zM565 733h1v2h-1zM566 735h1v1h-1zM567 735h1v1h-1zM568 735h1v1h-1zM569 736h1v1h-1zM570 736h1v1h-1zM571 736h1v1h-1zM572 736h1v1h-1zM573 737h1v1h-1zM574 736h1v2h-1zM575 734h1v2h-1zM576 731h1v3h-1zM577 729h1v2h-1zM578 727h1v2h-1zM579 726h1v1h-1zM580 725h1v1h-1zM581 724h1v1h-1zM582 723h1v1h-1zM583 723h1v1h-1zM584 722h1v1h-1zM585 722h1v1h-1zM586 721h1v1h-1zM587 721h1v1h-1zM588 722h1v1h-1zM589 722h1v1h-1zM590 723h1v1h-1zM591 723h1v1h-1zM592 723h1v1h-1zM593 723h1v1h-1zM594 723h1v3h-1zM595 726h1v4h-1zM596 730h1v4h-1zM597 734h1v4h-1zM598 738h1v4h-1zM599 742h1v2h-1zM600 744h1v2h-1zM601 746h1v2h-1zM602 748h1v1h-1zM603 746h1v2h-1zM604 745h1v1h-1zM605 743h1v2h-1zM606 742h1v2h-1zM607 744h1v2h-1zM608 746h1v2h-1zM609 748h1v2h-1zM610 750h1v3h-1zM611 753h1v2h-1zM612 755h1v2h-1zM613 757h1v2h-1zM614 759h1v2h-1zM615 760h1v1h-1zM616 760h1v1h-1zM617 760h1v1h-1zM618 760h1v1h-1zM619 760h1v1h-1zM620 760h1v1h-1zM621 760h1v1h-1zM622 760h1v1h-1zM623 759h1v1h-1zM624 759h1v1h-1zM625 758h1v1h-1zM626 756h1v2h-1zM627 753h1v3h-1zM628 751h1v2h-1zM629 748h1v3h-1zM630 746h1v2h-1zM631 746h1v1h-1zM632 746h1v1h-1zM633 747h1v1h-1zM634 746h1v2h-1zM635 742h1v4h-1zM636 739h1v3h-1zM637 735h1v4h-1zM638 733h1v2h-1zM639 733h1v1h-1zM640 733h1v1h-1zM641 734h1v1h-1zM642 734h1v1h-1zM643 734h1v1h-1zM644 734h1v1h-1zM645 735h1v1h-1zM646 735h1v1h-1zM647 736h1v1h-1zM648 737h1v2h-1zM649 739h1v1h-1zM650 740h1v2h-1zM651 742h1v3h-1zM652 745h1v4h-1zM653 749h1v3h-1zM654 752h1v2h-1zM655 754h1v2h-1zM656 756h1v2h-1zM657 758h1v2h-1zM658 760h1v1h-1zM659 759h1v1h-1zM660 758h1v1h-1zM661 757h1v1h-1zM662 756h1v1h-1zM663 756h1v1h-1zM664 756h1v1h-1zM665 757h1v1h-1zM666 757h1v1h-1zM667 757h1v1h-1zM668 757h1v1h-1zM669 758h1v1h-1zM670 758h1v1h-1zM671 758h1v1h-1zM672 758h1v1h-1zM673 759h1v1h-1zM674 759h1v1h-1zM675 760h1v1h-1zM676 761h1v2h-1zM677 763h1v1h-1zM678 764h1v1h-1zM679 764h1v1h-1zM680 765h1v1h-1zM681 765h1v1h-1zM682 766h1v1h-1zM683 766h1v1h-1zM684 766h1v1h-1zM685 767h1v1h-1zM686 767h1v1h-1zM687 766h1v1h-1zM688 766h1v1h-1zM689 765h1v1h-1zM690 763h1v2h-1zM691 761h1v2h-1zM692 759h1v2h-1zM693 757h1v2h-1zM694 756h1v1h-1zM695 757h1v1h-1zM696 757h1v1h-1zM697 758h1v1h-1zM698 759h1v1h-1zM699 760h1v1h-1zM700 761h1v1h-1zM701 762h1v1h-1zM702 763h1v1h-1zM703 763h1v1h-1zM704 763h1v1h-1zM705 764h1v1h-1zM706 763h1v2h-1zM707 761h1v2h-1zM708 759h1v2h-1zM709 757h1v2h-1zM710 756h1v1h-1zM711 756h1v1h-1zM712 756h1v1h-1zM713 757h1v1h-1zM714 757h1v1h-1zM715 756h1v1h-1zM716 754h1v2h-1zM717 753h1v1h-1zM718 752h1v1h-1zM719 751h1v1h-1zM720 749h1v2h-1zM721 748h1v1h-1zM722 747h1v1h-1zM723 748h1v2h-1zM724 750h1v2h-1zM725 752h1v2h-1zM726 754h1v1h-1zM727 754h1v1h-1zM728 754h1v1h-1zM729 754h1v1h-1zM730 754h1v1h-1zM731 755h1v1h-1zM732 756h1v1h-1zM733 757h1v1h-1zM734 758h1v1h-1zM735 758h1v1h-1zM736 758h1v1h-1zM737 758h1v1h-1zM738 758h1v1h-1zM739 757h1v1h-1zM740 756h1v1h-1zM741 755h1v1h-1zM742 753h1v2h-1zM743 751h1v2h-1zM744 749h1v2h-1zM745 747h1v2h-1zM746 746h1v1h-1zM747 747h1v1h-1zM748 748h1v2h-1zM749 750h1v1h-1zM750 751h1v1h-1zM751 751h1v1h-1zM752 752h1v1h-1zM753 752h1v1h-1zM754 753h1v1h-1zM755 752h1v1h-1zM756 750h1v2h-1zM757 749h1v1h-1zM758 748h1v1h-1zM759 748h1v1h-1zM760 748h1v1h-1zM761 748h1v1h-1zM762 747h1v2h-1zM763 744h1v3h-1zM764 740h1v4h-1zM765 737h1v3h-1zM766 735h1v2h-1zM767 735h1v1h-1zM768 734h1v1h-1zM769 734h1v1h-1zM770 733h1v1h-1zM771 733h1v1h-1zM772 733h1v1h-1zM773 733h1v1h-1zM774 733h1v1h-1zM775 732h1v1h-1zM776 732h1v1h-1zM777 731h1v1h-1zM778 730h1v1h-1zM779 730h1v1h-1zM780 729h1v1h-1zM781 729h1v1h-1zM782 728h1v1h-1zM783 728h1v1h-1zM784 728h1v1h-1zM785 729h1v1h-1zM786 729h1v1h-1zM787 729h1v1h-1zM788 729h1v1h-1zM789 730h1v1h-1zM790 730h1v1h-1zM791 731h1v1h-1zM792 732h1v1h-1zM793 733h1v1h-1zM794 733h1v2h-1zM795 731h1v2h-1zM796 729h1v2h-1zM797 727h1v2h-1zM798 725h1v2h-1zM799 724h1v1h-1zM800 724h1v1h-1zM801 723h1v1h-1zM802 722h1v1h-1zM803 722h1v1h-1zM804 722h1v1h-1zM805 723h1v1h-1zM806 723h1v1h-1zM807 723h1v1h-1zM808 724h1v1h-1zM809 724h1v1h-1zM810 725h1v1h-1zM811 724h1v1h-1zM812 724h1v1h-1zM813 723h1v1h-1zM814 721h1v2h-1zM815 719h1v2h-1zM816 716h1v3h-1zM817 714h1v2h-1zM818 712h1v2h-1zM819 711h1v1h-1zM820 710h1v1h-1zM821 709h1v1h-1zM822 708h1v3h-1zM823 711h1v5h-1zM824 716h1v5h-1zM825 721h1v5h-1zM826 726h1v3h-1zM827 729h1v1h-1zM828 730h1v1h-1zM829 731h1v1h-1zM830 732h1v1h-1zM831 732h1v1h-1zM832 731h1v1h-1zM833 731h1v1h-1zM834 730h1v1h-1zM835 729h1v1h-1zM836 729h1v1h-1zM837 728h1v1h-1zM838 727h1v1h-1zM839 728h1v1h-1zM840 728h1v1h-1zM841 729h1v1h-1zM842 729h1v2h-1zM843 726h1v3h-1zM844 723h1v3h-1zM845 720h1v3h-1zM846 718h1v2h-1zM847 718h1v1h-1zM848 718h1v1h-1zM849 717h1v1h-1zM850 717h1v2h-1zM851 719h1v2h-1zM852 721h1v2h-1zM853 723h1v2h-1zM854 725h1v2h-1zM855 726h1v1h-1zM856 727h1v1h-1zM857 727h1v1h-1zM858 727h1v2h-1zM859 725h1v2h-1zM860 723h1v2h-1zM861 721h1v2h-1zM862 720h1v1h-1zM863 720h1v1h-1zM864 721h1v1h-1zM865 721h1v1h-1zM866 722h1v1h-1zM867 723h1v2h-1zM868 725h1v1h-1zM869 726h1v2h-1zM870 728h1v1h-1zM871 728h1v1h-1zM872 728h1v1h-1zM873 727h1v1h-1zM874 727h1v1h-1zM875 727h1v1h-1zM876 727h1v1h-1zM877 727h1v1h-1zM878 727h1v1h-1zM879 726h1v1h-1zM880 726h1v1h-1zM881 725h1v1h-1zM882 724h1v2h-1zM883 726h1v3h-1zM884 729h1v3h-1zM885 732h1v3h-1zM886 735h1v2h-1zM887 735h1v1h-1zM888 733h1v2h-1zM889 732h1v1h-1zM890 731h1v1h-1zM891 730h1v1h-1zM892 730h1v1h-1zM893 729h1v1h-1zM894 728h1v1h-1zM895 729h1v1h-1zM896 729h1v1h-1zM897 730h1v1h-1zM898 731h1v1h-1zM899 730h1v1h-1zM900 728h1v2h-1zM901 727h1v1h-1zM902 726h1v1h-1zM903 726h1v1h-1zM904 726h1v1h-1zM905 727h1v1h-1zM906 727h1v1h-1zM907 726h1v1h-1zM908 726h1v1h-1zM909 725h1v1h-1zM910 724h1v1h-1zM911 724h1v1h-1zM912 724h1v1h-1zM913 723h1v1h-1zM914 723h1v3h-1zM915 726h1v5h-1zM916 731h1v6h-1zM917 737h1v5h-1zM918 742h1v3h-1zM919 744h1v1h-1zM920 744h1v1h-1zM921 743h1v1h-1zM922 743h1v2h-1zM923 745h1v2h-1zM924 747h1v2h-1zM925 749h1v2h-1zM926 751h1v1h-1zM927 751h1v1h-1zM928 751h1v1h-1zM929 752h1v1h-1zM930 752h1v1h-1zM931 752h1v1h-1zM932 752h1v1h-1zM933 751h1v1h-1zM934 751h1v1h-1zM935 752h1v1h-1zM936 753h1v1h-1zM937 754h1v1h-1zM938 754h1v2h-1zM939 752h1v2h-1zM940 750h1v2h-1zM941 748h1v2h-1zM942 746h1v2h-1zM943 745h1v1h-1zM944 743h1v2h-1zM945 742h1v1h-1zM946 740h1v2h-1zM947 737h1v3h-1zM948 735h1v2h-1zM949 732h1v3h-1zM950 730h1v2h-1zM951 732h1v2h-1zM952 734h1v3h-1zM953 737h1v2h-1zM954 739h1v2h-1zM955 739h1v1h-1zM956 738h1v1h-1zM957 737h1v1h-1zM958 736h1v1h-1zM959 736h1v1h-1zM960 736h1v1h-1zM961 736h1v1h-1zM962 735h1v2h-1zM963 733h1v2h-1zM964 731h1v2h-1zM965 729h1v2h-1zM966 728h1v1h-1zM967 729h1v2h-1zM968 731h1v1h-1zM969 732h1v2h-1zM970 734h1v1h-1zM971 734h1v1h-1zM972 733h1v1h-1zM973 733h1v1h-1zM974 732h1v1h-1zM975 732h1v1h-1zM976 733h1v1h-1zM977 733h1v1h-1zM978 734h1v1h-1zM979 734h1v1h-1zM980 734h1v1h-1zM981 734h1v1h-1zM982 734h1v1h-1zM983 735h1v1h-1zM984 736h1v1h-1zM985 737h1v1h-1zM986 738h1v1h-1zM987 737h1v1h-1zM988 737h1v1h-1zM989 736h1v1h-1zM990 735h1v1h-1zM991 735h1v1h-1zM992 734h1v1h-1zM993 734h1v1h-1zM994 733h1v1h-1zM995 734h1v1h-1zM996 735h1v2h-1zM997 737h1v1h-1zM998 738h1v1h-1zM999 738h1v1h-1zM1000 738h1v1h-1zM1001 739h1v1h-1zM1002 739h1v1h-1zM1003 739h1v1h-1zM1004 739h1v1h-1zM1005 738h1v1h-1zM1006 738h1v1h-1zM1007 739h1v1h-1zM1008 740h1v2h-1zM1009 742h1v1h-1zM1010 741h1v3h-1zM1011 736h1v5h-1zM1012 732h1v4h-1zM1013 727h1v5h-1zM1014 724h1v3h-1zM1015 724h1v1h-1zM1016 724h1v1h-1zM1017 723h1v1h-1zM1018 723h1v1h-1zM1019 724h1v1h-1zM1020 724h1v1h-1zM1021 725h1v1h-1zM1022 726h1v1h-1zM1023 727h1v1h-1zM1024 727h1v1h-1zM1025 728h1v1h-1zM1026 729h1v1h-1zM1027 729h1v1h-1zM1028 729h1v1h-1zM1029 730h1v1h-1zM1030 730h1v1h-1zM1031 729h1v1h-1zM1032 729h1v1h-1zM1033 728h1v1h-1zM1034 727h1v1h-1zM1035 727h1v1h-1zM1036 726h1v1h-1zM1037 726h1v1h-1zM1038 725h1v2h-1zM1039 727h1v3h-1zM1040 730h1v4h-1zM1041 734h1v3h-1zM1042 737h1v3h-1zM1043 740h1v3h-1zM1044 743h1v4h-1zM1045 747h1v3h-1zM1046 750h1v2h-1zM1047 750h1v1h-1zM1048 749h1v1h-1zM1049 748h1v1h-1zM1050 747h1v1h-1zM1051 746h1v1h-1zM1052 744h1v2h-1zM1053 743h1v1h-1zM1054 742h1v1h-1zM1055 743h1v1h-1zM1056 744h1v1h-1zM1057 745h1v1h-1zM1058 746h1v1h-1zM1059 746h1v1h-1zM1060 746h1v1h-1zM1061 746h1v1h-1zM1062 746h1v2h-1zM1063 748h1v2h-1zM1064 750h1v2h-1zM1065 752h1v2h-1zM1066 754h1v2h-1zM1067 755h1v1h-1zM1068 755h1v1h-1zM1069 756h1v1h-1zM1070 756h1v1h-1zM1071 755h1v1h-1zM1072 755h1v1h-1zM1073 754h1v1h-1zM1074 753h1v1h-1zM1075 754h1v2h-1zM1076 756h1v1h-1zM1077 757h1v2h-1zM1078 759h1v1h-1zM1079 759h1v1h-1zM1080 758h1v1h-1zM1081 758h1v1h-1zM1082 757h1v1h-1zM1083 757h1v1h-1zM1084 758h1v1h-1zM1085 758h1v1h-1zM1086 759h1v1h-1zM1087 759h1v1h-1zM1088 759h1v1h-1zM1089 760h1v1h-1zM1090 760h1v1h-1zM1091 760h1v1h-1zM1092 760h1v1h-1zM1093 761h1v1h-1zM1094 761h1v1h-1zM1095 761h1v1h-1zM1096 761h1v1h-1zM1097 760h1v1h-1zM1098 760h1v1h-1zM1099 760h1v1h-1zM1100 760h1v1h-1zM1101 761h1v1h-1zM1102 760h1v2h-1zM1103 758h1v2h-1zM1104 755h1v3h-1zM1105 753h1v2h-1zM1106 750h1v3h-1zM1107 746h1v4h-1zM1108 742h1v4h-1zM1109 738h1v4h-1zM1110 736h1v2h-1zM1111 736h1v1h-1zM1112 736h1v1h-1zM1113 735h1v1h-1zM1114 735h1v1h-1zM1115 736h1v1h-1zM1116 737h1v2h-1zM1117 739h1v1h-1zM1118 740h1v1h-1zM1119 740h1v1h-1zM1120 740h1v1h-1zM1121 740h1v1h-1zM1122 740h1v1h-1zM1123 740h1v1h-1zM1124 740h1v1h-1zM1125 740h1v1h-1zM1126 740h1v1h-1z" fill="#1e90ff"/>
</g>
<rect x="1" y="22" width="1" height="542" fill="#000"/>
<rect x="1" y="565" width="1" height="105" fill="#000"/>
<rect x="1" y="671" width="1" height="131" fill="#000"/>
<rect x="1417" y="22" width="1" height="780" fill="#000"/>
<rect x="1" y="22" width="1417" height="1" fill="#000"/>
<rect x="1" y="563" width="1417" height="1" fill="#000"/>
<rect x="1" y="565" width="1417" height="1" fill="#000"/>
<rect x="1" y="669" width="1417" height="1" fill="#000"/>
<rect x="1" y="671" width="1417" height="1" fill="#000"/>
<rect x="1" y="801" width="1417" height="1" fill="#000"/>
<rect x="1" y="450" width="7" height="7" fill="#00ff00"/><rect x="4" y="453" width="1" height="1" fill="#fff"/>
<rect x="1418" y="32" width="2" height="1" fill="#000"/>
<rect x="1418" y="65" width="2" height="1" fill="#000"/>
<rect x="1418" y="98" width="2" height="1" fill="#000"/>
<rect x="1418" y="131" width="2" height="1" fill="#000"/>
<rect x="1418" y="164" width="2" height="1" fill="#000"/>
<rect x="1418" y="197" width="2" height="1" fill="#000"/>
<rect x="1418" y="230" width="2" height="1" fill="#000"/>
<rect x="1418" y="263" width="2" height="1" fill="#000"/>
<rect x="1418" y="296" width="2" height="1" fill="#000"/>
<rect x="1418" y="329" width="2" height="1" fill="#000"/>
<rect x="1418" y="362" width="2" height="1" fill="#000"/>
<rect x="1418" y="395" width="2" height="1" fill="#000"/>
<rect x="1418" y="428" width="2" height="1" fill="#000"/>
<rect x="1418" y="461" width="2" height="1" fill="#000"/>
<rect x="1418" y="494" width="2" height="1" fill="#000"/>
<rect x="1418" y="527" width="2" height="1" fill="#000"/>
<rect x="1418" y="566" width="2" height="1" fill="#000"/>
<rect x="1418" y="620" width="2" height="1" fill="#000"/>
<rect x="1418" y="668" width="2" height="1" fill="#000"/>
<rect x="1418" y="673" width="2" height="1" fill="#000"/>
<rect x="1418" y="711" width="2" height="1" fill="#000"/>
<rect x="1418" y="762" width="2" height="1" fill="#000"/>
<rect x="1418" y="800" width="2" height="1" fill="#000"/>
<rect x="2" y="802" width="1" height="3" fill="#000"/>
<rect x="66" y="802" width="1" height="3" fill="#000"/>
<rect x="130" y="802" width="1" height="3" fill="#000"/>
<rect x="194" y="802" width="1" height="3" fill="#000"/>
<rect x="258" y="802" width="1" height="3" fill="#000"/>
<rect x="322" y="802" width="1" height="3" fill="#000"/>
<rect x="386" y="802" width="1" height="3" fill="#000"/>
<rect x="450" y="802" width="1" height="3" fill="#000"/>
<rect x="514" y="802" width="1" height="3" fill="#000"/>
<rect x="578" y="802" width="1" height="3" fill="#000"/>
<rect x="642" y="802" width="1" height="3" fill="#000"/>
<rect x="706" y="802" width="1" height="3" fill="#000"/>
<rect x="770" y="802" width="1" height="3" fill="#000"/>
<rect x="834" y="802" width="1" height="3" fill="#000"/>
<rect x="898" y="802" width="1" height="3" fill="#000"/>
<rect x="962" y="802" width="1" height="3" fill="#000"/>
<rect x="1026" y="802" width="1" height="3" fill="#000"/>
<rect x="1090" y="802" width="1" height="3" fill="#000"/>
<polygon points="1128,23 1137,23 1132.5,28" fill="#c0c0c0" shape-rendering="auto"/>
<polygon points="4.8,33.5 12.3,33.5 8.55,29" fill="#000" shape-rendering="auto"/>
</svg>
<div class="ttl" style="left:17px;top:25px;font-size:9.8px">USDCAD-,Daily</div><div class="ttl" style="left:92px;top:25px;font-size:9.2px">1.31408 1.31446 1.31382 1.31383</div>


<!-- one click trading panel -->
<div style="left:3px;top:40px;width:223px;height:68px;background:#fff"></div>
<div style="left:5px;top:42px;width:52px;height:25px;background:linear-gradient(#f84c4c,#e43434);box-shadow:inset 0 0 0 1px #d01818"></div>
<div style="left:172px;top:42px;width:52px;height:25px;background:linear-gradient(#f84c4c,#e43434);box-shadow:inset 0 0 0 1px #d01818"></div>
<div style="left:5px;top:66px;width:109px;height:40px;background:linear-gradient(#e03030,#b00606);box-shadow:inset 0 0 0 1px #c41414"></div>
<div style="left:116px;top:66px;width:108px;height:40px;background:linear-gradient(#e03030,#b00606);box-shadow:inset 0 0 0 1px #c41414"></div>
<div style="left:6px;top:60px;width:50px;height:8px;background:#e63636"></div>
<div style="left:173px;top:60px;width:50px;height:8px;background:#e63636"></div>
<div style="left:9px;top:65px;width:44px;height:1px;background:#a80808"></div>
<div style="left:176px;top:65px;width:44px;height:1px;background:#a80808"></div>
<div style="left:5px;top:47px;width:52px;text-align:center;font-size:12px;line-height:15px;color:#fff;letter-spacing:-0.9px;text-indent:-1px">SELL</div>
<div style="left:172px;top:47px;width:52px;text-align:center;font-size:12px;line-height:15px;color:#fff;letter-spacing:-0.6px">BUY</div>
<div style="left:59px;top:42px;width:109px;height:21px;border:1px solid #a8a8b0;border-radius:2px;background:#fff;box-sizing:content-box"></div>
<div style="left:61px;top:44px;width:19px;height:19px;background:linear-gradient(#ececec,#cfcfcf);border-right:1px solid #a8a8b0"></div>
<div style="left:148px;top:44px;width:20px;height:19px;background:linear-gradient(#ececec,#cfcfcf);border-left:1px solid #a8a8b0"></div>
<div style="left:67px;top:51px;width:0;height:0;border-left:3px solid transparent;border-right:3px solid transparent;border-top:3px solid #4a62c0"></div>
<div style="left:155px;top:51px;width:0;height:0;border-left:3px solid transparent;border-right:3px solid transparent;border-bottom:3px solid #4a62c0"></div>
<div style="left:99px;top:46px;width:46px;text-align:right;font-size:12px;line-height:15px">1.00</div>
<div style="left:26px;top:86px;font-size:12px;font-weight:bold;line-height:14px;color:#fff">1.31</div>
<div style="left:136px;top:86px;font-size:12px;font-weight:bold;line-height:14px;color:#fff">1.31</div>
<div style="left:53px;top:65px;font-size:34.5px;line-height:40px;color:#fff;letter-spacing:-2.6px">38</div>
<div style="left:162px;top:65px;font-size:34.5px;line-height:40px;color:#fff;letter-spacing:-2.6px">40</div>
<div style="left:93px;top:71px;font-size:11px;font-weight:bold;line-height:12px;color:#fff">3</div>
<div style="left:204px;top:71px;font-size:11px;font-weight:bold;line-height:12px;color:#fff">8</div>

<div style="left:6px;top:568px;font-size:9.45px;line-height:12px">MACD(12,26,9) -0.002480 -0.004124</div>
<div style="left:6px;top:674px;font-size:9.45px;line-height:12px">RSI(14) 46.7260</div>
<div class="ax" style="top:26px">1.36860</div><div class="ax" style="top:59px">1.36430</div><div class="ax" style="top:92px">1.36000</div><div class="ax" style="top:125px">1.35570</div><div class="ax" style="top:158px">1.35150</div><div class="ax" style="top:191px">1.34720</div><div class="ax" style="top:224px">1.34290</div><div class="ax" style="top:257px">1.33860</div><div class="ax" style="top:290px">1.33430</div><div class="ax" style="top:323px">1.33010</div><div class="ax" style="top:356px">1.32580</div><div class="ax" style="top:389px">1.32150</div><div class="ax" style="top:422px">1.31720</div><div class="ax" style="top:455px">1.31290</div><div class="ax" style="top:488px">1.30870</div><div class="ax" style="top:521px">1.30440</div><div class="ax" style="top:566px;left:1421px">0.010311</div><div class="ax" style="top:614px;left:1421px">0.00</div><div class="ax" style="top:656px;left:1421px">-0.009203</div><div class="ax" style="top:672px;left:1421px">100</div><div class="ax" style="top:705px;left:1421px">70</div><div class="ax" style="top:756px;left:1421px">30</div><div class="ax" style="top:788px;left:1421px">0</div><div style="left:1419px;top:454px;width:41px;height:5px;background:#000"></div><div class="pl" style="top:231px;background:#ff0000"><span>1.34206</span></div><div class="pl" style="top:347px;background:#ff0000"><span>1.32701</span></div><div class="pl" style="top:447px;background:#00ff00"><span>1.31404</span></div><div class="pl" style="top:555px;background:#0000ff"><span>1.30004</span></div><div class="dt" style="left:1px">10 Dec 2018</div><div class="dt" style="left:65px">28 Dec 2018</div><div class="dt" style="left:129px">16 Jan 2019</div><div class="dt" style="left:193px">4 Feb 2019</div><div class="dt" style="left:257px">22 Feb 2019</div><div class="dt" style="left:321px">13 Mar 2019</div><div class="dt" style="left:385px">1 Apr 2019</div><div class="dt" style="left:449px">21 Apr 2019</div><div class="dt" style="left:513px">9 May 2019</div><div class="dt" style="left:577px">28 May 2019</div><div class="dt" style="left:641px">16 Jun 2019</div><div class="dt" style="left:705px">4 Jul 2019</div><div class="dt" style="left:769px">23 Jul 2019</div><div class="dt" style="left:833px">11 Aug 2019</div><div class="dt" style="left:897px">29 Aug 2019</div><div class="dt" style="left:961px">17 Sep 2019</div><div class="dt" style="left:1025px">6 Oct 2019</div><div class="dt" style="left:1089px">24 Oct 2019</div>

<!-- bottom tabs -->
<div style="left:0;top:822px;width:1460px;height:1px;background:#ececec"></div>
<div style="left:0;top:824px;width:1460px;height:1px;background:#000"></div>
<div style="left:0;top:825px;width:1460px;height:1px;background:#fafafa"></div>
<div style="left:0;top:826px;width:1460px;height:18px;background:#f0f0f0"></div>
<div style="left:0;top:845px;width:1460px;height:2px;background:#f0f0f0"></div>
<div style="left:0;top:847px;width:1460px;height:1px;background:#bcbcbc"></div><div style="left:0;top:848px;width:1460px;height:1px;background:#949494"></div>
<div style="left:327px;top:824px;width:106px;height:18px;background:#fff;border:1px solid #000;border-top:none;box-shadow:1px 1px 0 #b0b0b0"></div>
<div class="tab" style="left:338px;color:#000">USDCAD-,Daily</div>
<div class="tab" style="left:14px">EURUSD-,Daily</div><div class="tab" style="left:120.7px">AUDUSD-,Daily</div><div class="tab" style="left:231px">USDCHF-,Daily</div><div class="tab" style="left:447px">USDCNH-,Daily</div><div class="tab" style="left:558.3px">EURCHF-,Weekly</div><div class="tab" style="left:677.3px">XAUUSD-,H1</div><div class="tab" style="left:773.3px">GBPUSD-,H1</div><div class="tab" style="left:870px">UKOil-,H1</div><div class="tab" style="left:949.6px">USDX-,Weekly</div><div class="tab" style="left:1053.2px">EURCHF-,H1</div><div class="tab" style="left:1146.9px">USOil-,H1</div><div class="sep" style="left:111px"></div><div class="sep" style="left:219px"></div><div class="sep" style="left:547px"></div><div class="sep" style="left:667px"></div><div class="sep" style="left:763px"></div><div class="sep" style="left:859px"></div><div class="sep" style="left:939px"></div><div class="sep" style="left:1043px"></div><div class="sep" style="left:1135px"></div><div class="sep" style="left:1215px"></div>
<div style="left:1433px;top:830px;width:0;height:0;border-top:3.5px solid transparent;border-bottom:3.5px solid transparent;border-right:4px solid #a0a0a0"></div>
<div style="left:1452px;top:830px;width:0;height:0;border-top:3.5px solid transparent;border-bottom:3.5px solid transparent;border-left:4px solid #a0a0a0"></div>
</body></html>
